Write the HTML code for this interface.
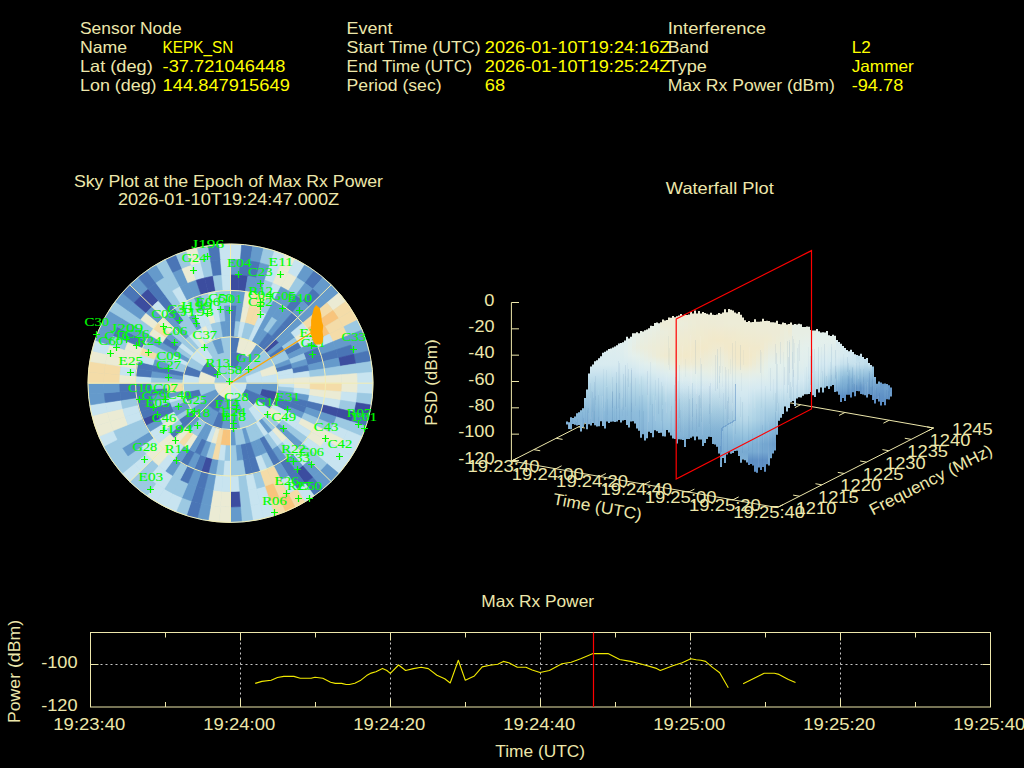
<!DOCTYPE html>
<html><head><meta charset="utf-8"><style>
html,body{margin:0;padding:0;background:#000;width:1024px;height:768px;overflow:hidden}
svg{display:block}
text{font-family:"Liberation Sans",sans-serif}
.m{font-family:"Liberation Mono",monospace}
.s{font-family:"Liberation Serif",serif}
</style></head><body>
<svg width="1024" height="768" viewBox="0 0 1024 768">
<rect width="1024" height="768" fill="#000"/>
<text x="80.00" y="34.00" fill="#ede7ab" font-size="16.5" textLength="101.69" lengthAdjust="spacingAndGlyphs">Sensor Node</text>
<text x="80.00" y="53.00" fill="#ede7ab" font-size="16.5" textLength="47.20" lengthAdjust="spacingAndGlyphs">Name</text>
<text x="80.00" y="72.00" fill="#ede7ab" font-size="16.5" textLength="72.72" lengthAdjust="spacingAndGlyphs">Lat (deg)</text>
<text x="80.00" y="91.00" fill="#ede7ab" font-size="16.5" textLength="76.57" lengthAdjust="spacingAndGlyphs">Lon (deg)</text>
<text x="162.60" y="53.00" fill="#ffff00" font-size="16.5" textLength="70.87" lengthAdjust="spacingAndGlyphs">KEPK_SN</text>
<text x="162.60" y="72.00" fill="#ffff00" font-size="16.5" textLength="122.84" lengthAdjust="spacingAndGlyphs">-37.721046448</text>
<text x="162.60" y="91.00" fill="#ffff00" font-size="16.5" textLength="127.24" lengthAdjust="spacingAndGlyphs">144.847915649</text>
<text x="346.60" y="34.00" fill="#ede7ab" font-size="16.5" textLength="45.84" lengthAdjust="spacingAndGlyphs">Event</text>
<text x="346.60" y="53.00" fill="#ede7ab" font-size="16.5" textLength="134.05" lengthAdjust="spacingAndGlyphs">Start Time (UTC)</text>
<text x="346.60" y="72.00" fill="#ede7ab" font-size="16.5" textLength="125.37" lengthAdjust="spacingAndGlyphs">End Time (UTC)</text>
<text x="346.60" y="91.00" fill="#ede7ab" font-size="16.5" textLength="95.01" lengthAdjust="spacingAndGlyphs">Period (sec)</text>
<text x="484.80" y="53.00" fill="#ffff00" font-size="16.5" textLength="185.58" lengthAdjust="spacingAndGlyphs">2026-01-10T19:24:16Z</text>
<text x="484.80" y="72.00" fill="#ffff00" font-size="16.5" textLength="185.58" lengthAdjust="spacingAndGlyphs">2026-01-10T19:25:24Z</text>
<text x="484.80" y="91.00" fill="#ffff00" font-size="16.5" textLength="20.36" lengthAdjust="spacingAndGlyphs">68</text>
<text x="667.70" y="34.00" fill="#ede7ab" font-size="16.5" textLength="98.23" lengthAdjust="spacingAndGlyphs">Interference</text>
<text x="667.70" y="53.00" fill="#ede7ab" font-size="16.5" textLength="41.08" lengthAdjust="spacingAndGlyphs">Band</text>
<text x="667.70" y="72.00" fill="#ede7ab" font-size="16.5" textLength="39.24" lengthAdjust="spacingAndGlyphs">Type</text>
<text x="667.70" y="91.00" fill="#ede7ab" font-size="16.5" textLength="167.07" lengthAdjust="spacingAndGlyphs">Max Rx Power (dBm)</text>
<text x="851.70" y="53.00" fill="#ffff00" font-size="16.5" textLength="19.09" lengthAdjust="spacingAndGlyphs">L2</text>
<text x="851.70" y="72.00" fill="#ffff00" font-size="16.5" textLength="62.12" lengthAdjust="spacingAndGlyphs">Jammer</text>
<text x="851.70" y="91.00" fill="#ffff00" font-size="16.5" textLength="51.58" lengthAdjust="spacingAndGlyphs">-94.78</text>
<text x="73.95" y="186.50" fill="#ede7ab" font-size="16.5" textLength="309.09" lengthAdjust="spacingAndGlyphs">Sky Plot at the Epoch of Max Rx Power</text>
<text x="117.90" y="205.00" fill="#ede7ab" font-size="16.5" textLength="221.20" lengthAdjust="spacingAndGlyphs">2026-01-10T19:24:47.000Z</text>
<ellipse cx="230.5" cy="383.2" rx="142.5" ry="139.2" fill="#9dcae3"/>
<path d="M230.50,244.00 A142.50,139.20 0 0 1 241.68,244.43 L240.44,259.85 A126.67,123.73 0 0 0 230.50,259.47 Z" fill="#c8e4f0" stroke="#c8e4f0" stroke-width="0.6"/>
<path d="M241.68,244.43 A142.50,139.20 0 0 1 252.79,245.71 L250.32,260.99 A126.67,123.73 0 0 0 240.44,259.85 Z" fill="#4a75b6" stroke="#4a75b6" stroke-width="0.6"/>
<path d="M252.79,245.71 A142.50,139.20 0 0 1 263.77,247.85 L260.07,262.89 A126.67,123.73 0 0 0 250.32,260.99 Z" fill="#659acb" stroke="#659acb" stroke-width="0.6"/>
<path d="M263.77,247.85 A142.50,139.20 0 0 1 274.53,250.81 L269.64,265.52 A126.67,123.73 0 0 0 260.07,262.89 Z" fill="#9cc9e2" stroke="#9cc9e2" stroke-width="0.6"/>
<path d="M274.53,250.81 A142.50,139.20 0 0 1 285.03,254.60 L278.97,268.89 A126.67,123.73 0 0 0 269.64,265.52 Z" fill="#c8e4f0" stroke="#c8e4f0" stroke-width="0.6"/>
<path d="M285.03,254.60 A142.50,139.20 0 0 1 295.19,259.17 L288.01,272.95 A126.67,123.73 0 0 0 278.97,268.89 Z" fill="#ebebd4" stroke="#ebebd4" stroke-width="0.6"/>
<path d="M295.19,259.17 A142.50,139.20 0 0 1 304.96,264.51 L296.68,277.70 A126.67,123.73 0 0 0 288.01,272.95 Z" fill="#c8e4f0" stroke="#c8e4f0" stroke-width="0.6"/>
<path d="M304.96,264.51 A142.50,139.20 0 0 1 314.26,270.58 L304.95,283.10 A126.67,123.73 0 0 0 296.68,277.70 Z" fill="#659acb" stroke="#659acb" stroke-width="0.6"/>
<path d="M314.26,270.58 A142.50,139.20 0 0 1 323.05,277.35 L312.76,289.11 A126.67,123.73 0 0 0 304.95,283.10 Z" fill="#4a75b6" stroke="#4a75b6" stroke-width="0.6"/>
<path d="M323.05,277.35 A142.50,139.20 0 0 1 331.26,284.77 L320.07,295.71 A126.67,123.73 0 0 0 312.76,289.11 Z" fill="#659acb" stroke="#659acb" stroke-width="0.6"/>
<path d="M230.50,259.47 A126.67,123.73 0 0 1 240.44,259.85 L239.20,275.27 A110.83,108.27 0 0 0 230.50,274.93 Z" fill="#659acb" stroke="#659acb" stroke-width="0.6"/>
<path d="M240.44,259.85 A126.67,123.73 0 0 1 250.32,260.99 L247.84,276.27 A110.83,108.27 0 0 0 239.20,275.27 Z" fill="#4a75b6" stroke="#4a75b6" stroke-width="0.6"/>
<path d="M250.32,260.99 A126.67,123.73 0 0 1 260.07,262.89 L256.37,277.92 A110.83,108.27 0 0 0 247.84,276.27 Z" fill="#4a75b6" stroke="#4a75b6" stroke-width="0.6"/>
<path d="M260.07,262.89 A126.67,123.73 0 0 1 269.64,265.52 L264.75,280.23 A110.83,108.27 0 0 0 256.37,277.92 Z" fill="#659acb" stroke="#659acb" stroke-width="0.6"/>
<path d="M269.64,265.52 A126.67,123.73 0 0 1 278.97,268.89 L272.91,283.17 A110.83,108.27 0 0 0 264.75,280.23 Z" fill="#c8e4f0" stroke="#c8e4f0" stroke-width="0.6"/>
<path d="M278.97,268.89 A126.67,123.73 0 0 1 288.01,272.95 L280.82,286.73 A110.83,108.27 0 0 0 272.91,283.17 Z" fill="#ebebd4" stroke="#ebebd4" stroke-width="0.6"/>
<path d="M288.01,272.95 A126.67,123.73 0 0 1 296.68,277.70 L288.41,290.89 A110.83,108.27 0 0 0 280.82,286.73 Z" fill="#ebebd4" stroke="#ebebd4" stroke-width="0.6"/>
<path d="M296.68,277.70 A126.67,123.73 0 0 1 304.95,283.10 L295.65,295.61 A110.83,108.27 0 0 0 288.41,290.89 Z" fill="#9cc9e2" stroke="#9cc9e2" stroke-width="0.6"/>
<path d="M304.95,283.10 A126.67,123.73 0 0 1 312.76,289.11 L302.48,300.87 A110.83,108.27 0 0 0 295.65,295.61 Z" fill="#659acb" stroke="#659acb" stroke-width="0.6"/>
<path d="M312.76,289.11 A126.67,123.73 0 0 1 320.07,295.71 L308.87,306.64 A110.83,108.27 0 0 0 302.48,300.87 Z" fill="#4a75b6" stroke="#4a75b6" stroke-width="0.6"/>
<path d="M230.50,274.93 A110.83,108.27 0 0 1 239.20,275.27 L237.95,290.69 A95.00,92.80 0 0 0 230.50,290.40 Z" fill="#3c4d9f" stroke="#3c4d9f" stroke-width="0.6"/>
<path d="M239.20,275.27 A110.83,108.27 0 0 1 247.84,276.27 L245.36,291.54 A95.00,92.80 0 0 0 237.95,290.69 Z" fill="#3c4d9f" stroke="#3c4d9f" stroke-width="0.6"/>
<path d="M247.84,276.27 A110.83,108.27 0 0 1 256.37,277.92 L252.68,292.96 A95.00,92.80 0 0 0 245.36,291.54 Z" fill="#659acb" stroke="#659acb" stroke-width="0.6"/>
<path d="M256.37,277.92 A110.83,108.27 0 0 1 264.75,280.23 L259.86,294.94 A95.00,92.80 0 0 0 252.68,292.96 Z" fill="#659acb" stroke="#659acb" stroke-width="0.6"/>
<path d="M264.75,280.23 A110.83,108.27 0 0 1 272.91,283.17 L266.85,297.46 A95.00,92.80 0 0 0 259.86,294.94 Z" fill="#9cc9e2" stroke="#9cc9e2" stroke-width="0.6"/>
<path d="M272.91,283.17 A110.83,108.27 0 0 1 280.82,286.73 L273.63,300.51 A95.00,92.80 0 0 0 266.85,297.46 Z" fill="#c8e4f0" stroke="#c8e4f0" stroke-width="0.6"/>
<path d="M280.82,286.73 A110.83,108.27 0 0 1 288.41,290.89 L280.14,304.07 A95.00,92.80 0 0 0 273.63,300.51 Z" fill="#659acb" stroke="#659acb" stroke-width="0.6"/>
<path d="M288.41,290.89 A110.83,108.27 0 0 1 295.65,295.61 L286.34,308.12 A95.00,92.80 0 0 0 280.14,304.07 Z" fill="#659acb" stroke="#659acb" stroke-width="0.6"/>
<path d="M295.65,295.61 A110.83,108.27 0 0 1 302.48,300.87 L292.20,312.63 A95.00,92.80 0 0 0 286.34,308.12 Z" fill="#4a75b6" stroke="#4a75b6" stroke-width="0.6"/>
<path d="M302.48,300.87 A110.83,108.27 0 0 1 308.87,306.64 L297.68,317.58 A95.00,92.80 0 0 0 292.20,312.63 Z" fill="#659acb" stroke="#659acb" stroke-width="0.6"/>
<path d="M230.50,290.40 A95.00,92.80 0 0 1 237.95,290.69 L236.71,306.11 A79.17,77.33 0 0 0 230.50,305.87 Z" fill="#659acb" stroke="#659acb" stroke-width="0.6"/>
<path d="M237.95,290.69 A95.00,92.80 0 0 1 245.36,291.54 L242.88,306.82 A79.17,77.33 0 0 0 236.71,306.11 Z" fill="#659acb" stroke="#659acb" stroke-width="0.6"/>
<path d="M245.36,291.54 A95.00,92.80 0 0 1 252.68,292.96 L248.98,308.00 A79.17,77.33 0 0 0 242.88,306.82 Z" fill="#ebebd4" stroke="#ebebd4" stroke-width="0.6"/>
<path d="M252.68,292.96 A95.00,92.80 0 0 1 259.86,294.94 L254.96,309.65 A79.17,77.33 0 0 0 248.98,308.00 Z" fill="#f4dca8" stroke="#f4dca8" stroke-width="0.6"/>
<path d="M259.86,294.94 A95.00,92.80 0 0 1 266.85,297.46 L260.80,311.75 A79.17,77.33 0 0 0 254.96,309.65 Z" fill="#f4dca8" stroke="#f4dca8" stroke-width="0.6"/>
<path d="M266.85,297.46 A95.00,92.80 0 0 1 273.63,300.51 L266.44,314.30 A79.17,77.33 0 0 0 260.80,311.75 Z" fill="#9cc9e2" stroke="#9cc9e2" stroke-width="0.6"/>
<path d="M273.63,300.51 A95.00,92.80 0 0 1 280.14,304.07 L271.86,317.26 A79.17,77.33 0 0 0 266.44,314.30 Z" fill="#659acb" stroke="#659acb" stroke-width="0.6"/>
<path d="M280.14,304.07 A95.00,92.80 0 0 1 286.34,308.12 L277.03,320.64 A79.17,77.33 0 0 0 271.86,317.26 Z" fill="#659acb" stroke="#659acb" stroke-width="0.6"/>
<path d="M286.34,308.12 A95.00,92.80 0 0 1 292.20,312.63 L281.91,324.40 A79.17,77.33 0 0 0 277.03,320.64 Z" fill="#659acb" stroke="#659acb" stroke-width="0.6"/>
<path d="M292.20,312.63 A95.00,92.80 0 0 1 297.68,317.58 L286.48,328.52 A79.17,77.33 0 0 0 281.91,324.40 Z" fill="#4a75b6" stroke="#4a75b6" stroke-width="0.6"/>
<path d="M230.50,305.87 A79.17,77.33 0 0 1 236.71,306.11 L235.47,321.52 A63.33,61.87 0 0 0 230.50,321.33 Z" fill="#4a75b6" stroke="#4a75b6" stroke-width="0.6"/>
<path d="M236.71,306.11 A79.17,77.33 0 0 1 242.88,306.82 L240.41,322.10 A63.33,61.87 0 0 0 235.47,321.52 Z" fill="#659acb" stroke="#659acb" stroke-width="0.6"/>
<path d="M242.88,306.82 A79.17,77.33 0 0 1 248.98,308.00 L245.28,323.04 A63.33,61.87 0 0 0 240.41,322.10 Z" fill="#ebebd4" stroke="#ebebd4" stroke-width="0.6"/>
<path d="M248.98,308.00 A79.17,77.33 0 0 1 254.96,309.65 L250.07,324.36 A63.33,61.87 0 0 0 245.28,323.04 Z" fill="#f4dca8" stroke="#f4dca8" stroke-width="0.6"/>
<path d="M254.96,309.65 A79.17,77.33 0 0 1 260.80,311.75 L254.74,326.04 A63.33,61.87 0 0 0 250.07,324.36 Z" fill="#f4dca8" stroke="#f4dca8" stroke-width="0.6"/>
<path d="M260.80,311.75 A79.17,77.33 0 0 1 266.44,314.30 L259.25,328.08 A63.33,61.87 0 0 0 254.74,326.04 Z" fill="#c8e4f0" stroke="#c8e4f0" stroke-width="0.6"/>
<path d="M266.44,314.30 A79.17,77.33 0 0 1 271.86,317.26 L263.59,330.45 A63.33,61.87 0 0 0 259.25,328.08 Z" fill="#659acb" stroke="#659acb" stroke-width="0.6"/>
<path d="M271.86,317.26 A79.17,77.33 0 0 1 277.03,320.64 L267.73,333.15 A63.33,61.87 0 0 0 263.59,330.45 Z" fill="#9cc9e2" stroke="#9cc9e2" stroke-width="0.6"/>
<path d="M277.03,320.64 A79.17,77.33 0 0 1 281.91,324.40 L271.63,336.16 A63.33,61.87 0 0 0 267.73,333.15 Z" fill="#659acb" stroke="#659acb" stroke-width="0.6"/>
<path d="M281.91,324.40 A79.17,77.33 0 0 1 286.48,328.52 L275.28,339.45 A63.33,61.87 0 0 0 271.63,336.16 Z" fill="#4a75b6" stroke="#4a75b6" stroke-width="0.6"/>
<path d="M230.50,321.33 A63.33,61.87 0 0 1 235.47,321.52 L234.23,336.94 A47.50,46.40 0 0 0 230.50,336.80 Z" fill="#4a75b6" stroke="#4a75b6" stroke-width="0.6"/>
<path d="M235.47,321.52 A63.33,61.87 0 0 1 240.41,322.10 L237.93,337.37 A47.50,46.40 0 0 0 234.23,336.94 Z" fill="#9cc9e2" stroke="#9cc9e2" stroke-width="0.6"/>
<path d="M240.41,322.10 A63.33,61.87 0 0 1 245.28,323.04 L241.59,338.08 A47.50,46.40 0 0 0 237.93,337.37 Z" fill="#c8e4f0" stroke="#c8e4f0" stroke-width="0.6"/>
<path d="M245.28,323.04 A63.33,61.87 0 0 1 250.07,324.36 L245.18,339.07 A47.50,46.40 0 0 0 241.59,338.08 Z" fill="#9cc9e2" stroke="#9cc9e2" stroke-width="0.6"/>
<path d="M250.07,324.36 A63.33,61.87 0 0 1 254.74,326.04 L248.68,340.33 A47.50,46.40 0 0 0 245.18,339.07 Z" fill="#9cc9e2" stroke="#9cc9e2" stroke-width="0.6"/>
<path d="M254.74,326.04 A63.33,61.87 0 0 1 259.25,328.08 L252.06,341.86 A47.50,46.40 0 0 0 248.68,340.33 Z" fill="#c8e4f0" stroke="#c8e4f0" stroke-width="0.6"/>
<path d="M259.25,328.08 A63.33,61.87 0 0 1 263.59,330.45 L255.32,343.64 A47.50,46.40 0 0 0 252.06,341.86 Z" fill="#659acb" stroke="#659acb" stroke-width="0.6"/>
<path d="M263.59,330.45 A63.33,61.87 0 0 1 267.73,333.15 L258.42,345.66 A47.50,46.40 0 0 0 255.32,343.64 Z" fill="#659acb" stroke="#659acb" stroke-width="0.6"/>
<path d="M267.73,333.15 A63.33,61.87 0 0 1 271.63,336.16 L261.35,347.92 A47.50,46.40 0 0 0 258.42,345.66 Z" fill="#4a75b6" stroke="#4a75b6" stroke-width="0.6"/>
<path d="M271.63,336.16 A63.33,61.87 0 0 1 275.28,339.45 L264.09,350.39 A47.50,46.40 0 0 0 261.35,347.92 Z" fill="#4a75b6" stroke="#4a75b6" stroke-width="0.6"/>
<path d="M331.26,284.77 A142.50,139.20 0 0 1 338.86,292.80 L326.82,302.84 A126.67,123.73 0 0 0 320.07,295.71 Z" fill="#659acb" stroke="#659acb" stroke-width="0.6"/>
<path d="M338.86,292.80 A142.50,139.20 0 0 1 345.78,301.38 L332.98,310.47 A126.67,123.73 0 0 0 326.82,302.84 Z" fill="#ebebd4" stroke="#ebebd4" stroke-width="0.6"/>
<path d="M345.78,301.38 A142.50,139.20 0 0 1 352.00,310.47 L338.50,318.55 A126.67,123.73 0 0 0 332.98,310.47 Z" fill="#f4dca8" stroke="#f4dca8" stroke-width="0.6"/>
<path d="M352.00,310.47 A142.50,139.20 0 0 1 357.47,320.00 L343.36,327.03 A126.67,123.73 0 0 0 338.50,318.55 Z" fill="#f4dca8" stroke="#f4dca8" stroke-width="0.6"/>
<path d="M357.47,320.00 A142.50,139.20 0 0 1 362.15,329.93 L347.52,335.85 A126.67,123.73 0 0 0 343.36,327.03 Z" fill="#9cc9e2" stroke="#9cc9e2" stroke-width="0.6"/>
<path d="M362.15,329.93 A142.50,139.20 0 0 1 366.03,340.18 L350.97,344.96 A126.67,123.73 0 0 0 347.52,335.85 Z" fill="#659acb" stroke="#659acb" stroke-width="0.6"/>
<path d="M366.03,340.18 A142.50,139.20 0 0 1 369.06,350.70 L353.67,354.32 A126.67,123.73 0 0 0 350.97,344.96 Z" fill="#659acb" stroke="#659acb" stroke-width="0.6"/>
<path d="M369.06,350.70 A142.50,139.20 0 0 1 371.25,361.42 L355.61,363.84 A126.67,123.73 0 0 0 353.67,354.32 Z" fill="#4a75b6" stroke="#4a75b6" stroke-width="0.6"/>
<path d="M371.25,361.42 A142.50,139.20 0 0 1 372.56,372.28 L356.78,373.49 A126.67,123.73 0 0 0 355.61,363.84 Z" fill="#9cc9e2" stroke="#9cc9e2" stroke-width="0.6"/>
<path d="M372.56,372.28 A142.50,139.20 0 0 1 373.00,383.20 L357.17,383.20 A126.67,123.73 0 0 0 356.78,373.49 Z" fill="#c8e4f0" stroke="#c8e4f0" stroke-width="0.6"/>
<path d="M320.07,295.71 A126.67,123.73 0 0 1 326.82,302.84 L314.78,312.89 A110.83,108.27 0 0 0 308.87,306.64 Z" fill="#659acb" stroke="#659acb" stroke-width="0.6"/>
<path d="M326.82,302.84 A126.67,123.73 0 0 1 332.98,310.47 L320.17,319.56 A110.83,108.27 0 0 0 314.78,312.89 Z" fill="#f4dca8" stroke="#f4dca8" stroke-width="0.6"/>
<path d="M332.98,310.47 A126.67,123.73 0 0 1 338.50,318.55 L325.00,326.63 A110.83,108.27 0 0 0 320.17,319.56 Z" fill="#f8c47c" stroke="#f8c47c" stroke-width="0.6"/>
<path d="M338.50,318.55 A126.67,123.73 0 0 1 343.36,327.03 L329.25,334.05 A110.83,108.27 0 0 0 325.00,326.63 Z" fill="#f4dca8" stroke="#f4dca8" stroke-width="0.6"/>
<path d="M343.36,327.03 A126.67,123.73 0 0 1 347.52,335.85 L332.90,341.77 A110.83,108.27 0 0 0 329.25,334.05 Z" fill="#f4dca8" stroke="#f4dca8" stroke-width="0.6"/>
<path d="M347.52,335.85 A126.67,123.73 0 0 1 350.97,344.96 L335.91,349.74 A110.83,108.27 0 0 0 332.90,341.77 Z" fill="#659acb" stroke="#659acb" stroke-width="0.6"/>
<path d="M350.97,344.96 A126.67,123.73 0 0 1 353.67,354.32 L338.27,357.93 A110.83,108.27 0 0 0 335.91,349.74 Z" fill="#4a75b6" stroke="#4a75b6" stroke-width="0.6"/>
<path d="M353.67,354.32 A126.67,123.73 0 0 1 355.61,363.84 L339.97,366.26 A110.83,108.27 0 0 0 338.27,357.93 Z" fill="#3c4d9f" stroke="#3c4d9f" stroke-width="0.6"/>
<path d="M355.61,363.84 A126.67,123.73 0 0 1 356.78,373.49 L340.99,374.71 A110.83,108.27 0 0 0 339.97,366.26 Z" fill="#9cc9e2" stroke="#9cc9e2" stroke-width="0.6"/>
<path d="M356.78,373.49 A126.67,123.73 0 0 1 357.17,383.20 L341.33,383.20 A110.83,108.27 0 0 0 340.99,374.71 Z" fill="#ebebd4" stroke="#ebebd4" stroke-width="0.6"/>
<path d="M308.87,306.64 A110.83,108.27 0 0 1 314.78,312.89 L302.74,322.93 A95.00,92.80 0 0 0 297.68,317.58 Z" fill="#659acb" stroke="#659acb" stroke-width="0.6"/>
<path d="M314.78,312.89 A110.83,108.27 0 0 1 320.17,319.56 L307.36,328.65 A95.00,92.80 0 0 0 302.74,322.93 Z" fill="#f4dca8" stroke="#f4dca8" stroke-width="0.6"/>
<path d="M320.17,319.56 A110.83,108.27 0 0 1 325.00,326.63 L311.50,334.71 A95.00,92.80 0 0 0 307.36,328.65 Z" fill="#f8c47c" stroke="#f8c47c" stroke-width="0.6"/>
<path d="M325.00,326.63 A110.83,108.27 0 0 1 329.25,334.05 L315.15,341.07 A95.00,92.80 0 0 0 311.50,334.71 Z" fill="#f8c47c" stroke="#f8c47c" stroke-width="0.6"/>
<path d="M329.25,334.05 A110.83,108.27 0 0 1 332.90,341.77 L318.27,347.69 A95.00,92.80 0 0 0 315.15,341.07 Z" fill="#c8e4f0" stroke="#c8e4f0" stroke-width="0.6"/>
<path d="M332.90,341.77 A110.83,108.27 0 0 1 335.91,349.74 L320.85,354.52 A95.00,92.80 0 0 0 318.27,347.69 Z" fill="#659acb" stroke="#659acb" stroke-width="0.6"/>
<path d="M335.91,349.74 A110.83,108.27 0 0 1 338.27,357.93 L322.88,361.54 A95.00,92.80 0 0 0 320.85,354.52 Z" fill="#4a75b6" stroke="#4a75b6" stroke-width="0.6"/>
<path d="M338.27,357.93 A110.83,108.27 0 0 1 339.97,366.26 L324.33,368.68 A95.00,92.80 0 0 0 322.88,361.54 Z" fill="#659acb" stroke="#659acb" stroke-width="0.6"/>
<path d="M339.97,366.26 A110.83,108.27 0 0 1 340.99,374.71 L325.21,375.92 A95.00,92.80 0 0 0 324.33,368.68 Z" fill="#9cc9e2" stroke="#9cc9e2" stroke-width="0.6"/>
<path d="M340.99,374.71 A110.83,108.27 0 0 1 341.33,383.20 L325.50,383.20 A95.00,92.80 0 0 0 325.21,375.92 Z" fill="#ebebd4" stroke="#ebebd4" stroke-width="0.6"/>
<path d="M297.68,317.58 A95.00,92.80 0 0 1 302.74,322.93 L290.70,332.98 A79.17,77.33 0 0 0 286.48,328.52 Z" fill="#659acb" stroke="#659acb" stroke-width="0.6"/>
<path d="M302.74,322.93 A95.00,92.80 0 0 1 307.36,328.65 L294.55,337.74 A79.17,77.33 0 0 0 290.70,332.98 Z" fill="#c8e4f0" stroke="#c8e4f0" stroke-width="0.6"/>
<path d="M307.36,328.65 A95.00,92.80 0 0 1 311.50,334.71 L298.00,342.79 A79.17,77.33 0 0 0 294.55,337.74 Z" fill="#ebebd4" stroke="#ebebd4" stroke-width="0.6"/>
<path d="M311.50,334.71 A95.00,92.80 0 0 1 315.15,341.07 L301.04,348.09 A79.17,77.33 0 0 0 298.00,342.79 Z" fill="#c8e4f0" stroke="#c8e4f0" stroke-width="0.6"/>
<path d="M315.15,341.07 A95.00,92.80 0 0 1 318.27,347.69 L303.64,353.61 A79.17,77.33 0 0 0 301.04,348.09 Z" fill="#659acb" stroke="#659acb" stroke-width="0.6"/>
<path d="M318.27,347.69 A95.00,92.80 0 0 1 320.85,354.52 L305.79,359.30 A79.17,77.33 0 0 0 303.64,353.61 Z" fill="#4a75b6" stroke="#4a75b6" stroke-width="0.6"/>
<path d="M320.85,354.52 A95.00,92.80 0 0 1 322.88,361.54 L307.48,365.15 A79.17,77.33 0 0 0 305.79,359.30 Z" fill="#4a75b6" stroke="#4a75b6" stroke-width="0.6"/>
<path d="M322.88,361.54 A95.00,92.80 0 0 1 324.33,368.68 L308.69,371.10 A79.17,77.33 0 0 0 307.48,365.15 Z" fill="#659acb" stroke="#659acb" stroke-width="0.6"/>
<path d="M324.33,368.68 A95.00,92.80 0 0 1 325.21,375.92 L309.42,377.13 A79.17,77.33 0 0 0 308.69,371.10 Z" fill="#9cc9e2" stroke="#9cc9e2" stroke-width="0.6"/>
<path d="M325.21,375.92 A95.00,92.80 0 0 1 325.50,383.20 L309.67,383.20 A79.17,77.33 0 0 0 309.42,377.13 Z" fill="#ebebd4" stroke="#ebebd4" stroke-width="0.6"/>
<path d="M286.48,328.52 A79.17,77.33 0 0 1 290.70,332.98 L278.66,343.02 A63.33,61.87 0 0 0 275.28,339.45 Z" fill="#659acb" stroke="#659acb" stroke-width="0.6"/>
<path d="M290.70,332.98 A79.17,77.33 0 0 1 294.55,337.74 L281.74,346.84 A63.33,61.87 0 0 0 278.66,343.02 Z" fill="#659acb" stroke="#659acb" stroke-width="0.6"/>
<path d="M294.55,337.74 A79.17,77.33 0 0 1 298.00,342.79 L284.50,350.87 A63.33,61.87 0 0 0 281.74,346.84 Z" fill="#9cc9e2" stroke="#9cc9e2" stroke-width="0.6"/>
<path d="M298.00,342.79 A79.17,77.33 0 0 1 301.04,348.09 L286.93,355.11 A63.33,61.87 0 0 0 284.50,350.87 Z" fill="#4a75b6" stroke="#4a75b6" stroke-width="0.6"/>
<path d="M301.04,348.09 A79.17,77.33 0 0 1 303.64,353.61 L289.01,359.52 A63.33,61.87 0 0 0 286.93,355.11 Z" fill="#659acb" stroke="#659acb" stroke-width="0.6"/>
<path d="M303.64,353.61 A79.17,77.33 0 0 1 305.79,359.30 L290.73,364.08 A63.33,61.87 0 0 0 289.01,359.52 Z" fill="#9cc9e2" stroke="#9cc9e2" stroke-width="0.6"/>
<path d="M305.79,359.30 A79.17,77.33 0 0 1 307.48,365.15 L292.08,368.76 A63.33,61.87 0 0 0 290.73,364.08 Z" fill="#659acb" stroke="#659acb" stroke-width="0.6"/>
<path d="M307.48,365.15 A79.17,77.33 0 0 1 308.69,371.10 L293.05,373.52 A63.33,61.87 0 0 0 292.08,368.76 Z" fill="#4a75b6" stroke="#4a75b6" stroke-width="0.6"/>
<path d="M308.69,371.10 A79.17,77.33 0 0 1 309.42,377.13 L293.64,378.35 A63.33,61.87 0 0 0 293.05,373.52 Z" fill="#c8e4f0" stroke="#c8e4f0" stroke-width="0.6"/>
<path d="M309.42,377.13 A79.17,77.33 0 0 1 309.67,383.20 L293.83,383.20 A63.33,61.87 0 0 0 293.64,378.35 Z" fill="#ebebd4" stroke="#ebebd4" stroke-width="0.6"/>
<path d="M275.28,339.45 A63.33,61.87 0 0 1 278.66,343.02 L266.62,353.07 A47.50,46.40 0 0 0 264.09,350.39 Z" fill="#3c4d9f" stroke="#3c4d9f" stroke-width="0.6"/>
<path d="M278.66,343.02 A63.33,61.87 0 0 1 281.74,346.84 L268.93,355.93 A47.50,46.40 0 0 0 266.62,353.07 Z" fill="#659acb" stroke="#659acb" stroke-width="0.6"/>
<path d="M281.74,346.84 A63.33,61.87 0 0 1 284.50,350.87 L271.00,358.96 A47.50,46.40 0 0 0 268.93,355.93 Z" fill="#4a75b6" stroke="#4a75b6" stroke-width="0.6"/>
<path d="M284.50,350.87 A63.33,61.87 0 0 1 286.93,355.11 L272.82,362.13 A47.50,46.40 0 0 0 271.00,358.96 Z" fill="#9cc9e2" stroke="#9cc9e2" stroke-width="0.6"/>
<path d="M286.93,355.11 A63.33,61.87 0 0 1 289.01,359.52 L274.38,365.44 A47.50,46.40 0 0 0 272.82,362.13 Z" fill="#9cc9e2" stroke="#9cc9e2" stroke-width="0.6"/>
<path d="M289.01,359.52 A63.33,61.87 0 0 1 290.73,364.08 L275.68,368.86 A47.50,46.40 0 0 0 274.38,365.44 Z" fill="#659acb" stroke="#659acb" stroke-width="0.6"/>
<path d="M290.73,364.08 A63.33,61.87 0 0 1 292.08,368.76 L276.69,372.37 A47.50,46.40 0 0 0 275.68,368.86 Z" fill="#4a75b6" stroke="#4a75b6" stroke-width="0.6"/>
<path d="M292.08,368.76 A63.33,61.87 0 0 1 293.05,373.52 L277.42,375.94 A47.50,46.40 0 0 0 276.69,372.37 Z" fill="#c8e4f0" stroke="#c8e4f0" stroke-width="0.6"/>
<path d="M293.05,373.52 A63.33,61.87 0 0 1 293.64,378.35 L277.85,379.56 A47.50,46.40 0 0 0 277.42,375.94 Z" fill="#c8e4f0" stroke="#c8e4f0" stroke-width="0.6"/>
<path d="M293.64,378.35 A63.33,61.87 0 0 1 293.83,383.20 L278.00,383.20 A47.50,46.40 0 0 0 277.85,379.56 Z" fill="#ebebd4" stroke="#ebebd4" stroke-width="0.6"/>
<path d="M373.00,383.20 A142.50,139.20 0 0 1 372.56,394.12 L356.78,392.91 A126.67,123.73 0 0 0 357.17,383.20 Z" fill="#c8e4f0" stroke="#c8e4f0" stroke-width="0.6"/>
<path d="M372.56,394.12 A142.50,139.20 0 0 1 371.25,404.98 L355.61,402.56 A126.67,123.73 0 0 0 356.78,392.91 Z" fill="#9cc9e2" stroke="#9cc9e2" stroke-width="0.6"/>
<path d="M371.25,404.98 A142.50,139.20 0 0 1 369.06,415.70 L353.67,412.08 A126.67,123.73 0 0 0 355.61,402.56 Z" fill="#3c4d9f" stroke="#3c4d9f" stroke-width="0.6"/>
<path d="M369.06,415.70 A142.50,139.20 0 0 1 366.03,426.22 L350.97,421.44 A126.67,123.73 0 0 0 353.67,412.08 Z" fill="#4a75b6" stroke="#4a75b6" stroke-width="0.6"/>
<path d="M366.03,426.22 A142.50,139.20 0 0 1 362.15,436.47 L347.52,430.55 A126.67,123.73 0 0 0 350.97,421.44 Z" fill="#9cc9e2" stroke="#9cc9e2" stroke-width="0.6"/>
<path d="M362.15,436.47 A142.50,139.20 0 0 1 357.47,446.40 L343.36,439.37 A126.67,123.73 0 0 0 347.52,430.55 Z" fill="#c8e4f0" stroke="#c8e4f0" stroke-width="0.6"/>
<path d="M357.47,446.40 A142.50,139.20 0 0 1 352.00,455.93 L338.50,447.85 A126.67,123.73 0 0 0 343.36,439.37 Z" fill="#c8e4f0" stroke="#c8e4f0" stroke-width="0.6"/>
<path d="M352.00,455.93 A142.50,139.20 0 0 1 345.78,465.02 L332.98,455.93 A126.67,123.73 0 0 0 338.50,447.85 Z" fill="#c8e4f0" stroke="#c8e4f0" stroke-width="0.6"/>
<path d="M345.78,465.02 A142.50,139.20 0 0 1 338.86,473.60 L326.82,463.56 A126.67,123.73 0 0 0 332.98,455.93 Z" fill="#c8e4f0" stroke="#c8e4f0" stroke-width="0.6"/>
<path d="M338.86,473.60 A142.50,139.20 0 0 1 331.26,481.63 L320.07,470.69 A126.67,123.73 0 0 0 326.82,463.56 Z" fill="#659acb" stroke="#659acb" stroke-width="0.6"/>
<path d="M357.17,383.20 A126.67,123.73 0 0 1 356.78,392.91 L340.99,391.69 A110.83,108.27 0 0 0 341.33,383.20 Z" fill="#ebebd4" stroke="#ebebd4" stroke-width="0.6"/>
<path d="M356.78,392.91 A126.67,123.73 0 0 1 355.61,402.56 L339.97,400.14 A110.83,108.27 0 0 0 340.99,391.69 Z" fill="#c8e4f0" stroke="#c8e4f0" stroke-width="0.6"/>
<path d="M355.61,402.56 A126.67,123.73 0 0 1 353.67,412.08 L338.27,408.47 A110.83,108.27 0 0 0 339.97,400.14 Z" fill="#9cc9e2" stroke="#9cc9e2" stroke-width="0.6"/>
<path d="M353.67,412.08 A126.67,123.73 0 0 1 350.97,421.44 L335.91,416.66 A110.83,108.27 0 0 0 338.27,408.47 Z" fill="#3c4d9f" stroke="#3c4d9f" stroke-width="0.6"/>
<path d="M350.97,421.44 A126.67,123.73 0 0 1 347.52,430.55 L332.90,424.63 A110.83,108.27 0 0 0 335.91,416.66 Z" fill="#9cc9e2" stroke="#9cc9e2" stroke-width="0.6"/>
<path d="M347.52,430.55 A126.67,123.73 0 0 1 343.36,439.37 L329.25,432.35 A110.83,108.27 0 0 0 332.90,424.63 Z" fill="#c8e4f0" stroke="#c8e4f0" stroke-width="0.6"/>
<path d="M343.36,439.37 A126.67,123.73 0 0 1 338.50,447.85 L325.00,439.77 A110.83,108.27 0 0 0 329.25,432.35 Z" fill="#ebebd4" stroke="#ebebd4" stroke-width="0.6"/>
<path d="M338.50,447.85 A126.67,123.73 0 0 1 332.98,455.93 L320.17,446.84 A110.83,108.27 0 0 0 325.00,439.77 Z" fill="#c8e4f0" stroke="#c8e4f0" stroke-width="0.6"/>
<path d="M332.98,455.93 A126.67,123.73 0 0 1 326.82,463.56 L314.78,453.51 A110.83,108.27 0 0 0 320.17,446.84 Z" fill="#c8e4f0" stroke="#c8e4f0" stroke-width="0.6"/>
<path d="M326.82,463.56 A126.67,123.73 0 0 1 320.07,470.69 L308.87,459.76 A110.83,108.27 0 0 0 314.78,453.51 Z" fill="#9cc9e2" stroke="#9cc9e2" stroke-width="0.6"/>
<path d="M341.33,383.20 A110.83,108.27 0 0 1 340.99,391.69 L325.21,390.48 A95.00,92.80 0 0 0 325.50,383.20 Z" fill="#f4dca8" stroke="#f4dca8" stroke-width="0.6"/>
<path d="M340.99,391.69 A110.83,108.27 0 0 1 339.97,400.14 L324.33,397.72 A95.00,92.80 0 0 0 325.21,390.48 Z" fill="#ebebd4" stroke="#ebebd4" stroke-width="0.6"/>
<path d="M339.97,400.14 A110.83,108.27 0 0 1 338.27,408.47 L322.88,404.86 A95.00,92.80 0 0 0 324.33,397.72 Z" fill="#c8e4f0" stroke="#c8e4f0" stroke-width="0.6"/>
<path d="M338.27,408.47 A110.83,108.27 0 0 1 335.91,416.66 L320.85,411.88 A95.00,92.80 0 0 0 322.88,404.86 Z" fill="#3c4d9f" stroke="#3c4d9f" stroke-width="0.6"/>
<path d="M335.91,416.66 A110.83,108.27 0 0 1 332.90,424.63 L318.27,418.71 A95.00,92.80 0 0 0 320.85,411.88 Z" fill="#659acb" stroke="#659acb" stroke-width="0.6"/>
<path d="M332.90,424.63 A110.83,108.27 0 0 1 329.25,432.35 L315.15,425.33 A95.00,92.80 0 0 0 318.27,418.71 Z" fill="#9cc9e2" stroke="#9cc9e2" stroke-width="0.6"/>
<path d="M329.25,432.35 A110.83,108.27 0 0 1 325.00,439.77 L311.50,431.69 A95.00,92.80 0 0 0 315.15,425.33 Z" fill="#ebebd4" stroke="#ebebd4" stroke-width="0.6"/>
<path d="M325.00,439.77 A110.83,108.27 0 0 1 320.17,446.84 L307.36,437.75 A95.00,92.80 0 0 0 311.50,431.69 Z" fill="#ebebd4" stroke="#ebebd4" stroke-width="0.6"/>
<path d="M320.17,446.84 A110.83,108.27 0 0 1 314.78,453.51 L302.74,443.47 A95.00,92.80 0 0 0 307.36,437.75 Z" fill="#c8e4f0" stroke="#c8e4f0" stroke-width="0.6"/>
<path d="M314.78,453.51 A110.83,108.27 0 0 1 308.87,459.76 L297.68,448.82 A95.00,92.80 0 0 0 302.74,443.47 Z" fill="#9cc9e2" stroke="#9cc9e2" stroke-width="0.6"/>
<path d="M325.50,383.20 A95.00,92.80 0 0 1 325.21,390.48 L309.42,389.27 A79.17,77.33 0 0 0 309.67,383.20 Z" fill="#f4dca8" stroke="#f4dca8" stroke-width="0.6"/>
<path d="M325.21,390.48 A95.00,92.80 0 0 1 324.33,397.72 L308.69,395.30 A79.17,77.33 0 0 0 309.42,389.27 Z" fill="#ebebd4" stroke="#ebebd4" stroke-width="0.6"/>
<path d="M324.33,397.72 A95.00,92.80 0 0 1 322.88,404.86 L307.48,401.25 A79.17,77.33 0 0 0 308.69,395.30 Z" fill="#c8e4f0" stroke="#c8e4f0" stroke-width="0.6"/>
<path d="M322.88,404.86 A95.00,92.80 0 0 1 320.85,411.88 L305.79,407.10 A79.17,77.33 0 0 0 307.48,401.25 Z" fill="#4a75b6" stroke="#4a75b6" stroke-width="0.6"/>
<path d="M320.85,411.88 A95.00,92.80 0 0 1 318.27,418.71 L303.64,412.79 A79.17,77.33 0 0 0 305.79,407.10 Z" fill="#659acb" stroke="#659acb" stroke-width="0.6"/>
<path d="M318.27,418.71 A95.00,92.80 0 0 1 315.15,425.33 L301.04,418.31 A79.17,77.33 0 0 0 303.64,412.79 Z" fill="#9cc9e2" stroke="#9cc9e2" stroke-width="0.6"/>
<path d="M315.15,425.33 A95.00,92.80 0 0 1 311.50,431.69 L298.00,423.61 A79.17,77.33 0 0 0 301.04,418.31 Z" fill="#ebebd4" stroke="#ebebd4" stroke-width="0.6"/>
<path d="M311.50,431.69 A95.00,92.80 0 0 1 307.36,437.75 L294.55,428.66 A79.17,77.33 0 0 0 298.00,423.61 Z" fill="#c8e4f0" stroke="#c8e4f0" stroke-width="0.6"/>
<path d="M307.36,437.75 A95.00,92.80 0 0 1 302.74,443.47 L290.70,433.42 A79.17,77.33 0 0 0 294.55,428.66 Z" fill="#9cc9e2" stroke="#9cc9e2" stroke-width="0.6"/>
<path d="M302.74,443.47 A95.00,92.80 0 0 1 297.68,448.82 L286.48,437.88 A79.17,77.33 0 0 0 290.70,433.42 Z" fill="#659acb" stroke="#659acb" stroke-width="0.6"/>
<path d="M309.67,383.20 A79.17,77.33 0 0 1 309.42,389.27 L293.64,388.05 A63.33,61.87 0 0 0 293.83,383.20 Z" fill="#ebebd4" stroke="#ebebd4" stroke-width="0.6"/>
<path d="M309.42,389.27 A79.17,77.33 0 0 1 308.69,395.30 L293.05,392.88 A63.33,61.87 0 0 0 293.64,388.05 Z" fill="#c8e4f0" stroke="#c8e4f0" stroke-width="0.6"/>
<path d="M308.69,395.30 A79.17,77.33 0 0 1 307.48,401.25 L292.08,397.64 A63.33,61.87 0 0 0 293.05,392.88 Z" fill="#659acb" stroke="#659acb" stroke-width="0.6"/>
<path d="M307.48,401.25 A79.17,77.33 0 0 1 305.79,407.10 L290.73,402.32 A63.33,61.87 0 0 0 292.08,397.64 Z" fill="#4a75b6" stroke="#4a75b6" stroke-width="0.6"/>
<path d="M305.79,407.10 A79.17,77.33 0 0 1 303.64,412.79 L289.01,406.88 A63.33,61.87 0 0 0 290.73,402.32 Z" fill="#4a75b6" stroke="#4a75b6" stroke-width="0.6"/>
<path d="M303.64,412.79 A79.17,77.33 0 0 1 301.04,418.31 L286.93,411.29 A63.33,61.87 0 0 0 289.01,406.88 Z" fill="#659acb" stroke="#659acb" stroke-width="0.6"/>
<path d="M301.04,418.31 A79.17,77.33 0 0 1 298.00,423.61 L284.50,415.53 A63.33,61.87 0 0 0 286.93,411.29 Z" fill="#c8e4f0" stroke="#c8e4f0" stroke-width="0.6"/>
<path d="M298.00,423.61 A79.17,77.33 0 0 1 294.55,428.66 L281.74,419.56 A63.33,61.87 0 0 0 284.50,415.53 Z" fill="#c8e4f0" stroke="#c8e4f0" stroke-width="0.6"/>
<path d="M294.55,428.66 A79.17,77.33 0 0 1 290.70,433.42 L278.66,423.38 A63.33,61.87 0 0 0 281.74,419.56 Z" fill="#9cc9e2" stroke="#9cc9e2" stroke-width="0.6"/>
<path d="M290.70,433.42 A79.17,77.33 0 0 1 286.48,437.88 L275.28,426.95 A63.33,61.87 0 0 0 278.66,423.38 Z" fill="#659acb" stroke="#659acb" stroke-width="0.6"/>
<path d="M293.83,383.20 A63.33,61.87 0 0 1 293.64,388.05 L277.85,386.84 A47.50,46.40 0 0 0 278.00,383.20 Z" fill="#c8e4f0" stroke="#c8e4f0" stroke-width="0.6"/>
<path d="M293.64,388.05 A63.33,61.87 0 0 1 293.05,392.88 L277.42,390.46 A47.50,46.40 0 0 0 277.85,386.84 Z" fill="#9cc9e2" stroke="#9cc9e2" stroke-width="0.6"/>
<path d="M293.05,392.88 A63.33,61.87 0 0 1 292.08,397.64 L276.69,394.03 A47.50,46.40 0 0 0 277.42,390.46 Z" fill="#659acb" stroke="#659acb" stroke-width="0.6"/>
<path d="M292.08,397.64 A63.33,61.87 0 0 1 290.73,402.32 L275.68,397.54 A47.50,46.40 0 0 0 276.69,394.03 Z" fill="#659acb" stroke="#659acb" stroke-width="0.6"/>
<path d="M290.73,402.32 A63.33,61.87 0 0 1 289.01,406.88 L274.38,400.96 A47.50,46.40 0 0 0 275.68,397.54 Z" fill="#4a75b6" stroke="#4a75b6" stroke-width="0.6"/>
<path d="M289.01,406.88 A63.33,61.87 0 0 1 286.93,411.29 L272.82,404.27 A47.50,46.40 0 0 0 274.38,400.96 Z" fill="#4a75b6" stroke="#4a75b6" stroke-width="0.6"/>
<path d="M286.93,411.29 A63.33,61.87 0 0 1 284.50,415.53 L271.00,407.44 A47.50,46.40 0 0 0 272.82,404.27 Z" fill="#c8e4f0" stroke="#c8e4f0" stroke-width="0.6"/>
<path d="M284.50,415.53 A63.33,61.87 0 0 1 281.74,419.56 L268.93,410.47 A47.50,46.40 0 0 0 271.00,407.44 Z" fill="#ebebd4" stroke="#ebebd4" stroke-width="0.6"/>
<path d="M281.74,419.56 A63.33,61.87 0 0 1 278.66,423.38 L266.62,413.33 A47.50,46.40 0 0 0 268.93,410.47 Z" fill="#ebebd4" stroke="#ebebd4" stroke-width="0.6"/>
<path d="M278.66,423.38 A63.33,61.87 0 0 1 275.28,426.95 L264.09,416.01 A47.50,46.40 0 0 0 266.62,413.33 Z" fill="#9cc9e2" stroke="#9cc9e2" stroke-width="0.6"/>
<path d="M331.26,481.63 A142.50,139.20 0 0 1 323.05,489.05 L312.76,477.29 A126.67,123.73 0 0 0 320.07,470.69 Z" fill="#659acb" stroke="#659acb" stroke-width="0.6"/>
<path d="M323.05,489.05 A142.50,139.20 0 0 1 314.26,495.82 L304.95,483.30 A126.67,123.73 0 0 0 312.76,477.29 Z" fill="#4a75b6" stroke="#4a75b6" stroke-width="0.6"/>
<path d="M314.26,495.82 A142.50,139.20 0 0 1 304.96,501.89 L296.68,488.70 A126.67,123.73 0 0 0 304.95,483.30 Z" fill="#c8e4f0" stroke="#c8e4f0" stroke-width="0.6"/>
<path d="M304.96,501.89 A142.50,139.20 0 0 1 295.19,507.23 L288.01,493.45 A126.67,123.73 0 0 0 296.68,488.70 Z" fill="#f4dca8" stroke="#f4dca8" stroke-width="0.6"/>
<path d="M295.19,507.23 A142.50,139.20 0 0 1 285.03,511.80 L278.97,497.51 A126.67,123.73 0 0 0 288.01,493.45 Z" fill="#f8c47c" stroke="#f8c47c" stroke-width="0.6"/>
<path d="M285.03,511.80 A142.50,139.20 0 0 1 274.53,515.59 L269.64,500.88 A126.67,123.73 0 0 0 278.97,497.51 Z" fill="#f4dca8" stroke="#f4dca8" stroke-width="0.6"/>
<path d="M274.53,515.59 A142.50,139.20 0 0 1 263.77,518.55 L260.07,503.51 A126.67,123.73 0 0 0 269.64,500.88 Z" fill="#c8e4f0" stroke="#c8e4f0" stroke-width="0.6"/>
<path d="M263.77,518.55 A142.50,139.20 0 0 1 252.79,520.69 L250.32,505.41 A126.67,123.73 0 0 0 260.07,503.51 Z" fill="#c8e4f0" stroke="#c8e4f0" stroke-width="0.6"/>
<path d="M252.79,520.69 A142.50,139.20 0 0 1 241.68,521.97 L240.44,506.55 A126.67,123.73 0 0 0 250.32,505.41 Z" fill="#9cc9e2" stroke="#9cc9e2" stroke-width="0.6"/>
<path d="M241.68,521.97 A142.50,139.20 0 0 1 230.50,522.40 L230.50,506.93 A126.67,123.73 0 0 0 240.44,506.55 Z" fill="#659acb" stroke="#659acb" stroke-width="0.6"/>
<path d="M320.07,470.69 A126.67,123.73 0 0 1 312.76,477.29 L302.48,465.53 A110.83,108.27 0 0 0 308.87,459.76 Z" fill="#659acb" stroke="#659acb" stroke-width="0.6"/>
<path d="M312.76,477.29 A126.67,123.73 0 0 1 304.95,483.30 L295.65,470.79 A110.83,108.27 0 0 0 302.48,465.53 Z" fill="#3c4d9f" stroke="#3c4d9f" stroke-width="0.6"/>
<path d="M304.95,483.30 A126.67,123.73 0 0 1 296.68,488.70 L288.41,475.51 A110.83,108.27 0 0 0 295.65,470.79 Z" fill="#4a75b6" stroke="#4a75b6" stroke-width="0.6"/>
<path d="M296.68,488.70 A126.67,123.73 0 0 1 288.01,493.45 L280.82,479.67 A110.83,108.27 0 0 0 288.41,475.51 Z" fill="#c8e4f0" stroke="#c8e4f0" stroke-width="0.6"/>
<path d="M288.01,493.45 A126.67,123.73 0 0 1 278.97,497.51 L272.91,483.23 A110.83,108.27 0 0 0 280.82,479.67 Z" fill="#f4dca8" stroke="#f4dca8" stroke-width="0.6"/>
<path d="M278.97,497.51 A126.67,123.73 0 0 1 269.64,500.88 L264.75,486.17 A110.83,108.27 0 0 0 272.91,483.23 Z" fill="#f8c47c" stroke="#f8c47c" stroke-width="0.6"/>
<path d="M269.64,500.88 A126.67,123.73 0 0 1 260.07,503.51 L256.37,488.48 A110.83,108.27 0 0 0 264.75,486.17 Z" fill="#c8e4f0" stroke="#c8e4f0" stroke-width="0.6"/>
<path d="M260.07,503.51 A126.67,123.73 0 0 1 250.32,505.41 L247.84,490.13 A110.83,108.27 0 0 0 256.37,488.48 Z" fill="#c8e4f0" stroke="#c8e4f0" stroke-width="0.6"/>
<path d="M250.32,505.41 A126.67,123.73 0 0 1 240.44,506.55 L239.20,491.13 A110.83,108.27 0 0 0 247.84,490.13 Z" fill="#9cc9e2" stroke="#9cc9e2" stroke-width="0.6"/>
<path d="M240.44,506.55 A126.67,123.73 0 0 1 230.50,506.93 L230.50,491.47 A110.83,108.27 0 0 0 239.20,491.13 Z" fill="#3c4d9f" stroke="#3c4d9f" stroke-width="0.6"/>
<path d="M308.87,459.76 A110.83,108.27 0 0 1 302.48,465.53 L292.20,453.77 A95.00,92.80 0 0 0 297.68,448.82 Z" fill="#c8e4f0" stroke="#c8e4f0" stroke-width="0.6"/>
<path d="M302.48,465.53 A110.83,108.27 0 0 1 295.65,470.79 L286.34,458.28 A95.00,92.80 0 0 0 292.20,453.77 Z" fill="#659acb" stroke="#659acb" stroke-width="0.6"/>
<path d="M295.65,470.79 A110.83,108.27 0 0 1 288.41,475.51 L280.14,462.33 A95.00,92.80 0 0 0 286.34,458.28 Z" fill="#4a75b6" stroke="#4a75b6" stroke-width="0.6"/>
<path d="M288.41,475.51 A110.83,108.27 0 0 1 280.82,479.67 L273.63,465.89 A95.00,92.80 0 0 0 280.14,462.33 Z" fill="#659acb" stroke="#659acb" stroke-width="0.6"/>
<path d="M280.82,479.67 A110.83,108.27 0 0 1 272.91,483.23 L266.85,468.94 A95.00,92.80 0 0 0 273.63,465.89 Z" fill="#f4dca8" stroke="#f4dca8" stroke-width="0.6"/>
<path d="M272.91,483.23 A110.83,108.27 0 0 1 264.75,486.17 L259.86,471.46 A95.00,92.80 0 0 0 266.85,468.94 Z" fill="#f4dca8" stroke="#f4dca8" stroke-width="0.6"/>
<path d="M264.75,486.17 A110.83,108.27 0 0 1 256.37,488.48 L252.68,473.44 A95.00,92.80 0 0 0 259.86,471.46 Z" fill="#9cc9e2" stroke="#9cc9e2" stroke-width="0.6"/>
<path d="M256.37,488.48 A110.83,108.27 0 0 1 247.84,490.13 L245.36,474.86 A95.00,92.80 0 0 0 252.68,473.44 Z" fill="#c8e4f0" stroke="#c8e4f0" stroke-width="0.6"/>
<path d="M247.84,490.13 A110.83,108.27 0 0 1 239.20,491.13 L237.95,475.71 A95.00,92.80 0 0 0 245.36,474.86 Z" fill="#9cc9e2" stroke="#9cc9e2" stroke-width="0.6"/>
<path d="M239.20,491.13 A110.83,108.27 0 0 1 230.50,491.47 L230.50,476.00 A95.00,92.80 0 0 0 237.95,475.71 Z" fill="#c8e4f0" stroke="#c8e4f0" stroke-width="0.6"/>
<path d="M297.68,448.82 A95.00,92.80 0 0 1 292.20,453.77 L281.91,442.00 A79.17,77.33 0 0 0 286.48,437.88 Z" fill="#c8e4f0" stroke="#c8e4f0" stroke-width="0.6"/>
<path d="M292.20,453.77 A95.00,92.80 0 0 1 286.34,458.28 L277.03,445.76 A79.17,77.33 0 0 0 281.91,442.00 Z" fill="#9cc9e2" stroke="#9cc9e2" stroke-width="0.6"/>
<path d="M286.34,458.28 A95.00,92.80 0 0 1 280.14,462.33 L271.86,449.14 A79.17,77.33 0 0 0 277.03,445.76 Z" fill="#659acb" stroke="#659acb" stroke-width="0.6"/>
<path d="M280.14,462.33 A95.00,92.80 0 0 1 273.63,465.89 L266.44,452.10 A79.17,77.33 0 0 0 271.86,449.14 Z" fill="#4a75b6" stroke="#4a75b6" stroke-width="0.6"/>
<path d="M273.63,465.89 A95.00,92.80 0 0 1 266.85,468.94 L260.80,454.65 A79.17,77.33 0 0 0 266.44,452.10 Z" fill="#9cc9e2" stroke="#9cc9e2" stroke-width="0.6"/>
<path d="M266.85,468.94 A95.00,92.80 0 0 1 259.86,471.46 L254.96,456.75 A79.17,77.33 0 0 0 260.80,454.65 Z" fill="#c8e4f0" stroke="#c8e4f0" stroke-width="0.6"/>
<path d="M259.86,471.46 A95.00,92.80 0 0 1 252.68,473.44 L248.98,458.40 A79.17,77.33 0 0 0 254.96,456.75 Z" fill="#4a75b6" stroke="#4a75b6" stroke-width="0.6"/>
<path d="M252.68,473.44 A95.00,92.80 0 0 1 245.36,474.86 L242.88,459.58 A79.17,77.33 0 0 0 248.98,458.40 Z" fill="#4a75b6" stroke="#4a75b6" stroke-width="0.6"/>
<path d="M245.36,474.86 A95.00,92.80 0 0 1 237.95,475.71 L236.71,460.29 A79.17,77.33 0 0 0 242.88,459.58 Z" fill="#9cc9e2" stroke="#9cc9e2" stroke-width="0.6"/>
<path d="M237.95,475.71 A95.00,92.80 0 0 1 230.50,476.00 L230.50,460.53 A79.17,77.33 0 0 0 236.71,460.29 Z" fill="#9cc9e2" stroke="#9cc9e2" stroke-width="0.6"/>
<path d="M286.48,437.88 A79.17,77.33 0 0 1 281.91,442.00 L271.63,430.24 A63.33,61.87 0 0 0 275.28,426.95 Z" fill="#ebebd4" stroke="#ebebd4" stroke-width="0.6"/>
<path d="M281.91,442.00 A79.17,77.33 0 0 1 277.03,445.76 L267.73,433.25 A63.33,61.87 0 0 0 271.63,430.24 Z" fill="#c8e4f0" stroke="#c8e4f0" stroke-width="0.6"/>
<path d="M277.03,445.76 A79.17,77.33 0 0 1 271.86,449.14 L263.59,435.95 A63.33,61.87 0 0 0 267.73,433.25 Z" fill="#9cc9e2" stroke="#9cc9e2" stroke-width="0.6"/>
<path d="M271.86,449.14 A79.17,77.33 0 0 1 266.44,452.10 L259.25,438.32 A63.33,61.87 0 0 0 263.59,435.95 Z" fill="#4a75b6" stroke="#4a75b6" stroke-width="0.6"/>
<path d="M266.44,452.10 A79.17,77.33 0 0 1 260.80,454.65 L254.74,440.36 A63.33,61.87 0 0 0 259.25,438.32 Z" fill="#659acb" stroke="#659acb" stroke-width="0.6"/>
<path d="M260.80,454.65 A79.17,77.33 0 0 1 254.96,456.75 L250.07,442.04 A63.33,61.87 0 0 0 254.74,440.36 Z" fill="#659acb" stroke="#659acb" stroke-width="0.6"/>
<path d="M254.96,456.75 A79.17,77.33 0 0 1 248.98,458.40 L245.28,443.36 A63.33,61.87 0 0 0 250.07,442.04 Z" fill="#4a75b6" stroke="#4a75b6" stroke-width="0.6"/>
<path d="M248.98,458.40 A79.17,77.33 0 0 1 242.88,459.58 L240.41,444.30 A63.33,61.87 0 0 0 245.28,443.36 Z" fill="#4a75b6" stroke="#4a75b6" stroke-width="0.6"/>
<path d="M242.88,459.58 A79.17,77.33 0 0 1 236.71,460.29 L235.47,444.88 A63.33,61.87 0 0 0 240.41,444.30 Z" fill="#659acb" stroke="#659acb" stroke-width="0.6"/>
<path d="M236.71,460.29 A79.17,77.33 0 0 1 230.50,460.53 L230.50,445.07 A63.33,61.87 0 0 0 235.47,444.88 Z" fill="#9cc9e2" stroke="#9cc9e2" stroke-width="0.6"/>
<path d="M275.28,426.95 A63.33,61.87 0 0 1 271.63,430.24 L261.35,418.48 A47.50,46.40 0 0 0 264.09,416.01 Z" fill="#9cc9e2" stroke="#9cc9e2" stroke-width="0.6"/>
<path d="M271.63,430.24 A63.33,61.87 0 0 1 267.73,433.25 L258.42,420.74 A47.50,46.40 0 0 0 261.35,418.48 Z" fill="#659acb" stroke="#659acb" stroke-width="0.6"/>
<path d="M267.73,433.25 A63.33,61.87 0 0 1 263.59,435.95 L255.32,422.76 A47.50,46.40 0 0 0 258.42,420.74 Z" fill="#c8e4f0" stroke="#c8e4f0" stroke-width="0.6"/>
<path d="M263.59,435.95 A63.33,61.87 0 0 1 259.25,438.32 L252.06,424.54 A47.50,46.40 0 0 0 255.32,422.76 Z" fill="#9cc9e2" stroke="#9cc9e2" stroke-width="0.6"/>
<path d="M259.25,438.32 A63.33,61.87 0 0 1 254.74,440.36 L248.68,426.07 A47.50,46.40 0 0 0 252.06,424.54 Z" fill="#9cc9e2" stroke="#9cc9e2" stroke-width="0.6"/>
<path d="M254.74,440.36 A63.33,61.87 0 0 1 250.07,442.04 L245.18,427.33 A47.50,46.40 0 0 0 248.68,426.07 Z" fill="#9cc9e2" stroke="#9cc9e2" stroke-width="0.6"/>
<path d="M250.07,442.04 A63.33,61.87 0 0 1 245.28,443.36 L241.59,428.32 A47.50,46.40 0 0 0 245.18,427.33 Z" fill="#659acb" stroke="#659acb" stroke-width="0.6"/>
<path d="M245.28,443.36 A63.33,61.87 0 0 1 240.41,444.30 L237.93,429.03 A47.50,46.40 0 0 0 241.59,428.32 Z" fill="#9cc9e2" stroke="#9cc9e2" stroke-width="0.6"/>
<path d="M240.41,444.30 A63.33,61.87 0 0 1 235.47,444.88 L234.23,429.46 A47.50,46.40 0 0 0 237.93,429.03 Z" fill="#9cc9e2" stroke="#9cc9e2" stroke-width="0.6"/>
<path d="M235.47,444.88 A63.33,61.87 0 0 1 230.50,445.07 L230.50,429.60 A47.50,46.40 0 0 0 234.23,429.46 Z" fill="#659acb" stroke="#659acb" stroke-width="0.6"/>
<path d="M230.50,522.40 A142.50,139.20 0 0 1 219.32,521.97 L220.56,506.55 A126.67,123.73 0 0 0 230.50,506.93 Z" fill="#ebebd4" stroke="#ebebd4" stroke-width="0.6"/>
<path d="M219.32,521.97 A142.50,139.20 0 0 1 208.21,520.69 L210.68,505.41 A126.67,123.73 0 0 0 220.56,506.55 Z" fill="#ebebd4" stroke="#ebebd4" stroke-width="0.6"/>
<path d="M208.21,520.69 A142.50,139.20 0 0 1 197.23,518.55 L200.93,503.51 A126.67,123.73 0 0 0 210.68,505.41 Z" fill="#659acb" stroke="#659acb" stroke-width="0.6"/>
<path d="M197.23,518.55 A142.50,139.20 0 0 1 186.47,515.59 L191.36,500.88 A126.67,123.73 0 0 0 200.93,503.51 Z" fill="#4a75b6" stroke="#4a75b6" stroke-width="0.6"/>
<path d="M186.47,515.59 A142.50,139.20 0 0 1 175.97,511.80 L182.03,497.51 A126.67,123.73 0 0 0 191.36,500.88 Z" fill="#9cc9e2" stroke="#9cc9e2" stroke-width="0.6"/>
<path d="M175.97,511.80 A142.50,139.20 0 0 1 165.81,507.23 L172.99,493.45 A126.67,123.73 0 0 0 182.03,497.51 Z" fill="#c8e4f0" stroke="#c8e4f0" stroke-width="0.6"/>
<path d="M165.81,507.23 A142.50,139.20 0 0 1 156.04,501.89 L164.32,488.70 A126.67,123.73 0 0 0 172.99,493.45 Z" fill="#c8e4f0" stroke="#c8e4f0" stroke-width="0.6"/>
<path d="M156.04,501.89 A142.50,139.20 0 0 1 146.74,495.82 L156.05,483.30 A126.67,123.73 0 0 0 164.32,488.70 Z" fill="#c8e4f0" stroke="#c8e4f0" stroke-width="0.6"/>
<path d="M146.74,495.82 A142.50,139.20 0 0 1 137.95,489.05 L148.24,477.29 A126.67,123.73 0 0 0 156.05,483.30 Z" fill="#9cc9e2" stroke="#9cc9e2" stroke-width="0.6"/>
<path d="M137.95,489.05 A142.50,139.20 0 0 1 129.74,481.63 L140.93,470.69 A126.67,123.73 0 0 0 148.24,477.29 Z" fill="#9cc9e2" stroke="#9cc9e2" stroke-width="0.6"/>
<path d="M230.50,506.93 A126.67,123.73 0 0 1 220.56,506.55 L221.80,491.13 A110.83,108.27 0 0 0 230.50,491.47 Z" fill="#ebebd4" stroke="#ebebd4" stroke-width="0.6"/>
<path d="M220.56,506.55 A126.67,123.73 0 0 1 210.68,505.41 L213.16,490.13 A110.83,108.27 0 0 0 221.80,491.13 Z" fill="#ebebd4" stroke="#ebebd4" stroke-width="0.6"/>
<path d="M210.68,505.41 A126.67,123.73 0 0 1 200.93,503.51 L204.63,488.48 A110.83,108.27 0 0 0 213.16,490.13 Z" fill="#659acb" stroke="#659acb" stroke-width="0.6"/>
<path d="M200.93,503.51 A126.67,123.73 0 0 1 191.36,500.88 L196.25,486.17 A110.83,108.27 0 0 0 204.63,488.48 Z" fill="#4a75b6" stroke="#4a75b6" stroke-width="0.6"/>
<path d="M191.36,500.88 A126.67,123.73 0 0 1 182.03,497.51 L188.09,483.23 A110.83,108.27 0 0 0 196.25,486.17 Z" fill="#659acb" stroke="#659acb" stroke-width="0.6"/>
<path d="M182.03,497.51 A126.67,123.73 0 0 1 172.99,493.45 L180.18,479.67 A110.83,108.27 0 0 0 188.09,483.23 Z" fill="#9cc9e2" stroke="#9cc9e2" stroke-width="0.6"/>
<path d="M172.99,493.45 A126.67,123.73 0 0 1 164.32,488.70 L172.59,475.51 A110.83,108.27 0 0 0 180.18,479.67 Z" fill="#9cc9e2" stroke="#9cc9e2" stroke-width="0.6"/>
<path d="M164.32,488.70 A126.67,123.73 0 0 1 156.05,483.30 L165.35,470.79 A110.83,108.27 0 0 0 172.59,475.51 Z" fill="#c8e4f0" stroke="#c8e4f0" stroke-width="0.6"/>
<path d="M156.05,483.30 A126.67,123.73 0 0 1 148.24,477.29 L158.52,465.53 A110.83,108.27 0 0 0 165.35,470.79 Z" fill="#c8e4f0" stroke="#c8e4f0" stroke-width="0.6"/>
<path d="M148.24,477.29 A126.67,123.73 0 0 1 140.93,470.69 L152.13,459.76 A110.83,108.27 0 0 0 158.52,465.53 Z" fill="#9cc9e2" stroke="#9cc9e2" stroke-width="0.6"/>
<path d="M230.50,491.47 A110.83,108.27 0 0 1 221.80,491.13 L223.05,475.71 A95.00,92.80 0 0 0 230.50,476.00 Z" fill="#c8e4f0" stroke="#c8e4f0" stroke-width="0.6"/>
<path d="M221.80,491.13 A110.83,108.27 0 0 1 213.16,490.13 L215.64,474.86 A95.00,92.80 0 0 0 223.05,475.71 Z" fill="#c8e4f0" stroke="#c8e4f0" stroke-width="0.6"/>
<path d="M213.16,490.13 A110.83,108.27 0 0 1 204.63,488.48 L208.32,473.44 A95.00,92.80 0 0 0 215.64,474.86 Z" fill="#659acb" stroke="#659acb" stroke-width="0.6"/>
<path d="M204.63,488.48 A110.83,108.27 0 0 1 196.25,486.17 L201.14,471.46 A95.00,92.80 0 0 0 208.32,473.44 Z" fill="#4a75b6" stroke="#4a75b6" stroke-width="0.6"/>
<path d="M196.25,486.17 A110.83,108.27 0 0 1 188.09,483.23 L194.15,468.94 A95.00,92.80 0 0 0 201.14,471.46 Z" fill="#659acb" stroke="#659acb" stroke-width="0.6"/>
<path d="M188.09,483.23 A110.83,108.27 0 0 1 180.18,479.67 L187.37,465.89 A95.00,92.80 0 0 0 194.15,468.94 Z" fill="#4a75b6" stroke="#4a75b6" stroke-width="0.6"/>
<path d="M180.18,479.67 A110.83,108.27 0 0 1 172.59,475.51 L180.86,462.33 A95.00,92.80 0 0 0 187.37,465.89 Z" fill="#9cc9e2" stroke="#9cc9e2" stroke-width="0.6"/>
<path d="M172.59,475.51 A110.83,108.27 0 0 1 165.35,470.79 L174.66,458.28 A95.00,92.80 0 0 0 180.86,462.33 Z" fill="#659acb" stroke="#659acb" stroke-width="0.6"/>
<path d="M165.35,470.79 A110.83,108.27 0 0 1 158.52,465.53 L168.80,453.77 A95.00,92.80 0 0 0 174.66,458.28 Z" fill="#c8e4f0" stroke="#c8e4f0" stroke-width="0.6"/>
<path d="M158.52,465.53 A110.83,108.27 0 0 1 152.13,459.76 L163.32,448.82 A95.00,92.80 0 0 0 168.80,453.77 Z" fill="#ebebd4" stroke="#ebebd4" stroke-width="0.6"/>
<path d="M230.50,476.00 A95.00,92.80 0 0 1 223.05,475.71 L224.29,460.29 A79.17,77.33 0 0 0 230.50,460.53 Z" fill="#c8e4f0" stroke="#c8e4f0" stroke-width="0.6"/>
<path d="M223.05,475.71 A95.00,92.80 0 0 1 215.64,474.86 L218.12,459.58 A79.17,77.33 0 0 0 224.29,460.29 Z" fill="#9cc9e2" stroke="#9cc9e2" stroke-width="0.6"/>
<path d="M215.64,474.86 A95.00,92.80 0 0 1 208.32,473.44 L212.02,458.40 A79.17,77.33 0 0 0 218.12,459.58 Z" fill="#659acb" stroke="#659acb" stroke-width="0.6"/>
<path d="M208.32,473.44 A95.00,92.80 0 0 1 201.14,471.46 L206.04,456.75 A79.17,77.33 0 0 0 212.02,458.40 Z" fill="#3c4d9f" stroke="#3c4d9f" stroke-width="0.6"/>
<path d="M201.14,471.46 A95.00,92.80 0 0 1 194.15,468.94 L200.20,454.65 A79.17,77.33 0 0 0 206.04,456.75 Z" fill="#4a75b6" stroke="#4a75b6" stroke-width="0.6"/>
<path d="M194.15,468.94 A95.00,92.80 0 0 1 187.37,465.89 L194.56,452.10 A79.17,77.33 0 0 0 200.20,454.65 Z" fill="#659acb" stroke="#659acb" stroke-width="0.6"/>
<path d="M187.37,465.89 A95.00,92.80 0 0 1 180.86,462.33 L189.14,449.14 A79.17,77.33 0 0 0 194.56,452.10 Z" fill="#4a75b6" stroke="#4a75b6" stroke-width="0.6"/>
<path d="M180.86,462.33 A95.00,92.80 0 0 1 174.66,458.28 L183.97,445.76 A79.17,77.33 0 0 0 189.14,449.14 Z" fill="#659acb" stroke="#659acb" stroke-width="0.6"/>
<path d="M174.66,458.28 A95.00,92.80 0 0 1 168.80,453.77 L179.09,442.00 A79.17,77.33 0 0 0 183.97,445.76 Z" fill="#c8e4f0" stroke="#c8e4f0" stroke-width="0.6"/>
<path d="M168.80,453.77 A95.00,92.80 0 0 1 163.32,448.82 L174.52,437.88 A79.17,77.33 0 0 0 179.09,442.00 Z" fill="#ebebd4" stroke="#ebebd4" stroke-width="0.6"/>
<path d="M230.50,460.53 A79.17,77.33 0 0 1 224.29,460.29 L225.53,444.88 A63.33,61.87 0 0 0 230.50,445.07 Z" fill="#9cc9e2" stroke="#9cc9e2" stroke-width="0.6"/>
<path d="M224.29,460.29 A79.17,77.33 0 0 1 218.12,459.58 L220.59,444.30 A63.33,61.87 0 0 0 225.53,444.88 Z" fill="#c8e4f0" stroke="#c8e4f0" stroke-width="0.6"/>
<path d="M218.12,459.58 A79.17,77.33 0 0 1 212.02,458.40 L215.72,443.36 A63.33,61.87 0 0 0 220.59,444.30 Z" fill="#f4dca8" stroke="#f4dca8" stroke-width="0.6"/>
<path d="M212.02,458.40 A79.17,77.33 0 0 1 206.04,456.75 L210.93,442.04 A63.33,61.87 0 0 0 215.72,443.36 Z" fill="#9cc9e2" stroke="#9cc9e2" stroke-width="0.6"/>
<path d="M206.04,456.75 A79.17,77.33 0 0 1 200.20,454.65 L206.26,440.36 A63.33,61.87 0 0 0 210.93,442.04 Z" fill="#659acb" stroke="#659acb" stroke-width="0.6"/>
<path d="M200.20,454.65 A79.17,77.33 0 0 1 194.56,452.10 L201.75,438.32 A63.33,61.87 0 0 0 206.26,440.36 Z" fill="#4a75b6" stroke="#4a75b6" stroke-width="0.6"/>
<path d="M194.56,452.10 A79.17,77.33 0 0 1 189.14,449.14 L197.41,435.95 A63.33,61.87 0 0 0 201.75,438.32 Z" fill="#659acb" stroke="#659acb" stroke-width="0.6"/>
<path d="M189.14,449.14 A79.17,77.33 0 0 1 183.97,445.76 L193.27,433.25 A63.33,61.87 0 0 0 197.41,435.95 Z" fill="#ebebd4" stroke="#ebebd4" stroke-width="0.6"/>
<path d="M183.97,445.76 A79.17,77.33 0 0 1 179.09,442.00 L189.37,430.24 A63.33,61.87 0 0 0 193.27,433.25 Z" fill="#f4dca8" stroke="#f4dca8" stroke-width="0.6"/>
<path d="M179.09,442.00 A79.17,77.33 0 0 1 174.52,437.88 L185.72,426.95 A63.33,61.87 0 0 0 189.37,430.24 Z" fill="#ebebd4" stroke="#ebebd4" stroke-width="0.6"/>
<path d="M230.50,445.07 A63.33,61.87 0 0 1 225.53,444.88 L226.77,429.46 A47.50,46.40 0 0 0 230.50,429.60 Z" fill="#f8c47c" stroke="#f8c47c" stroke-width="0.6"/>
<path d="M225.53,444.88 A63.33,61.87 0 0 1 220.59,444.30 L223.07,429.03 A47.50,46.40 0 0 0 226.77,429.46 Z" fill="#f8c47c" stroke="#f8c47c" stroke-width="0.6"/>
<path d="M220.59,444.30 A63.33,61.87 0 0 1 215.72,443.36 L219.41,428.32 A47.50,46.40 0 0 0 223.07,429.03 Z" fill="#f4dca8" stroke="#f4dca8" stroke-width="0.6"/>
<path d="M215.72,443.36 A63.33,61.87 0 0 1 210.93,442.04 L215.82,427.33 A47.50,46.40 0 0 0 219.41,428.32 Z" fill="#ebebd4" stroke="#ebebd4" stroke-width="0.6"/>
<path d="M210.93,442.04 A63.33,61.87 0 0 1 206.26,440.36 L212.32,426.07 A47.50,46.40 0 0 0 215.82,427.33 Z" fill="#c8e4f0" stroke="#c8e4f0" stroke-width="0.6"/>
<path d="M206.26,440.36 A63.33,61.87 0 0 1 201.75,438.32 L208.94,424.54 A47.50,46.40 0 0 0 212.32,426.07 Z" fill="#659acb" stroke="#659acb" stroke-width="0.6"/>
<path d="M201.75,438.32 A63.33,61.87 0 0 1 197.41,435.95 L205.68,422.76 A47.50,46.40 0 0 0 208.94,424.54 Z" fill="#659acb" stroke="#659acb" stroke-width="0.6"/>
<path d="M197.41,435.95 A63.33,61.87 0 0 1 193.27,433.25 L202.58,420.74 A47.50,46.40 0 0 0 205.68,422.76 Z" fill="#9cc9e2" stroke="#9cc9e2" stroke-width="0.6"/>
<path d="M193.27,433.25 A63.33,61.87 0 0 1 189.37,430.24 L199.65,418.48 A47.50,46.40 0 0 0 202.58,420.74 Z" fill="#9cc9e2" stroke="#9cc9e2" stroke-width="0.6"/>
<path d="M189.37,430.24 A63.33,61.87 0 0 1 185.72,426.95 L196.91,416.01 A47.50,46.40 0 0 0 199.65,418.48 Z" fill="#659acb" stroke="#659acb" stroke-width="0.6"/>
<path d="M129.74,481.63 A142.50,139.20 0 0 1 122.14,473.60 L134.18,463.56 A126.67,123.73 0 0 0 140.93,470.69 Z" fill="#c8e4f0" stroke="#c8e4f0" stroke-width="0.6"/>
<path d="M122.14,473.60 A142.50,139.20 0 0 1 115.22,465.02 L128.02,455.93 A126.67,123.73 0 0 0 134.18,463.56 Z" fill="#9cc9e2" stroke="#9cc9e2" stroke-width="0.6"/>
<path d="M115.22,465.02 A142.50,139.20 0 0 1 109.00,455.93 L122.50,447.85 A126.67,123.73 0 0 0 128.02,455.93 Z" fill="#9cc9e2" stroke="#9cc9e2" stroke-width="0.6"/>
<path d="M109.00,455.93 A142.50,139.20 0 0 1 103.53,446.40 L117.64,439.37 A126.67,123.73 0 0 0 122.50,447.85 Z" fill="#9cc9e2" stroke="#9cc9e2" stroke-width="0.6"/>
<path d="M103.53,446.40 A142.50,139.20 0 0 1 98.85,436.47 L113.48,430.55 A126.67,123.73 0 0 0 117.64,439.37 Z" fill="#c8e4f0" stroke="#c8e4f0" stroke-width="0.6"/>
<path d="M98.85,436.47 A142.50,139.20 0 0 1 94.97,426.22 L110.03,421.44 A126.67,123.73 0 0 0 113.48,430.55 Z" fill="#ebebd4" stroke="#ebebd4" stroke-width="0.6"/>
<path d="M94.97,426.22 A142.50,139.20 0 0 1 91.94,415.70 L107.33,412.08 A126.67,123.73 0 0 0 110.03,421.44 Z" fill="#ebebd4" stroke="#ebebd4" stroke-width="0.6"/>
<path d="M91.94,415.70 A142.50,139.20 0 0 1 89.75,404.98 L105.39,402.56 A126.67,123.73 0 0 0 107.33,412.08 Z" fill="#c8e4f0" stroke="#c8e4f0" stroke-width="0.6"/>
<path d="M89.75,404.98 A142.50,139.20 0 0 1 88.44,394.12 L104.22,392.91 A126.67,123.73 0 0 0 105.39,402.56 Z" fill="#659acb" stroke="#659acb" stroke-width="0.6"/>
<path d="M88.44,394.12 A142.50,139.20 0 0 1 88.00,383.20 L103.83,383.20 A126.67,123.73 0 0 0 104.22,392.91 Z" fill="#659acb" stroke="#659acb" stroke-width="0.6"/>
<path d="M140.93,470.69 A126.67,123.73 0 0 1 134.18,463.56 L146.22,453.51 A110.83,108.27 0 0 0 152.13,459.76 Z" fill="#c8e4f0" stroke="#c8e4f0" stroke-width="0.6"/>
<path d="M134.18,463.56 A126.67,123.73 0 0 1 128.02,455.93 L140.83,446.84 A110.83,108.27 0 0 0 146.22,453.51 Z" fill="#9cc9e2" stroke="#9cc9e2" stroke-width="0.6"/>
<path d="M128.02,455.93 A126.67,123.73 0 0 1 122.50,447.85 L136.00,439.77 A110.83,108.27 0 0 0 140.83,446.84 Z" fill="#659acb" stroke="#659acb" stroke-width="0.6"/>
<path d="M122.50,447.85 A126.67,123.73 0 0 1 117.64,439.37 L131.75,432.35 A110.83,108.27 0 0 0 136.00,439.77 Z" fill="#9cc9e2" stroke="#9cc9e2" stroke-width="0.6"/>
<path d="M117.64,439.37 A126.67,123.73 0 0 1 113.48,430.55 L128.10,424.63 A110.83,108.27 0 0 0 131.75,432.35 Z" fill="#9cc9e2" stroke="#9cc9e2" stroke-width="0.6"/>
<path d="M113.48,430.55 A126.67,123.73 0 0 1 110.03,421.44 L125.09,416.66 A110.83,108.27 0 0 0 128.10,424.63 Z" fill="#ebebd4" stroke="#ebebd4" stroke-width="0.6"/>
<path d="M110.03,421.44 A126.67,123.73 0 0 1 107.33,412.08 L122.73,408.47 A110.83,108.27 0 0 0 125.09,416.66 Z" fill="#ebebd4" stroke="#ebebd4" stroke-width="0.6"/>
<path d="M107.33,412.08 A126.67,123.73 0 0 1 105.39,402.56 L121.03,400.14 A110.83,108.27 0 0 0 122.73,408.47 Z" fill="#c8e4f0" stroke="#c8e4f0" stroke-width="0.6"/>
<path d="M105.39,402.56 A126.67,123.73 0 0 1 104.22,392.91 L120.01,391.69 A110.83,108.27 0 0 0 121.03,400.14 Z" fill="#4a75b6" stroke="#4a75b6" stroke-width="0.6"/>
<path d="M104.22,392.91 A126.67,123.73 0 0 1 103.83,383.20 L119.67,383.20 A110.83,108.27 0 0 0 120.01,391.69 Z" fill="#659acb" stroke="#659acb" stroke-width="0.6"/>
<path d="M152.13,459.76 A110.83,108.27 0 0 1 146.22,453.51 L158.26,443.47 A95.00,92.80 0 0 0 163.32,448.82 Z" fill="#ebebd4" stroke="#ebebd4" stroke-width="0.6"/>
<path d="M146.22,453.51 A110.83,108.27 0 0 1 140.83,446.84 L153.64,437.75 A95.00,92.80 0 0 0 158.26,443.47 Z" fill="#c8e4f0" stroke="#c8e4f0" stroke-width="0.6"/>
<path d="M140.83,446.84 A110.83,108.27 0 0 1 136.00,439.77 L149.50,431.69 A95.00,92.80 0 0 0 153.64,437.75 Z" fill="#659acb" stroke="#659acb" stroke-width="0.6"/>
<path d="M136.00,439.77 A110.83,108.27 0 0 1 131.75,432.35 L145.85,425.33 A95.00,92.80 0 0 0 149.50,431.69 Z" fill="#9cc9e2" stroke="#9cc9e2" stroke-width="0.6"/>
<path d="M131.75,432.35 A110.83,108.27 0 0 1 128.10,424.63 L142.73,418.71 A95.00,92.80 0 0 0 145.85,425.33 Z" fill="#9cc9e2" stroke="#9cc9e2" stroke-width="0.6"/>
<path d="M128.10,424.63 A110.83,108.27 0 0 1 125.09,416.66 L140.15,411.88 A95.00,92.80 0 0 0 142.73,418.71 Z" fill="#c8e4f0" stroke="#c8e4f0" stroke-width="0.6"/>
<path d="M125.09,416.66 A110.83,108.27 0 0 1 122.73,408.47 L138.12,404.86 A95.00,92.80 0 0 0 140.15,411.88 Z" fill="#c8e4f0" stroke="#c8e4f0" stroke-width="0.6"/>
<path d="M122.73,408.47 A110.83,108.27 0 0 1 121.03,400.14 L136.67,397.72 A95.00,92.80 0 0 0 138.12,404.86 Z" fill="#9cc9e2" stroke="#9cc9e2" stroke-width="0.6"/>
<path d="M121.03,400.14 A110.83,108.27 0 0 1 120.01,391.69 L135.79,390.48 A95.00,92.80 0 0 0 136.67,397.72 Z" fill="#4a75b6" stroke="#4a75b6" stroke-width="0.6"/>
<path d="M120.01,391.69 A110.83,108.27 0 0 1 119.67,383.20 L135.50,383.20 A95.00,92.80 0 0 0 135.79,390.48 Z" fill="#4a75b6" stroke="#4a75b6" stroke-width="0.6"/>
<path d="M163.32,448.82 A95.00,92.80 0 0 1 158.26,443.47 L170.30,433.42 A79.17,77.33 0 0 0 174.52,437.88 Z" fill="#ebebd4" stroke="#ebebd4" stroke-width="0.6"/>
<path d="M158.26,443.47 A95.00,92.80 0 0 1 153.64,437.75 L166.45,428.66 A79.17,77.33 0 0 0 170.30,433.42 Z" fill="#c8e4f0" stroke="#c8e4f0" stroke-width="0.6"/>
<path d="M153.64,437.75 A95.00,92.80 0 0 1 149.50,431.69 L163.00,423.61 A79.17,77.33 0 0 0 166.45,428.66 Z" fill="#c8e4f0" stroke="#c8e4f0" stroke-width="0.6"/>
<path d="M149.50,431.69 A95.00,92.80 0 0 1 145.85,425.33 L159.96,418.31 A79.17,77.33 0 0 0 163.00,423.61 Z" fill="#659acb" stroke="#659acb" stroke-width="0.6"/>
<path d="M145.85,425.33 A95.00,92.80 0 0 1 142.73,418.71 L157.36,412.79 A79.17,77.33 0 0 0 159.96,418.31 Z" fill="#3c4d9f" stroke="#3c4d9f" stroke-width="0.6"/>
<path d="M142.73,418.71 A95.00,92.80 0 0 1 140.15,411.88 L155.21,407.10 A79.17,77.33 0 0 0 157.36,412.79 Z" fill="#4a75b6" stroke="#4a75b6" stroke-width="0.6"/>
<path d="M140.15,411.88 A95.00,92.80 0 0 1 138.12,404.86 L153.52,401.25 A79.17,77.33 0 0 0 155.21,407.10 Z" fill="#4a75b6" stroke="#4a75b6" stroke-width="0.6"/>
<path d="M138.12,404.86 A95.00,92.80 0 0 1 136.67,397.72 L152.31,395.30 A79.17,77.33 0 0 0 153.52,401.25 Z" fill="#4a75b6" stroke="#4a75b6" stroke-width="0.6"/>
<path d="M136.67,397.72 A95.00,92.80 0 0 1 135.79,390.48 L151.58,389.27 A79.17,77.33 0 0 0 152.31,395.30 Z" fill="#4a75b6" stroke="#4a75b6" stroke-width="0.6"/>
<path d="M135.79,390.48 A95.00,92.80 0 0 1 135.50,383.20 L151.33,383.20 A79.17,77.33 0 0 0 151.58,389.27 Z" fill="#4a75b6" stroke="#4a75b6" stroke-width="0.6"/>
<path d="M174.52,437.88 A79.17,77.33 0 0 1 170.30,433.42 L182.34,423.38 A63.33,61.87 0 0 0 185.72,426.95 Z" fill="#4a75b6" stroke="#4a75b6" stroke-width="0.6"/>
<path d="M170.30,433.42 A79.17,77.33 0 0 1 166.45,428.66 L179.26,419.56 A63.33,61.87 0 0 0 182.34,423.38 Z" fill="#9cc9e2" stroke="#9cc9e2" stroke-width="0.6"/>
<path d="M166.45,428.66 A79.17,77.33 0 0 1 163.00,423.61 L176.50,415.53 A63.33,61.87 0 0 0 179.26,419.56 Z" fill="#ebebd4" stroke="#ebebd4" stroke-width="0.6"/>
<path d="M163.00,423.61 A79.17,77.33 0 0 1 159.96,418.31 L174.07,411.29 A63.33,61.87 0 0 0 176.50,415.53 Z" fill="#c8e4f0" stroke="#c8e4f0" stroke-width="0.6"/>
<path d="M159.96,418.31 A79.17,77.33 0 0 1 157.36,412.79 L171.99,406.88 A63.33,61.87 0 0 0 174.07,411.29 Z" fill="#4a75b6" stroke="#4a75b6" stroke-width="0.6"/>
<path d="M157.36,412.79 A79.17,77.33 0 0 1 155.21,407.10 L170.27,402.32 A63.33,61.87 0 0 0 171.99,406.88 Z" fill="#4a75b6" stroke="#4a75b6" stroke-width="0.6"/>
<path d="M155.21,407.10 A79.17,77.33 0 0 1 153.52,401.25 L168.92,397.64 A63.33,61.87 0 0 0 170.27,402.32 Z" fill="#9cc9e2" stroke="#9cc9e2" stroke-width="0.6"/>
<path d="M153.52,401.25 A79.17,77.33 0 0 1 152.31,395.30 L167.95,392.88 A63.33,61.87 0 0 0 168.92,397.64 Z" fill="#659acb" stroke="#659acb" stroke-width="0.6"/>
<path d="M152.31,395.30 A79.17,77.33 0 0 1 151.58,389.27 L167.36,388.05 A63.33,61.87 0 0 0 167.95,392.88 Z" fill="#4a75b6" stroke="#4a75b6" stroke-width="0.6"/>
<path d="M151.58,389.27 A79.17,77.33 0 0 1 151.33,383.20 L167.17,383.20 A63.33,61.87 0 0 0 167.36,388.05 Z" fill="#9cc9e2" stroke="#9cc9e2" stroke-width="0.6"/>
<path d="M185.72,426.95 A63.33,61.87 0 0 1 182.34,423.38 L194.38,413.33 A47.50,46.40 0 0 0 196.91,416.01 Z" fill="#4a75b6" stroke="#4a75b6" stroke-width="0.6"/>
<path d="M182.34,423.38 A63.33,61.87 0 0 1 179.26,419.56 L192.07,410.47 A47.50,46.40 0 0 0 194.38,413.33 Z" fill="#4a75b6" stroke="#4a75b6" stroke-width="0.6"/>
<path d="M179.26,419.56 A63.33,61.87 0 0 1 176.50,415.53 L190.00,407.44 A47.50,46.40 0 0 0 192.07,410.47 Z" fill="#9cc9e2" stroke="#9cc9e2" stroke-width="0.6"/>
<path d="M176.50,415.53 A63.33,61.87 0 0 1 174.07,411.29 L188.18,404.27 A47.50,46.40 0 0 0 190.00,407.44 Z" fill="#659acb" stroke="#659acb" stroke-width="0.6"/>
<path d="M174.07,411.29 A63.33,61.87 0 0 1 171.99,406.88 L186.62,400.96 A47.50,46.40 0 0 0 188.18,404.27 Z" fill="#659acb" stroke="#659acb" stroke-width="0.6"/>
<path d="M171.99,406.88 A63.33,61.87 0 0 1 170.27,402.32 L185.32,397.54 A47.50,46.40 0 0 0 186.62,400.96 Z" fill="#9cc9e2" stroke="#9cc9e2" stroke-width="0.6"/>
<path d="M170.27,402.32 A63.33,61.87 0 0 1 168.92,397.64 L184.31,394.03 A47.50,46.40 0 0 0 185.32,397.54 Z" fill="#c8e4f0" stroke="#c8e4f0" stroke-width="0.6"/>
<path d="M168.92,397.64 A63.33,61.87 0 0 1 167.95,392.88 L183.58,390.46 A47.50,46.40 0 0 0 184.31,394.03 Z" fill="#659acb" stroke="#659acb" stroke-width="0.6"/>
<path d="M167.95,392.88 A63.33,61.87 0 0 1 167.36,388.05 L183.15,386.84 A47.50,46.40 0 0 0 183.58,390.46 Z" fill="#f4dca8" stroke="#f4dca8" stroke-width="0.6"/>
<path d="M167.36,388.05 A63.33,61.87 0 0 1 167.17,383.20 L183.00,383.20 A47.50,46.40 0 0 0 183.15,386.84 Z" fill="#f4dca8" stroke="#f4dca8" stroke-width="0.6"/>
<path d="M88.00,383.20 A142.50,139.20 0 0 1 88.44,372.28 L104.22,373.49 A126.67,123.73 0 0 0 103.83,383.20 Z" fill="#f4dca8" stroke="#f4dca8" stroke-width="0.6"/>
<path d="M88.44,372.28 A142.50,139.20 0 0 1 89.75,361.42 L105.39,363.84 A126.67,123.73 0 0 0 104.22,373.49 Z" fill="#f4dca8" stroke="#f4dca8" stroke-width="0.6"/>
<path d="M89.75,361.42 A142.50,139.20 0 0 1 91.94,350.70 L107.33,354.32 A126.67,123.73 0 0 0 105.39,363.84 Z" fill="#ebebd4" stroke="#ebebd4" stroke-width="0.6"/>
<path d="M91.94,350.70 A142.50,139.20 0 0 1 94.97,340.18 L110.03,344.96 A126.67,123.73 0 0 0 107.33,354.32 Z" fill="#c8e4f0" stroke="#c8e4f0" stroke-width="0.6"/>
<path d="M94.97,340.18 A142.50,139.20 0 0 1 98.85,329.93 L113.48,335.85 A126.67,123.73 0 0 0 110.03,344.96 Z" fill="#659acb" stroke="#659acb" stroke-width="0.6"/>
<path d="M98.85,329.93 A142.50,139.20 0 0 1 103.53,320.00 L117.64,327.03 A126.67,123.73 0 0 0 113.48,335.85 Z" fill="#659acb" stroke="#659acb" stroke-width="0.6"/>
<path d="M103.53,320.00 A142.50,139.20 0 0 1 109.00,310.47 L122.50,318.55 A126.67,123.73 0 0 0 117.64,327.03 Z" fill="#659acb" stroke="#659acb" stroke-width="0.6"/>
<path d="M109.00,310.47 A142.50,139.20 0 0 1 115.22,301.38 L128.02,310.47 A126.67,123.73 0 0 0 122.50,318.55 Z" fill="#9cc9e2" stroke="#9cc9e2" stroke-width="0.6"/>
<path d="M115.22,301.38 A142.50,139.20 0 0 1 122.14,292.80 L134.18,302.84 A126.67,123.73 0 0 0 128.02,310.47 Z" fill="#659acb" stroke="#659acb" stroke-width="0.6"/>
<path d="M122.14,292.80 A142.50,139.20 0 0 1 129.74,284.77 L140.93,295.71 A126.67,123.73 0 0 0 134.18,302.84 Z" fill="#4a75b6" stroke="#4a75b6" stroke-width="0.6"/>
<path d="M103.83,383.20 A126.67,123.73 0 0 1 104.22,373.49 L120.01,374.71 A110.83,108.27 0 0 0 119.67,383.20 Z" fill="#f4dca8" stroke="#f4dca8" stroke-width="0.6"/>
<path d="M104.22,373.49 A126.67,123.73 0 0 1 105.39,363.84 L121.03,366.26 A110.83,108.27 0 0 0 120.01,374.71 Z" fill="#f4dca8" stroke="#f4dca8" stroke-width="0.6"/>
<path d="M105.39,363.84 A126.67,123.73 0 0 1 107.33,354.32 L122.73,357.93 A110.83,108.27 0 0 0 121.03,366.26 Z" fill="#ebebd4" stroke="#ebebd4" stroke-width="0.6"/>
<path d="M107.33,354.32 A126.67,123.73 0 0 1 110.03,344.96 L125.09,349.74 A110.83,108.27 0 0 0 122.73,357.93 Z" fill="#ebebd4" stroke="#ebebd4" stroke-width="0.6"/>
<path d="M110.03,344.96 A126.67,123.73 0 0 1 113.48,335.85 L128.10,341.77 A110.83,108.27 0 0 0 125.09,349.74 Z" fill="#9cc9e2" stroke="#9cc9e2" stroke-width="0.6"/>
<path d="M113.48,335.85 A126.67,123.73 0 0 1 117.64,327.03 L131.75,334.05 A110.83,108.27 0 0 0 128.10,341.77 Z" fill="#4a75b6" stroke="#4a75b6" stroke-width="0.6"/>
<path d="M117.64,327.03 A126.67,123.73 0 0 1 122.50,318.55 L136.00,326.63 A110.83,108.27 0 0 0 131.75,334.05 Z" fill="#659acb" stroke="#659acb" stroke-width="0.6"/>
<path d="M122.50,318.55 A126.67,123.73 0 0 1 128.02,310.47 L140.83,319.56 A110.83,108.27 0 0 0 136.00,326.63 Z" fill="#9cc9e2" stroke="#9cc9e2" stroke-width="0.6"/>
<path d="M128.02,310.47 A126.67,123.73 0 0 1 134.18,302.84 L146.22,312.89 A110.83,108.27 0 0 0 140.83,319.56 Z" fill="#659acb" stroke="#659acb" stroke-width="0.6"/>
<path d="M134.18,302.84 A126.67,123.73 0 0 1 140.93,295.71 L152.13,306.64 A110.83,108.27 0 0 0 146.22,312.89 Z" fill="#3c4d9f" stroke="#3c4d9f" stroke-width="0.6"/>
<path d="M119.67,383.20 A110.83,108.27 0 0 1 120.01,374.71 L135.79,375.92 A95.00,92.80 0 0 0 135.50,383.20 Z" fill="#ebebd4" stroke="#ebebd4" stroke-width="0.6"/>
<path d="M120.01,374.71 A110.83,108.27 0 0 1 121.03,366.26 L136.67,368.68 A95.00,92.80 0 0 0 135.79,375.92 Z" fill="#c8e4f0" stroke="#c8e4f0" stroke-width="0.6"/>
<path d="M121.03,366.26 A110.83,108.27 0 0 1 122.73,357.93 L138.12,361.54 A95.00,92.80 0 0 0 136.67,368.68 Z" fill="#ebebd4" stroke="#ebebd4" stroke-width="0.6"/>
<path d="M122.73,357.93 A110.83,108.27 0 0 1 125.09,349.74 L140.15,354.52 A95.00,92.80 0 0 0 138.12,361.54 Z" fill="#ebebd4" stroke="#ebebd4" stroke-width="0.6"/>
<path d="M125.09,349.74 A110.83,108.27 0 0 1 128.10,341.77 L142.73,347.69 A95.00,92.80 0 0 0 140.15,354.52 Z" fill="#ebebd4" stroke="#ebebd4" stroke-width="0.6"/>
<path d="M128.10,341.77 A110.83,108.27 0 0 1 131.75,334.05 L145.85,341.07 A95.00,92.80 0 0 0 142.73,347.69 Z" fill="#4a75b6" stroke="#4a75b6" stroke-width="0.6"/>
<path d="M131.75,334.05 A110.83,108.27 0 0 1 136.00,326.63 L149.50,334.71 A95.00,92.80 0 0 0 145.85,341.07 Z" fill="#659acb" stroke="#659acb" stroke-width="0.6"/>
<path d="M136.00,326.63 A110.83,108.27 0 0 1 140.83,319.56 L153.64,328.65 A95.00,92.80 0 0 0 149.50,334.71 Z" fill="#9cc9e2" stroke="#9cc9e2" stroke-width="0.6"/>
<path d="M140.83,319.56 A110.83,108.27 0 0 1 146.22,312.89 L158.26,322.93 A95.00,92.80 0 0 0 153.64,328.65 Z" fill="#ebebd4" stroke="#ebebd4" stroke-width="0.6"/>
<path d="M146.22,312.89 A110.83,108.27 0 0 1 152.13,306.64 L163.32,317.58 A95.00,92.80 0 0 0 158.26,322.93 Z" fill="#659acb" stroke="#659acb" stroke-width="0.6"/>
<path d="M135.50,383.20 A95.00,92.80 0 0 1 135.79,375.92 L151.58,377.13 A79.17,77.33 0 0 0 151.33,383.20 Z" fill="#c8e4f0" stroke="#c8e4f0" stroke-width="0.6"/>
<path d="M135.79,375.92 A95.00,92.80 0 0 1 136.67,368.68 L152.31,371.10 A79.17,77.33 0 0 0 151.58,377.13 Z" fill="#4a75b6" stroke="#4a75b6" stroke-width="0.6"/>
<path d="M136.67,368.68 A95.00,92.80 0 0 1 138.12,361.54 L153.52,365.15 A79.17,77.33 0 0 0 152.31,371.10 Z" fill="#4a75b6" stroke="#4a75b6" stroke-width="0.6"/>
<path d="M138.12,361.54 A95.00,92.80 0 0 1 140.15,354.52 L155.21,359.30 A79.17,77.33 0 0 0 153.52,365.15 Z" fill="#c8e4f0" stroke="#c8e4f0" stroke-width="0.6"/>
<path d="M140.15,354.52 A95.00,92.80 0 0 1 142.73,347.69 L157.36,353.61 A79.17,77.33 0 0 0 155.21,359.30 Z" fill="#f4dca8" stroke="#f4dca8" stroke-width="0.6"/>
<path d="M142.73,347.69 A95.00,92.80 0 0 1 145.85,341.07 L159.96,348.09 A79.17,77.33 0 0 0 157.36,353.61 Z" fill="#9cc9e2" stroke="#9cc9e2" stroke-width="0.6"/>
<path d="M145.85,341.07 A95.00,92.80 0 0 1 149.50,334.71 L163.00,342.79 A79.17,77.33 0 0 0 159.96,348.09 Z" fill="#659acb" stroke="#659acb" stroke-width="0.6"/>
<path d="M149.50,334.71 A95.00,92.80 0 0 1 153.64,328.65 L166.45,337.74 A79.17,77.33 0 0 0 163.00,342.79 Z" fill="#ebebd4" stroke="#ebebd4" stroke-width="0.6"/>
<path d="M153.64,328.65 A95.00,92.80 0 0 1 158.26,322.93 L170.30,332.98 A79.17,77.33 0 0 0 166.45,337.74 Z" fill="#f4dca8" stroke="#f4dca8" stroke-width="0.6"/>
<path d="M158.26,322.93 A95.00,92.80 0 0 1 163.32,317.58 L174.52,328.52 A79.17,77.33 0 0 0 170.30,332.98 Z" fill="#ebebd4" stroke="#ebebd4" stroke-width="0.6"/>
<path d="M151.33,383.20 A79.17,77.33 0 0 1 151.58,377.13 L167.36,378.35 A63.33,61.87 0 0 0 167.17,383.20 Z" fill="#9cc9e2" stroke="#9cc9e2" stroke-width="0.6"/>
<path d="M151.58,377.13 A79.17,77.33 0 0 1 152.31,371.10 L167.95,373.52 A63.33,61.87 0 0 0 167.36,378.35 Z" fill="#659acb" stroke="#659acb" stroke-width="0.6"/>
<path d="M152.31,371.10 A79.17,77.33 0 0 1 153.52,365.15 L168.92,368.76 A63.33,61.87 0 0 0 167.95,373.52 Z" fill="#4a75b6" stroke="#4a75b6" stroke-width="0.6"/>
<path d="M153.52,365.15 A79.17,77.33 0 0 1 155.21,359.30 L170.27,364.08 A63.33,61.87 0 0 0 168.92,368.76 Z" fill="#659acb" stroke="#659acb" stroke-width="0.6"/>
<path d="M155.21,359.30 A79.17,77.33 0 0 1 157.36,353.61 L171.99,359.52 A63.33,61.87 0 0 0 170.27,364.08 Z" fill="#9cc9e2" stroke="#9cc9e2" stroke-width="0.6"/>
<path d="M157.36,353.61 A79.17,77.33 0 0 1 159.96,348.09 L174.07,355.11 A63.33,61.87 0 0 0 171.99,359.52 Z" fill="#9cc9e2" stroke="#9cc9e2" stroke-width="0.6"/>
<path d="M159.96,348.09 A79.17,77.33 0 0 1 163.00,342.79 L176.50,350.87 A63.33,61.87 0 0 0 174.07,355.11 Z" fill="#659acb" stroke="#659acb" stroke-width="0.6"/>
<path d="M163.00,342.79 A79.17,77.33 0 0 1 166.45,337.74 L179.26,346.84 A63.33,61.87 0 0 0 176.50,350.87 Z" fill="#4a75b6" stroke="#4a75b6" stroke-width="0.6"/>
<path d="M166.45,337.74 A79.17,77.33 0 0 1 170.30,332.98 L182.34,343.02 A63.33,61.87 0 0 0 179.26,346.84 Z" fill="#659acb" stroke="#659acb" stroke-width="0.6"/>
<path d="M170.30,332.98 A79.17,77.33 0 0 1 174.52,328.52 L185.72,339.45 A63.33,61.87 0 0 0 182.34,343.02 Z" fill="#9cc9e2" stroke="#9cc9e2" stroke-width="0.6"/>
<path d="M167.17,383.20 A63.33,61.87 0 0 1 167.36,378.35 L183.15,379.56 A47.50,46.40 0 0 0 183.00,383.20 Z" fill="#9cc9e2" stroke="#9cc9e2" stroke-width="0.6"/>
<path d="M167.36,378.35 A63.33,61.87 0 0 1 167.95,373.52 L183.58,375.94 A47.50,46.40 0 0 0 183.15,379.56 Z" fill="#659acb" stroke="#659acb" stroke-width="0.6"/>
<path d="M167.95,373.52 A63.33,61.87 0 0 1 168.92,368.76 L184.31,372.37 A47.50,46.40 0 0 0 183.58,375.94 Z" fill="#4a75b6" stroke="#4a75b6" stroke-width="0.6"/>
<path d="M168.92,368.76 A63.33,61.87 0 0 1 170.27,364.08 L185.32,368.86 A47.50,46.40 0 0 0 184.31,372.37 Z" fill="#9cc9e2" stroke="#9cc9e2" stroke-width="0.6"/>
<path d="M170.27,364.08 A63.33,61.87 0 0 1 171.99,359.52 L186.62,365.44 A47.50,46.40 0 0 0 185.32,368.86 Z" fill="#9cc9e2" stroke="#9cc9e2" stroke-width="0.6"/>
<path d="M171.99,359.52 A63.33,61.87 0 0 1 174.07,355.11 L188.18,362.13 A47.50,46.40 0 0 0 186.62,365.44 Z" fill="#c8e4f0" stroke="#c8e4f0" stroke-width="0.6"/>
<path d="M174.07,355.11 A63.33,61.87 0 0 1 176.50,350.87 L190.00,358.96 A47.50,46.40 0 0 0 188.18,362.13 Z" fill="#659acb" stroke="#659acb" stroke-width="0.6"/>
<path d="M176.50,350.87 A63.33,61.87 0 0 1 179.26,346.84 L192.07,355.93 A47.50,46.40 0 0 0 190.00,358.96 Z" fill="#9cc9e2" stroke="#9cc9e2" stroke-width="0.6"/>
<path d="M179.26,346.84 A63.33,61.87 0 0 1 182.34,343.02 L194.38,353.07 A47.50,46.40 0 0 0 192.07,355.93 Z" fill="#c8e4f0" stroke="#c8e4f0" stroke-width="0.6"/>
<path d="M182.34,343.02 A63.33,61.87 0 0 1 185.72,339.45 L196.91,350.39 A47.50,46.40 0 0 0 194.38,353.07 Z" fill="#9cc9e2" stroke="#9cc9e2" stroke-width="0.6"/>
<path d="M129.74,284.77 A142.50,139.20 0 0 1 137.95,277.35 L148.24,289.11 A126.67,123.73 0 0 0 140.93,295.71 Z" fill="#659acb" stroke="#659acb" stroke-width="0.6"/>
<path d="M137.95,277.35 A142.50,139.20 0 0 1 146.74,270.58 L156.05,283.10 A126.67,123.73 0 0 0 148.24,289.11 Z" fill="#4a75b6" stroke="#4a75b6" stroke-width="0.6"/>
<path d="M146.74,270.58 A142.50,139.20 0 0 1 156.04,264.51 L164.32,277.70 A126.67,123.73 0 0 0 156.05,283.10 Z" fill="#659acb" stroke="#659acb" stroke-width="0.6"/>
<path d="M156.04,264.51 A142.50,139.20 0 0 1 165.81,259.17 L172.99,272.95 A126.67,123.73 0 0 0 164.32,277.70 Z" fill="#9cc9e2" stroke="#9cc9e2" stroke-width="0.6"/>
<path d="M165.81,259.17 A142.50,139.20 0 0 1 175.97,254.60 L182.03,268.89 A126.67,123.73 0 0 0 172.99,272.95 Z" fill="#4a75b6" stroke="#4a75b6" stroke-width="0.6"/>
<path d="M175.97,254.60 A142.50,139.20 0 0 1 186.47,250.81 L191.36,265.52 A126.67,123.73 0 0 0 182.03,268.89 Z" fill="#9cc9e2" stroke="#9cc9e2" stroke-width="0.6"/>
<path d="M186.47,250.81 A142.50,139.20 0 0 1 197.23,247.85 L200.93,262.89 A126.67,123.73 0 0 0 191.36,265.52 Z" fill="#ebebd4" stroke="#ebebd4" stroke-width="0.6"/>
<path d="M197.23,247.85 A142.50,139.20 0 0 1 208.21,245.71 L210.68,260.99 A126.67,123.73 0 0 0 200.93,262.89 Z" fill="#9cc9e2" stroke="#9cc9e2" stroke-width="0.6"/>
<path d="M208.21,245.71 A142.50,139.20 0 0 1 219.32,244.43 L220.56,259.85 A126.67,123.73 0 0 0 210.68,260.99 Z" fill="#4a75b6" stroke="#4a75b6" stroke-width="0.6"/>
<path d="M219.32,244.43 A142.50,139.20 0 0 1 230.50,244.00 L230.50,259.47 A126.67,123.73 0 0 0 220.56,259.85 Z" fill="#c8e4f0" stroke="#c8e4f0" stroke-width="0.6"/>
<path d="M140.93,295.71 A126.67,123.73 0 0 1 148.24,289.11 L158.52,300.87 A110.83,108.27 0 0 0 152.13,306.64 Z" fill="#3c4d9f" stroke="#3c4d9f" stroke-width="0.6"/>
<path d="M148.24,289.11 A126.67,123.73 0 0 1 156.05,283.10 L165.35,295.61 A110.83,108.27 0 0 0 158.52,300.87 Z" fill="#4a75b6" stroke="#4a75b6" stroke-width="0.6"/>
<path d="M156.05,283.10 A126.67,123.73 0 0 1 164.32,277.70 L172.59,290.89 A110.83,108.27 0 0 0 165.35,295.61 Z" fill="#9cc9e2" stroke="#9cc9e2" stroke-width="0.6"/>
<path d="M164.32,277.70 A126.67,123.73 0 0 1 172.99,272.95 L180.18,286.73 A110.83,108.27 0 0 0 172.59,290.89 Z" fill="#9cc9e2" stroke="#9cc9e2" stroke-width="0.6"/>
<path d="M172.99,272.95 A126.67,123.73 0 0 1 182.03,268.89 L188.09,283.17 A110.83,108.27 0 0 0 180.18,286.73 Z" fill="#659acb" stroke="#659acb" stroke-width="0.6"/>
<path d="M182.03,268.89 A126.67,123.73 0 0 1 191.36,265.52 L196.25,280.23 A110.83,108.27 0 0 0 188.09,283.17 Z" fill="#ebebd4" stroke="#ebebd4" stroke-width="0.6"/>
<path d="M191.36,265.52 A126.67,123.73 0 0 1 200.93,262.89 L204.63,277.92 A110.83,108.27 0 0 0 196.25,280.23 Z" fill="#c8e4f0" stroke="#c8e4f0" stroke-width="0.6"/>
<path d="M200.93,262.89 A126.67,123.73 0 0 1 210.68,260.99 L213.16,276.27 A110.83,108.27 0 0 0 204.63,277.92 Z" fill="#9cc9e2" stroke="#9cc9e2" stroke-width="0.6"/>
<path d="M210.68,260.99 A126.67,123.73 0 0 1 220.56,259.85 L221.80,275.27 A110.83,108.27 0 0 0 213.16,276.27 Z" fill="#4a75b6" stroke="#4a75b6" stroke-width="0.6"/>
<path d="M220.56,259.85 A126.67,123.73 0 0 1 230.50,259.47 L230.50,274.93 A110.83,108.27 0 0 0 221.80,275.27 Z" fill="#c8e4f0" stroke="#c8e4f0" stroke-width="0.6"/>
<path d="M152.13,306.64 A110.83,108.27 0 0 1 158.52,300.87 L168.80,312.63 A95.00,92.80 0 0 0 163.32,317.58 Z" fill="#c8e4f0" stroke="#c8e4f0" stroke-width="0.6"/>
<path d="M158.52,300.87 A110.83,108.27 0 0 1 165.35,295.61 L174.66,308.12 A95.00,92.80 0 0 0 168.80,312.63 Z" fill="#4a75b6" stroke="#4a75b6" stroke-width="0.6"/>
<path d="M165.35,295.61 A110.83,108.27 0 0 1 172.59,290.89 L180.86,304.07 A95.00,92.80 0 0 0 174.66,308.12 Z" fill="#9cc9e2" stroke="#9cc9e2" stroke-width="0.6"/>
<path d="M172.59,290.89 A110.83,108.27 0 0 1 180.18,286.73 L187.37,300.51 A95.00,92.80 0 0 0 180.86,304.07 Z" fill="#c8e4f0" stroke="#c8e4f0" stroke-width="0.6"/>
<path d="M180.18,286.73 A110.83,108.27 0 0 1 188.09,283.17 L194.15,297.46 A95.00,92.80 0 0 0 187.37,300.51 Z" fill="#659acb" stroke="#659acb" stroke-width="0.6"/>
<path d="M188.09,283.17 A110.83,108.27 0 0 1 196.25,280.23 L201.14,294.94 A95.00,92.80 0 0 0 194.15,297.46 Z" fill="#659acb" stroke="#659acb" stroke-width="0.6"/>
<path d="M196.25,280.23 A110.83,108.27 0 0 1 204.63,277.92 L208.32,292.96 A95.00,92.80 0 0 0 201.14,294.94 Z" fill="#3c4d9f" stroke="#3c4d9f" stroke-width="0.6"/>
<path d="M204.63,277.92 A110.83,108.27 0 0 1 213.16,276.27 L215.64,291.54 A95.00,92.80 0 0 0 208.32,292.96 Z" fill="#3c4d9f" stroke="#3c4d9f" stroke-width="0.6"/>
<path d="M213.16,276.27 A110.83,108.27 0 0 1 221.80,275.27 L223.05,290.69 A95.00,92.80 0 0 0 215.64,291.54 Z" fill="#9cc9e2" stroke="#9cc9e2" stroke-width="0.6"/>
<path d="M221.80,275.27 A110.83,108.27 0 0 1 230.50,274.93 L230.50,290.40 A95.00,92.80 0 0 0 223.05,290.69 Z" fill="#c8e4f0" stroke="#c8e4f0" stroke-width="0.6"/>
<path d="M163.32,317.58 A95.00,92.80 0 0 1 168.80,312.63 L179.09,324.40 A79.17,77.33 0 0 0 174.52,328.52 Z" fill="#659acb" stroke="#659acb" stroke-width="0.6"/>
<path d="M168.80,312.63 A95.00,92.80 0 0 1 174.66,308.12 L183.97,320.64 A79.17,77.33 0 0 0 179.09,324.40 Z" fill="#4a75b6" stroke="#4a75b6" stroke-width="0.6"/>
<path d="M174.66,308.12 A95.00,92.80 0 0 1 180.86,304.07 L189.14,317.26 A79.17,77.33 0 0 0 183.97,320.64 Z" fill="#9cc9e2" stroke="#9cc9e2" stroke-width="0.6"/>
<path d="M180.86,304.07 A95.00,92.80 0 0 1 187.37,300.51 L194.56,314.30 A79.17,77.33 0 0 0 189.14,317.26 Z" fill="#c8e4f0" stroke="#c8e4f0" stroke-width="0.6"/>
<path d="M187.37,300.51 A95.00,92.80 0 0 1 194.15,297.46 L200.20,311.75 A79.17,77.33 0 0 0 194.56,314.30 Z" fill="#9cc9e2" stroke="#9cc9e2" stroke-width="0.6"/>
<path d="M194.15,297.46 A95.00,92.80 0 0 1 201.14,294.94 L206.04,309.65 A79.17,77.33 0 0 0 200.20,311.75 Z" fill="#659acb" stroke="#659acb" stroke-width="0.6"/>
<path d="M201.14,294.94 A95.00,92.80 0 0 1 208.32,292.96 L212.02,308.00 A79.17,77.33 0 0 0 206.04,309.65 Z" fill="#9cc9e2" stroke="#9cc9e2" stroke-width="0.6"/>
<path d="M208.32,292.96 A95.00,92.80 0 0 1 215.64,291.54 L218.12,306.82 A79.17,77.33 0 0 0 212.02,308.00 Z" fill="#c8e4f0" stroke="#c8e4f0" stroke-width="0.6"/>
<path d="M215.64,291.54 A95.00,92.80 0 0 1 223.05,290.69 L224.29,306.11 A79.17,77.33 0 0 0 218.12,306.82 Z" fill="#9cc9e2" stroke="#9cc9e2" stroke-width="0.6"/>
<path d="M223.05,290.69 A95.00,92.80 0 0 1 230.50,290.40 L230.50,305.87 A79.17,77.33 0 0 0 224.29,306.11 Z" fill="#9cc9e2" stroke="#9cc9e2" stroke-width="0.6"/>
<path d="M174.52,328.52 A79.17,77.33 0 0 1 179.09,324.40 L189.37,336.16 A63.33,61.87 0 0 0 185.72,339.45 Z" fill="#659acb" stroke="#659acb" stroke-width="0.6"/>
<path d="M179.09,324.40 A79.17,77.33 0 0 1 183.97,320.64 L193.27,333.15 A63.33,61.87 0 0 0 189.37,336.16 Z" fill="#9cc9e2" stroke="#9cc9e2" stroke-width="0.6"/>
<path d="M183.97,320.64 A79.17,77.33 0 0 1 189.14,317.26 L197.41,330.45 A63.33,61.87 0 0 0 193.27,333.15 Z" fill="#9cc9e2" stroke="#9cc9e2" stroke-width="0.6"/>
<path d="M189.14,317.26 A79.17,77.33 0 0 1 194.56,314.30 L201.75,328.08 A63.33,61.87 0 0 0 197.41,330.45 Z" fill="#659acb" stroke="#659acb" stroke-width="0.6"/>
<path d="M194.56,314.30 A79.17,77.33 0 0 1 200.20,311.75 L206.26,326.04 A63.33,61.87 0 0 0 201.75,328.08 Z" fill="#c8e4f0" stroke="#c8e4f0" stroke-width="0.6"/>
<path d="M200.20,311.75 A79.17,77.33 0 0 1 206.04,309.65 L210.93,324.36 A63.33,61.87 0 0 0 206.26,326.04 Z" fill="#c8e4f0" stroke="#c8e4f0" stroke-width="0.6"/>
<path d="M206.04,309.65 A79.17,77.33 0 0 1 212.02,308.00 L215.72,323.04 A63.33,61.87 0 0 0 210.93,324.36 Z" fill="#ebebd4" stroke="#ebebd4" stroke-width="0.6"/>
<path d="M212.02,308.00 A79.17,77.33 0 0 1 218.12,306.82 L220.59,322.10 A63.33,61.87 0 0 0 215.72,323.04 Z" fill="#c8e4f0" stroke="#c8e4f0" stroke-width="0.6"/>
<path d="M218.12,306.82 A79.17,77.33 0 0 1 224.29,306.11 L225.53,321.52 A63.33,61.87 0 0 0 220.59,322.10 Z" fill="#9cc9e2" stroke="#9cc9e2" stroke-width="0.6"/>
<path d="M224.29,306.11 A79.17,77.33 0 0 1 230.50,305.87 L230.50,321.33 A63.33,61.87 0 0 0 225.53,321.52 Z" fill="#659acb" stroke="#659acb" stroke-width="0.6"/>
<path d="M185.72,339.45 A63.33,61.87 0 0 1 189.37,336.16 L199.65,347.92 A47.50,46.40 0 0 0 196.91,350.39 Z" fill="#9cc9e2" stroke="#9cc9e2" stroke-width="0.6"/>
<path d="M189.37,336.16 A63.33,61.87 0 0 1 193.27,333.15 L202.58,345.66 A47.50,46.40 0 0 0 199.65,347.92 Z" fill="#c8e4f0" stroke="#c8e4f0" stroke-width="0.6"/>
<path d="M193.27,333.15 A63.33,61.87 0 0 1 197.41,330.45 L205.68,343.64 A47.50,46.40 0 0 0 202.58,345.66 Z" fill="#ebebd4" stroke="#ebebd4" stroke-width="0.6"/>
<path d="M197.41,330.45 A63.33,61.87 0 0 1 201.75,328.08 L208.94,341.86 A47.50,46.40 0 0 0 205.68,343.64 Z" fill="#c8e4f0" stroke="#c8e4f0" stroke-width="0.6"/>
<path d="M201.75,328.08 A63.33,61.87 0 0 1 206.26,326.04 L212.32,340.33 A47.50,46.40 0 0 0 208.94,341.86 Z" fill="#ebebd4" stroke="#ebebd4" stroke-width="0.6"/>
<path d="M206.26,326.04 A63.33,61.87 0 0 1 210.93,324.36 L215.82,339.07 A47.50,46.40 0 0 0 212.32,340.33 Z" fill="#c8e4f0" stroke="#c8e4f0" stroke-width="0.6"/>
<path d="M210.93,324.36 A63.33,61.87 0 0 1 215.72,323.04 L219.41,338.08 A47.50,46.40 0 0 0 215.82,339.07 Z" fill="#9cc9e2" stroke="#9cc9e2" stroke-width="0.6"/>
<path d="M215.72,323.04 A63.33,61.87 0 0 1 220.59,322.10 L223.07,337.37 A47.50,46.40 0 0 0 219.41,338.08 Z" fill="#9cc9e2" stroke="#9cc9e2" stroke-width="0.6"/>
<path d="M220.59,322.10 A63.33,61.87 0 0 1 225.53,321.52 L226.77,336.94 A47.50,46.40 0 0 0 223.07,337.37 Z" fill="#659acb" stroke="#659acb" stroke-width="0.6"/>
<path d="M225.53,321.52 A63.33,61.87 0 0 1 230.50,321.33 L230.50,336.80 A47.50,46.40 0 0 0 226.77,336.94 Z" fill="#659acb" stroke="#659acb" stroke-width="0.6"/>
<path d="M230.50,336.80 A47.50,46.40 0 0 1 239.77,337.69 L236.68,352.86 A31.67,30.93 0 0 0 230.50,352.27 Z" fill="#4a75b6" stroke="#4a75b6" stroke-width="0.6"/>
<path d="M239.77,337.69 A47.50,46.40 0 0 1 248.68,340.33 L242.62,354.62 A31.67,30.93 0 0 0 236.68,352.86 Z" fill="#ebebd4" stroke="#ebebd4" stroke-width="0.6"/>
<path d="M248.68,340.33 A47.50,46.40 0 0 1 256.89,344.62 L248.09,357.48 A31.67,30.93 0 0 0 242.62,354.62 Z" fill="#ebebd4" stroke="#ebebd4" stroke-width="0.6"/>
<path d="M256.89,344.62 A47.50,46.40 0 0 1 264.09,350.39 L252.89,361.33 A31.67,30.93 0 0 0 248.09,357.48 Z" fill="#659acb" stroke="#659acb" stroke-width="0.6"/>
<path d="M264.09,350.39 A47.50,46.40 0 0 1 269.99,357.42 L256.83,366.01 A31.67,30.93 0 0 0 252.89,361.33 Z" fill="#9cc9e2" stroke="#9cc9e2" stroke-width="0.6"/>
<path d="M269.99,357.42 A47.50,46.40 0 0 1 274.38,365.44 L259.76,371.36 A31.67,30.93 0 0 0 256.83,366.01 Z" fill="#9cc9e2" stroke="#9cc9e2" stroke-width="0.6"/>
<path d="M274.38,365.44 A47.50,46.40 0 0 1 277.09,374.15 L261.56,377.17 A31.67,30.93 0 0 0 259.76,371.36 Z" fill="#ebebd4" stroke="#ebebd4" stroke-width="0.6"/>
<path d="M277.09,374.15 A47.50,46.40 0 0 1 278.00,383.20 L262.17,383.20 A31.67,30.93 0 0 0 261.56,377.17 Z" fill="#c8e4f0" stroke="#c8e4f0" stroke-width="0.6"/>
<path d="M278.00,383.20 A47.50,46.40 0 0 1 277.09,392.25 L261.56,389.23 A31.67,30.93 0 0 0 262.17,383.20 Z" fill="#659acb" stroke="#659acb" stroke-width="0.6"/>
<path d="M277.09,392.25 A47.50,46.40 0 0 1 274.38,400.96 L259.76,395.04 A31.67,30.93 0 0 0 261.56,389.23 Z" fill="#3c4d9f" stroke="#3c4d9f" stroke-width="0.6"/>
<path d="M274.38,400.96 A47.50,46.40 0 0 1 269.99,408.98 L256.83,400.39 A31.67,30.93 0 0 0 259.76,395.04 Z" fill="#4a75b6" stroke="#4a75b6" stroke-width="0.6"/>
<path d="M269.99,408.98 A47.50,46.40 0 0 1 264.09,416.01 L252.89,405.07 A31.67,30.93 0 0 0 256.83,400.39 Z" fill="#c8e4f0" stroke="#c8e4f0" stroke-width="0.6"/>
<path d="M264.09,416.01 A47.50,46.40 0 0 1 256.89,421.78 L248.09,408.92 A31.67,30.93 0 0 0 252.89,405.07 Z" fill="#c8e4f0" stroke="#c8e4f0" stroke-width="0.6"/>
<path d="M256.89,421.78 A47.50,46.40 0 0 1 248.68,426.07 L242.62,411.78 A31.67,30.93 0 0 0 248.09,408.92 Z" fill="#9cc9e2" stroke="#9cc9e2" stroke-width="0.6"/>
<path d="M248.68,426.07 A47.50,46.40 0 0 1 239.77,428.71 L236.68,413.54 A31.67,30.93 0 0 0 242.62,411.78 Z" fill="#9cc9e2" stroke="#9cc9e2" stroke-width="0.6"/>
<path d="M239.77,428.71 A47.50,46.40 0 0 1 230.50,429.60 L230.50,414.13 A31.67,30.93 0 0 0 236.68,413.54 Z" fill="#659acb" stroke="#659acb" stroke-width="0.6"/>
<path d="M230.50,429.60 A47.50,46.40 0 0 1 221.23,428.71 L224.32,413.54 A31.67,30.93 0 0 0 230.50,414.13 Z" fill="#659acb" stroke="#659acb" stroke-width="0.6"/>
<path d="M221.23,428.71 A47.50,46.40 0 0 1 212.32,426.07 L218.38,411.78 A31.67,30.93 0 0 0 224.32,413.54 Z" fill="#4a75b6" stroke="#4a75b6" stroke-width="0.6"/>
<path d="M212.32,426.07 A47.50,46.40 0 0 1 204.11,421.78 L212.91,408.92 A31.67,30.93 0 0 0 218.38,411.78 Z" fill="#659acb" stroke="#659acb" stroke-width="0.6"/>
<path d="M204.11,421.78 A47.50,46.40 0 0 1 196.91,416.01 L208.11,405.07 A31.67,30.93 0 0 0 212.91,408.92 Z" fill="#659acb" stroke="#659acb" stroke-width="0.6"/>
<path d="M196.91,416.01 A47.50,46.40 0 0 1 191.01,408.98 L204.17,400.39 A31.67,30.93 0 0 0 208.11,405.07 Z" fill="#659acb" stroke="#659acb" stroke-width="0.6"/>
<path d="M191.01,408.98 A47.50,46.40 0 0 1 186.62,400.96 L201.24,395.04 A31.67,30.93 0 0 0 204.17,400.39 Z" fill="#9cc9e2" stroke="#9cc9e2" stroke-width="0.6"/>
<path d="M186.62,400.96 A47.50,46.40 0 0 1 183.91,392.25 L199.44,389.23 A31.67,30.93 0 0 0 201.24,395.04 Z" fill="#4a75b6" stroke="#4a75b6" stroke-width="0.6"/>
<path d="M183.91,392.25 A47.50,46.40 0 0 1 183.00,383.20 L198.83,383.20 A31.67,30.93 0 0 0 199.44,389.23 Z" fill="#9cc9e2" stroke="#9cc9e2" stroke-width="0.6"/>
<path d="M183.00,383.20 A47.50,46.40 0 0 1 183.91,374.15 L199.44,377.17 A31.67,30.93 0 0 0 198.83,383.20 Z" fill="#c8e4f0" stroke="#c8e4f0" stroke-width="0.6"/>
<path d="M183.91,374.15 A47.50,46.40 0 0 1 186.62,365.44 L201.24,371.36 A31.67,30.93 0 0 0 199.44,377.17 Z" fill="#4a75b6" stroke="#4a75b6" stroke-width="0.6"/>
<path d="M186.62,365.44 A47.50,46.40 0 0 1 191.01,357.42 L204.17,366.01 A31.67,30.93 0 0 0 201.24,371.36 Z" fill="#9cc9e2" stroke="#9cc9e2" stroke-width="0.6"/>
<path d="M191.01,357.42 A47.50,46.40 0 0 1 196.91,350.39 L208.11,361.33 A31.67,30.93 0 0 0 204.17,366.01 Z" fill="#c8e4f0" stroke="#c8e4f0" stroke-width="0.6"/>
<path d="M196.91,350.39 A47.50,46.40 0 0 1 204.11,344.62 L212.91,357.48 A31.67,30.93 0 0 0 208.11,361.33 Z" fill="#c8e4f0" stroke="#c8e4f0" stroke-width="0.6"/>
<path d="M204.11,344.62 A47.50,46.40 0 0 1 212.32,340.33 L218.38,354.62 A31.67,30.93 0 0 0 212.91,357.48 Z" fill="#9cc9e2" stroke="#9cc9e2" stroke-width="0.6"/>
<path d="M212.32,340.33 A47.50,46.40 0 0 1 221.23,337.69 L224.32,352.86 A31.67,30.93 0 0 0 218.38,354.62 Z" fill="#659acb" stroke="#659acb" stroke-width="0.6"/>
<path d="M221.23,337.69 A47.50,46.40 0 0 1 230.50,336.80 L230.50,352.27 A31.67,30.93 0 0 0 224.32,352.86 Z" fill="#9cc9e2" stroke="#9cc9e2" stroke-width="0.6"/>
<path d="M230.50,352.27 A31.67,30.93 0 0 1 242.62,354.62 L236.56,368.91 A15.83,15.47 0 0 0 230.50,367.73 Z" fill="#4a75b6" stroke="#4a75b6" stroke-width="0.6"/>
<path d="M242.62,354.62 A31.67,30.93 0 0 1 252.89,361.33 L241.70,372.26 A15.83,15.47 0 0 0 236.56,368.91 Z" fill="#659acb" stroke="#659acb" stroke-width="0.6"/>
<path d="M252.89,361.33 A31.67,30.93 0 0 1 259.76,371.36 L245.13,377.28 A15.83,15.47 0 0 0 241.70,372.26 Z" fill="#9cc9e2" stroke="#9cc9e2" stroke-width="0.6"/>
<path d="M259.76,371.36 A31.67,30.93 0 0 1 262.17,383.20 L246.33,383.20 A15.83,15.47 0 0 0 245.13,377.28 Z" fill="#c8e4f0" stroke="#c8e4f0" stroke-width="0.6"/>
<path d="M262.17,383.20 A31.67,30.93 0 0 1 259.76,395.04 L245.13,389.12 A15.83,15.47 0 0 0 246.33,383.20 Z" fill="#659acb" stroke="#659acb" stroke-width="0.6"/>
<path d="M259.76,395.04 A31.67,30.93 0 0 1 252.89,405.07 L241.70,394.14 A15.83,15.47 0 0 0 245.13,389.12 Z" fill="#4a75b6" stroke="#4a75b6" stroke-width="0.6"/>
<path d="M252.89,405.07 A31.67,30.93 0 0 1 242.62,411.78 L236.56,397.49 A15.83,15.47 0 0 0 241.70,394.14 Z" fill="#9cc9e2" stroke="#9cc9e2" stroke-width="0.6"/>
<path d="M242.62,411.78 A31.67,30.93 0 0 1 230.50,414.13 L230.50,398.67 A15.83,15.47 0 0 0 236.56,397.49 Z" fill="#659acb" stroke="#659acb" stroke-width="0.6"/>
<path d="M230.50,414.13 A31.67,30.93 0 0 1 218.38,411.78 L224.44,397.49 A15.83,15.47 0 0 0 230.50,398.67 Z" fill="#659acb" stroke="#659acb" stroke-width="0.6"/>
<path d="M218.38,411.78 A31.67,30.93 0 0 1 208.11,405.07 L219.30,394.14 A15.83,15.47 0 0 0 224.44,397.49 Z" fill="#4a75b6" stroke="#4a75b6" stroke-width="0.6"/>
<path d="M208.11,405.07 A31.67,30.93 0 0 1 201.24,395.04 L215.87,389.12 A15.83,15.47 0 0 0 219.30,394.14 Z" fill="#659acb" stroke="#659acb" stroke-width="0.6"/>
<path d="M201.24,395.04 A31.67,30.93 0 0 1 198.83,383.20 L214.67,383.20 A15.83,15.47 0 0 0 215.87,389.12 Z" fill="#9cc9e2" stroke="#9cc9e2" stroke-width="0.6"/>
<path d="M198.83,383.20 A31.67,30.93 0 0 1 201.24,371.36 L215.87,377.28 A15.83,15.47 0 0 0 214.67,383.20 Z" fill="#ebebd4" stroke="#ebebd4" stroke-width="0.6"/>
<path d="M201.24,371.36 A31.67,30.93 0 0 1 208.11,361.33 L219.30,372.26 A15.83,15.47 0 0 0 215.87,377.28 Z" fill="#4a75b6" stroke="#4a75b6" stroke-width="0.6"/>
<path d="M208.11,361.33 A31.67,30.93 0 0 1 218.38,354.62 L224.44,368.91 A15.83,15.47 0 0 0 219.30,372.26 Z" fill="#9cc9e2" stroke="#9cc9e2" stroke-width="0.6"/>
<path d="M218.38,354.62 A31.67,30.93 0 0 1 230.50,352.27 L230.50,367.73 A15.83,15.47 0 0 0 224.44,368.91 Z" fill="#9cc9e2" stroke="#9cc9e2" stroke-width="0.6"/>
<path d="M230.50,383.20 L230.50,367.73 A15.83,15.47 0 0 1 246.33,383.20 Z" fill="#9cc9e2" stroke="#9cc9e2" stroke-width="0.6"/>
<path d="M230.50,383.20 L246.33,383.20 A15.83,15.47 0 0 1 230.50,398.67 Z" fill="#c8e4f0" stroke="#c8e4f0" stroke-width="0.6"/>
<path d="M230.50,383.20 L230.50,398.67 A15.83,15.47 0 0 1 214.67,383.20 Z" fill="#ebebd4" stroke="#ebebd4" stroke-width="0.6"/>
<path d="M230.50,383.20 L214.67,383.20 A15.83,15.47 0 0 1 230.50,367.73 Z" fill="#9cc9e2" stroke="#9cc9e2" stroke-width="0.6"/>
<ellipse cx="230.5" cy="383.2" rx="142.50" ry="139.20" fill="none" stroke="#f4eeb4" stroke-width="1"/>
<ellipse cx="230.5" cy="383.2" rx="95.00" ry="92.80" fill="none" stroke="#f4eeb4" stroke-width="1"/>
<ellipse cx="230.5" cy="383.2" rx="47.50" ry="46.40" fill="none" stroke="#f4eeb4" stroke-width="1"/>
<line x1="230.5" y1="383.2" x2="230.50" y2="244.00" stroke="#f4eeb4" stroke-width="1"/>
<line x1="230.5" y1="383.2" x2="331.26" y2="284.77" stroke="#f4eeb4" stroke-width="1"/>
<line x1="230.5" y1="383.2" x2="373.00" y2="383.20" stroke="#f4eeb4" stroke-width="1"/>
<line x1="230.5" y1="383.2" x2="331.26" y2="481.63" stroke="#f4eeb4" stroke-width="1"/>
<line x1="230.5" y1="383.2" x2="230.50" y2="522.40" stroke="#f4eeb4" stroke-width="1"/>
<line x1="230.5" y1="383.2" x2="129.74" y2="481.63" stroke="#f4eeb4" stroke-width="1"/>
<line x1="230.5" y1="383.2" x2="88.00" y2="383.20" stroke="#f4eeb4" stroke-width="1"/>
<line x1="230.5" y1="383.2" x2="129.74" y2="284.77" stroke="#f4eeb4" stroke-width="1"/>
<line x1="230.5" y1="383.2" x2="314" y2="331" stroke="#ffa500" stroke-width="1.1"/>
<path d="M204.0,256.5h7M207.5,253.0v7" stroke="#00ff00" stroke-width="1.2"/>
<path d="M190.0,270.5h7M193.5,267.0v7" stroke="#00ff00" stroke-width="1.2"/>
<path d="M235.0,274.5h7M238.5,271.0v7" stroke="#00ff00" stroke-width="1.2"/>
<path d="M277.0,274.5h7M280.5,271.0v7" stroke="#00ff00" stroke-width="1.2"/>
<path d="M257.0,283.5h7M260.5,280.0v7" stroke="#00ff00" stroke-width="1.2"/>
<path d="M257.0,302.5h7M260.5,299.0v7" stroke="#00ff00" stroke-width="1.2"/>
<path d="M257.0,306.5h7M260.5,303.0v7" stroke="#00ff00" stroke-width="1.2"/>
<path d="M257.0,314.5h7M260.5,311.0v7" stroke="#00ff00" stroke-width="1.2"/>
<path d="M279.0,308.5h7M282.5,305.0v7" stroke="#00ff00" stroke-width="1.2"/>
<path d="M296.0,310.5h7M299.5,307.0v7" stroke="#00ff00" stroke-width="1.2"/>
<path d="M217.0,309.5h7M220.5,306.0v7" stroke="#00ff00" stroke-width="1.2"/>
<path d="M226.0,310.5h7M229.5,307.0v7" stroke="#00ff00" stroke-width="1.2"/>
<path d="M204.0,313.5h7M207.5,310.0v7" stroke="#00ff00" stroke-width="1.2"/>
<path d="M192.0,318.5h7M195.5,315.0v7" stroke="#00ff00" stroke-width="1.2"/>
<path d="M193.0,323.5h7M196.5,320.0v7" stroke="#00ff00" stroke-width="1.2"/>
<path d="M176.0,320.5h7M179.5,317.0v7" stroke="#00ff00" stroke-width="1.2"/>
<path d="M160.0,326.5h7M163.5,323.0v7" stroke="#00ff00" stroke-width="1.2"/>
<path d="M171.0,342.5h7M174.5,339.0v7" stroke="#00ff00" stroke-width="1.2"/>
<path d="M201.0,347.5h7M204.5,344.0v7" stroke="#00ff00" stroke-width="1.2"/>
<path d="M93.0,334.5h7M96.5,331.0v7" stroke="#00ff00" stroke-width="1.2"/>
<path d="M123.0,339.5h7M126.5,336.0v7" stroke="#00ff00" stroke-width="1.2"/>
<path d="M133.0,345.5h7M136.5,342.0v7" stroke="#00ff00" stroke-width="1.2"/>
<path d="M107.0,353.5h7M110.5,350.0v7" stroke="#00ff00" stroke-width="1.2"/>
<path d="M113.0,347.5h7M116.5,344.0v7" stroke="#00ff00" stroke-width="1.2"/>
<path d="M145.0,352.5h7M148.5,349.0v7" stroke="#00ff00" stroke-width="1.2"/>
<path d="M127.0,372.5h7M130.5,369.0v7" stroke="#00ff00" stroke-width="1.2"/>
<path d="M165.0,368.5h7M168.5,365.0v7" stroke="#00ff00" stroke-width="1.2"/>
<path d="M165.0,377.5h7M168.5,374.0v7" stroke="#00ff00" stroke-width="1.2"/>
<path d="M214.0,374.5h7M217.5,371.0v7" stroke="#00ff00" stroke-width="1.2"/>
<path d="M226.0,381.5h7M229.5,378.0v7" stroke="#00ff00" stroke-width="1.2"/>
<path d="M245.0,369.5h7M248.5,366.0v7" stroke="#00ff00" stroke-width="1.2"/>
<path d="M308.0,345.5h7M311.5,342.0v7" stroke="#00ff00" stroke-width="1.2"/>
<path d="M309.0,354.5h7M312.5,351.0v7" stroke="#00ff00" stroke-width="1.2"/>
<path d="M350.0,349.5h7M353.5,346.0v7" stroke="#00ff00" stroke-width="1.2"/>
<path d="M136.0,399.5h7M139.5,396.0v7" stroke="#00ff00" stroke-width="1.2"/>
<path d="M162.0,399.5h7M165.5,396.0v7" stroke="#00ff00" stroke-width="1.2"/>
<path d="M150.0,407.5h7M153.5,404.0v7" stroke="#00ff00" stroke-width="1.2"/>
<path d="M154.0,414.5h7M157.5,411.0v7" stroke="#00ff00" stroke-width="1.2"/>
<path d="M175.0,406.5h7M178.5,403.0v7" stroke="#00ff00" stroke-width="1.2"/>
<path d="M191.0,411.5h7M194.5,408.0v7" stroke="#00ff00" stroke-width="1.2"/>
<path d="M194.0,425.5h7M197.5,422.0v7" stroke="#00ff00" stroke-width="1.2"/>
<path d="M160.0,430.5h7M163.5,427.0v7" stroke="#00ff00" stroke-width="1.2"/>
<path d="M172.0,440.5h7M175.5,437.0v7" stroke="#00ff00" stroke-width="1.2"/>
<path d="M141.0,459.5h7M144.5,456.0v7" stroke="#00ff00" stroke-width="1.2"/>
<path d="M173.0,460.5h7M176.5,457.0v7" stroke="#00ff00" stroke-width="1.2"/>
<path d="M147.0,489.5h7M150.5,486.0v7" stroke="#00ff00" stroke-width="1.2"/>
<path d="M233.0,409.5h7M236.5,406.0v7" stroke="#00ff00" stroke-width="1.2"/>
<path d="M223.0,416.5h7M226.5,413.0v7" stroke="#00ff00" stroke-width="1.2"/>
<path d="M230.0,423.5h7M233.5,420.0v7" stroke="#00ff00" stroke-width="1.2"/>
<path d="M230.0,428.5h7M233.5,425.0v7" stroke="#00ff00" stroke-width="1.2"/>
<path d="M264.0,414.5h7M267.5,411.0v7" stroke="#00ff00" stroke-width="1.2"/>
<path d="M284.0,409.5h7M287.5,406.0v7" stroke="#00ff00" stroke-width="1.2"/>
<path d="M280.0,428.5h7M283.5,425.0v7" stroke="#00ff00" stroke-width="1.2"/>
<path d="M355.0,424.5h7M358.5,421.0v7" stroke="#00ff00" stroke-width="1.2"/>
<path d="M361.0,428.5h7M364.5,425.0v7" stroke="#00ff00" stroke-width="1.2"/>
<path d="M322.0,438.5h7M325.5,435.0v7" stroke="#00ff00" stroke-width="1.2"/>
<path d="M336.0,456.5h7M339.5,453.0v7" stroke="#00ff00" stroke-width="1.2"/>
<path d="M290.0,461.5h7M293.5,458.0v7" stroke="#00ff00" stroke-width="1.2"/>
<path d="M308.0,464.5h7M311.5,461.0v7" stroke="#00ff00" stroke-width="1.2"/>
<path d="M294.0,469.5h7M297.5,466.0v7" stroke="#00ff00" stroke-width="1.2"/>
<path d="M283.0,493.5h7M286.5,490.0v7" stroke="#00ff00" stroke-width="1.2"/>
<path d="M295.0,498.5h7M298.5,495.0v7" stroke="#00ff00" stroke-width="1.2"/>
<path d="M306.0,498.5h7M309.5,495.0v7" stroke="#00ff00" stroke-width="1.2"/>
<path d="M271.0,512.5h7M274.5,509.0v7" stroke="#00ff00" stroke-width="1.2"/>
<text class="s" x="191.4" y="248.1" fill="#00ff00" stroke="#00ff00" stroke-width="0.12" font-size="12.8" textLength="32.8" lengthAdjust="spacingAndGlyphs">J196</text>
<text class="s" x="181.7" y="262.1" fill="#00ff00" stroke="#00ff00" stroke-width="0.12" font-size="12.8" textLength="24.6" lengthAdjust="spacingAndGlyphs">G24</text>
<text class="s" x="227.0" y="266.6" fill="#00ff00" stroke="#00ff00" stroke-width="0.12" font-size="12.8" textLength="24.6" lengthAdjust="spacingAndGlyphs">E04</text>
<text class="s" x="268.6" y="266.1" fill="#00ff00" stroke="#00ff00" stroke-width="0.12" font-size="12.8" textLength="24.6" lengthAdjust="spacingAndGlyphs">E11</text>
<text class="s" x="248.0" y="275.6" fill="#00ff00" stroke="#00ff00" stroke-width="0.12" font-size="12.8" textLength="24.6" lengthAdjust="spacingAndGlyphs">C23</text>
<text class="s" x="248.4" y="295.1" fill="#00ff00" stroke="#00ff00" stroke-width="0.12" font-size="12.8" textLength="24.6" lengthAdjust="spacingAndGlyphs">R12</text>
<text class="s" x="248.0" y="298.6" fill="#00ff00" stroke="#00ff00" stroke-width="0.12" font-size="12.8" textLength="24.6" lengthAdjust="spacingAndGlyphs">C04</text>
<text class="s" x="248.0" y="306.1" fill="#00ff00" stroke="#00ff00" stroke-width="0.12" font-size="12.8" textLength="24.6" lengthAdjust="spacingAndGlyphs">C32</text>
<text class="s" x="271.0" y="300.1" fill="#00ff00" stroke="#00ff00" stroke-width="0.12" font-size="12.8" textLength="24.6" lengthAdjust="spacingAndGlyphs">G05</text>
<text class="s" x="287.5" y="302.1" fill="#00ff00" stroke="#00ff00" stroke-width="0.12" font-size="12.8" textLength="24.6" lengthAdjust="spacingAndGlyphs">E10</text>
<text class="s" x="208.3" y="301.9" fill="#00ff00" stroke="#00ff00" stroke-width="0.12" font-size="12.8" textLength="24.6" lengthAdjust="spacingAndGlyphs">C50</text>
<text class="s" x="217.7" y="302.5" fill="#00ff00" stroke="#00ff00" stroke-width="0.12" font-size="12.8" textLength="24.6" lengthAdjust="spacingAndGlyphs">G01</text>
<text class="s" x="195.8" y="305.6" fill="#00ff00" stroke="#00ff00" stroke-width="0.12" font-size="12.8" textLength="24.6" lengthAdjust="spacingAndGlyphs">E06</text>
<text class="s" x="179.4" y="310.4" fill="#00ff00" stroke="#00ff00" stroke-width="0.12" font-size="12.8" textLength="32.8" lengthAdjust="spacingAndGlyphs">J199</text>
<text class="s" x="180.8" y="316.0" fill="#00ff00" stroke="#00ff00" stroke-width="0.12" font-size="12.8" textLength="32.8" lengthAdjust="spacingAndGlyphs">J193</text>
<text class="s" x="167.3" y="313.1" fill="#00ff00" stroke="#00ff00" stroke-width="0.12" font-size="12.8" textLength="24.6" lengthAdjust="spacingAndGlyphs">C35</text>
<text class="s" x="151.4" y="318.1" fill="#00ff00" stroke="#00ff00" stroke-width="0.12" font-size="12.8" textLength="24.6" lengthAdjust="spacingAndGlyphs">C03</text>
<text class="s" x="162.8" y="334.6" fill="#00ff00" stroke="#00ff00" stroke-width="0.12" font-size="12.8" textLength="24.6" lengthAdjust="spacingAndGlyphs">C06</text>
<text class="s" x="192.6" y="339.4" fill="#00ff00" stroke="#00ff00" stroke-width="0.12" font-size="12.8" textLength="24.6" lengthAdjust="spacingAndGlyphs">C37</text>
<text class="s" x="84.6" y="326.3" fill="#00ff00" stroke="#00ff00" stroke-width="0.12" font-size="12.8" textLength="24.6" lengthAdjust="spacingAndGlyphs">C30</text>
<text class="s" x="110.5" y="331.5" fill="#00ff00" stroke="#00ff00" stroke-width="0.12" font-size="12.8" textLength="32.8" lengthAdjust="spacingAndGlyphs">J209</text>
<text class="s" x="124.8" y="337.8" fill="#00ff00" stroke="#00ff00" stroke-width="0.12" font-size="12.8" textLength="24.6" lengthAdjust="spacingAndGlyphs">C26</text>
<text class="s" x="98.6" y="345.4" fill="#00ff00" stroke="#00ff00" stroke-width="0.12" font-size="12.8" textLength="24.6" lengthAdjust="spacingAndGlyphs">C60</text>
<text class="s" x="104.6" y="339.8" fill="#00ff00" stroke="#00ff00" stroke-width="0.12" font-size="12.8" textLength="24.6" lengthAdjust="spacingAndGlyphs">C16</text>
<text class="s" x="137.0" y="344.5" fill="#00ff00" stroke="#00ff00" stroke-width="0.12" font-size="12.8" textLength="24.6" lengthAdjust="spacingAndGlyphs">R24</text>
<text class="s" x="118.6" y="364.9" fill="#00ff00" stroke="#00ff00" stroke-width="0.12" font-size="12.8" textLength="24.6" lengthAdjust="spacingAndGlyphs">E25</text>
<text class="s" x="156.5" y="360.3" fill="#00ff00" stroke="#00ff00" stroke-width="0.12" font-size="12.8" textLength="24.6" lengthAdjust="spacingAndGlyphs">C09</text>
<text class="s" x="156.5" y="369.3" fill="#00ff00" stroke="#00ff00" stroke-width="0.12" font-size="12.8" textLength="24.6" lengthAdjust="spacingAndGlyphs">C27</text>
<text class="s" x="205.6" y="366.5" fill="#00ff00" stroke="#00ff00" stroke-width="0.12" font-size="12.8" textLength="24.6" lengthAdjust="spacingAndGlyphs">R13</text>
<text class="s" x="217.6" y="373.5" fill="#00ff00" stroke="#00ff00" stroke-width="0.12" font-size="12.8" textLength="24.6" lengthAdjust="spacingAndGlyphs">C58</text>
<text class="s" x="236.2" y="361.5" fill="#00ff00" stroke="#00ff00" stroke-width="0.12" font-size="12.8" textLength="24.6" lengthAdjust="spacingAndGlyphs">G12</text>
<text class="s" x="299.5" y="337.4" fill="#00ff00" stroke="#00ff00" stroke-width="0.12" font-size="12.8" textLength="24.6" lengthAdjust="spacingAndGlyphs">E21</text>
<text class="s" x="300.8" y="347.1" fill="#00ff00" stroke="#00ff00" stroke-width="0.12" font-size="12.8" textLength="24.6" lengthAdjust="spacingAndGlyphs">G21</text>
<text class="s" x="341.4" y="341.2" fill="#00ff00" stroke="#00ff00" stroke-width="0.12" font-size="12.8" textLength="24.6" lengthAdjust="spacingAndGlyphs">C33</text>
<text class="s" x="127.9" y="392.0" fill="#00ff00" stroke="#00ff00" stroke-width="0.12" font-size="12.8" textLength="24.6" lengthAdjust="spacingAndGlyphs">C10</text>
<text class="s" x="153.2" y="392.0" fill="#00ff00" stroke="#00ff00" stroke-width="0.12" font-size="12.8" textLength="24.6" lengthAdjust="spacingAndGlyphs">C07</text>
<text class="s" x="141.8" y="399.6" fill="#00ff00" stroke="#00ff00" stroke-width="0.12" font-size="12.8" textLength="24.6" lengthAdjust="spacingAndGlyphs">G79</text>
<text class="s" x="145.2" y="407.1" fill="#00ff00" stroke="#00ff00" stroke-width="0.12" font-size="12.8" textLength="24.6" lengthAdjust="spacingAndGlyphs">E05</text>
<text class="s" x="166.8" y="399.0" fill="#00ff00" stroke="#00ff00" stroke-width="0.12" font-size="12.8" textLength="24.6" lengthAdjust="spacingAndGlyphs">C40</text>
<text class="s" x="182.5" y="403.9" fill="#00ff00" stroke="#00ff00" stroke-width="0.12" font-size="12.8" textLength="24.6" lengthAdjust="spacingAndGlyphs">G25</text>
<text class="s" x="185.6" y="417.3" fill="#00ff00" stroke="#00ff00" stroke-width="0.12" font-size="12.8" textLength="24.6" lengthAdjust="spacingAndGlyphs">B18</text>
<text class="s" x="151.8" y="422.4" fill="#00ff00" stroke="#00ff00" stroke-width="0.12" font-size="12.8" textLength="24.6" lengthAdjust="spacingAndGlyphs">C46</text>
<text class="s" x="159.8" y="432.7" fill="#00ff00" stroke="#00ff00" stroke-width="0.12" font-size="12.8" textLength="32.8" lengthAdjust="spacingAndGlyphs">J194</text>
<text class="s" x="132.6" y="451.3" fill="#00ff00" stroke="#00ff00" stroke-width="0.12" font-size="12.8" textLength="24.6" lengthAdjust="spacingAndGlyphs">G28</text>
<text class="s" x="164.8" y="452.9" fill="#00ff00" stroke="#00ff00" stroke-width="0.12" font-size="12.8" textLength="24.6" lengthAdjust="spacingAndGlyphs">R14</text>
<text class="s" x="138.6" y="481.3" fill="#00ff00" stroke="#00ff00" stroke-width="0.12" font-size="12.8" textLength="24.6" lengthAdjust="spacingAndGlyphs">E03</text>
<text class="s" x="224.2" y="401.4" fill="#00ff00" stroke="#00ff00" stroke-width="0.12" font-size="12.8" textLength="24.6" lengthAdjust="spacingAndGlyphs">C28</text>
<text class="s" x="214.8" y="408.1" fill="#00ff00" stroke="#00ff00" stroke-width="0.12" font-size="12.8" textLength="24.6" lengthAdjust="spacingAndGlyphs">E14</text>
<text class="s" x="221.2" y="415.8" fill="#00ff00" stroke="#00ff00" stroke-width="0.12" font-size="12.8" textLength="24.6" lengthAdjust="spacingAndGlyphs">E24</text>
<text class="s" x="221.2" y="420.9" fill="#00ff00" stroke="#00ff00" stroke-width="0.12" font-size="12.8" textLength="24.6" lengthAdjust="spacingAndGlyphs">E18</text>
<text class="s" x="255.4" y="406.3" fill="#00ff00" stroke="#00ff00" stroke-width="0.12" font-size="12.8" textLength="24.6" lengthAdjust="spacingAndGlyphs">G11</text>
<text class="s" x="275.6" y="401.4" fill="#00ff00" stroke="#00ff00" stroke-width="0.12" font-size="12.8" textLength="24.6" lengthAdjust="spacingAndGlyphs">E31</text>
<text class="s" x="271.5" y="420.8" fill="#00ff00" stroke="#00ff00" stroke-width="0.12" font-size="12.8" textLength="24.6" lengthAdjust="spacingAndGlyphs">C49</text>
<text class="s" x="346.7" y="416.9" fill="#00ff00" stroke="#00ff00" stroke-width="0.12" font-size="12.8" textLength="24.6" lengthAdjust="spacingAndGlyphs">R07</text>
<text class="s" x="352.6" y="420.8" fill="#00ff00" stroke="#00ff00" stroke-width="0.12" font-size="12.8" textLength="24.6" lengthAdjust="spacingAndGlyphs">E01</text>
<text class="s" x="313.8" y="430.7" fill="#00ff00" stroke="#00ff00" stroke-width="0.12" font-size="12.8" textLength="24.6" lengthAdjust="spacingAndGlyphs">C43</text>
<text class="s" x="327.7" y="448.3" fill="#00ff00" stroke="#00ff00" stroke-width="0.12" font-size="12.8" textLength="24.6" lengthAdjust="spacingAndGlyphs">C42</text>
<text class="s" x="281.3" y="453.2" fill="#00ff00" stroke="#00ff00" stroke-width="0.12" font-size="12.8" textLength="24.6" lengthAdjust="spacingAndGlyphs">R22</text>
<text class="s" x="299.4" y="456.1" fill="#00ff00" stroke="#00ff00" stroke-width="0.12" font-size="12.8" textLength="24.6" lengthAdjust="spacingAndGlyphs">G06</text>
<text class="s" x="285.6" y="461.8" fill="#00ff00" stroke="#00ff00" stroke-width="0.12" font-size="12.8" textLength="24.6" lengthAdjust="spacingAndGlyphs">E33</text>
<text class="s" x="274.4" y="485.4" fill="#00ff00" stroke="#00ff00" stroke-width="0.12" font-size="12.8" textLength="24.6" lengthAdjust="spacingAndGlyphs">E26</text>
<text class="s" x="287.0" y="490.2" fill="#00ff00" stroke="#00ff00" stroke-width="0.12" font-size="12.8" textLength="24.6" lengthAdjust="spacingAndGlyphs">R27</text>
<text class="s" x="297.6" y="490.2" fill="#00ff00" stroke="#00ff00" stroke-width="0.12" font-size="12.8" textLength="24.6" lengthAdjust="spacingAndGlyphs">E50</text>
<text class="s" x="262.2" y="504.7" fill="#00ff00" stroke="#00ff00" stroke-width="0.12" font-size="12.8" textLength="24.6" lengthAdjust="spacingAndGlyphs">R06</text>
<polygon points="316.1,305.1 319.7,307.9 321.2,314.4 321.9,321.5 323.3,325.8 322.6,331.6 323.3,337.3 322.6,343 319.7,344.5 315.4,344.5 313.3,341.6 311.8,337.3 310.4,331.6 311.1,325.8 311.1,320.1 312.6,313 314,307.9" fill="#ffa500"/>
<text x="665.85" y="194.20" fill="#ede7ab" font-size="16.5" textLength="107.89" lengthAdjust="spacingAndGlyphs">Waterfall Plot</text>
<line x1="511.50" y1="461.00" x2="777.20" y2="507.60" stroke="#ede7ab" stroke-width="1"/>
<line x1="777.20" y1="507.60" x2="933.50" y2="428.00" stroke="#ede7ab" stroke-width="1"/>
<line x1="933.50" y1="428.00" x2="667.80" y2="381.40" stroke="#ede7ab" stroke-width="1"/>
<line x1="667.80" y1="381.40" x2="511.50" y2="461.00" stroke="#ede7ab" stroke-width="1"/>
<line x1="511.50" y1="461.00" x2="517.29" y2="458.05" stroke="#ede7ab" stroke-width="1"/>
<line x1="667.80" y1="381.40" x2="662.01" y2="384.35" stroke="#ede7ab" stroke-width="1"/>
<line x1="555.78" y1="468.77" x2="561.58" y2="465.82" stroke="#ede7ab" stroke-width="1"/>
<line x1="712.08" y1="389.17" x2="706.29" y2="392.12" stroke="#ede7ab" stroke-width="1"/>
<line x1="600.07" y1="476.53" x2="605.86" y2="473.58" stroke="#ede7ab" stroke-width="1"/>
<line x1="756.37" y1="396.93" x2="750.57" y2="399.88" stroke="#ede7ab" stroke-width="1"/>
<line x1="644.35" y1="484.30" x2="650.14" y2="481.35" stroke="#ede7ab" stroke-width="1"/>
<line x1="800.65" y1="404.70" x2="794.86" y2="407.65" stroke="#ede7ab" stroke-width="1"/>
<line x1="688.63" y1="492.07" x2="694.43" y2="489.12" stroke="#ede7ab" stroke-width="1"/>
<line x1="844.93" y1="412.47" x2="839.14" y2="415.42" stroke="#ede7ab" stroke-width="1"/>
<line x1="732.92" y1="499.83" x2="738.71" y2="496.88" stroke="#ede7ab" stroke-width="1"/>
<line x1="889.22" y1="420.23" x2="883.42" y2="423.18" stroke="#ede7ab" stroke-width="1"/>
<line x1="777.20" y1="507.60" x2="782.99" y2="504.65" stroke="#ede7ab" stroke-width="1"/>
<line x1="933.50" y1="428.00" x2="927.71" y2="430.95" stroke="#ede7ab" stroke-width="1"/>
<line x1="777.20" y1="507.60" x2="770.80" y2="506.48" stroke="#ede7ab" stroke-width="1"/>
<line x1="511.50" y1="461.00" x2="517.90" y2="462.12" stroke="#ede7ab" stroke-width="1"/>
<line x1="799.53" y1="496.23" x2="793.13" y2="495.11" stroke="#ede7ab" stroke-width="1"/>
<line x1="533.83" y1="449.63" x2="540.23" y2="450.75" stroke="#ede7ab" stroke-width="1"/>
<line x1="821.86" y1="484.86" x2="815.45" y2="483.73" stroke="#ede7ab" stroke-width="1"/>
<line x1="556.16" y1="438.26" x2="562.56" y2="439.38" stroke="#ede7ab" stroke-width="1"/>
<line x1="844.19" y1="473.49" x2="837.78" y2="472.36" stroke="#ede7ab" stroke-width="1"/>
<line x1="578.49" y1="426.89" x2="584.89" y2="428.01" stroke="#ede7ab" stroke-width="1"/>
<line x1="866.51" y1="462.11" x2="860.11" y2="460.99" stroke="#ede7ab" stroke-width="1"/>
<line x1="600.81" y1="415.51" x2="607.22" y2="416.64" stroke="#ede7ab" stroke-width="1"/>
<line x1="888.84" y1="450.74" x2="882.44" y2="449.62" stroke="#ede7ab" stroke-width="1"/>
<line x1="623.14" y1="404.14" x2="629.55" y2="405.27" stroke="#ede7ab" stroke-width="1"/>
<line x1="911.17" y1="439.37" x2="904.77" y2="438.25" stroke="#ede7ab" stroke-width="1"/>
<line x1="645.47" y1="392.77" x2="651.87" y2="393.89" stroke="#ede7ab" stroke-width="1"/>
<line x1="933.50" y1="428.00" x2="927.10" y2="426.88" stroke="#ede7ab" stroke-width="1"/>
<line x1="667.80" y1="381.40" x2="674.20" y2="382.52" stroke="#ede7ab" stroke-width="1"/>
<defs><clipPath id="surfclip"><polygon points="566,424.5 568,424.5 568,421.8 568,421.8 568,422.2 570,422.2 570,420.2 570,420.2 570,417.2 572,417.2 572,419.0 572,419.0 572,418.1 574,418.1 574,417.5 574,417.5 574,416.4 576,416.4 576,415.0 576,415.0 576,413.3 578,413.3 578,411.6 578,411.6 578,412.2 580,412.2 580,411.3 580,411.3 580,410.2 582,410.2 582,406.6 582,406.6 582,408.2 584,408.2 584,404.2 584,404.2 584,398.1 586,398.1 586,397.3 586,397.3 586,389.5 588,389.5 588,376.7 588,376.7 588,373.4 590,373.4 590,370.8 590,370.8 590,366.6 592,366.6 592,367.2 592,367.2 592,364.6 594,364.6 594,361.8 594,361.8 594,361.2 596,361.2 596,360.9 596,360.9 596,360.3 598,360.3 598,358.9 598,358.9 598,358.2 600,358.2 600,357.0 600,357.0 600,356.2 602,356.2 602,353.4 602,353.4 602,352.8 604,352.8 604,353.4 604,353.4 604,351.8 606,351.8 606,351.4 606,351.4 606,350.6 608,350.6 608,350.3 608,350.3 608,348.9 610,348.9 610,349.2 610,349.2 610,348.5 612,348.5 612,347.0 612,347.0 612,347.5 614,347.5 614,344.6 614,344.6 614,346.6 616,346.6 616,344.7 616,344.7 616,345.3 618,345.3 618,344.8 618,344.8 618,343.6 620,343.6 620,343.4 620,343.4 620,343.1 622,343.1 622,342.7 622,342.7 622,342.2 624,342.2 624,340.3 624,340.3 624,340.5 626,340.5 626,339.2 626,339.2 626,336.8 628,336.8 628,338.1 628,338.1 628,338.6 630,338.6 630,338.0 630,338.0 630,336.7 632,336.7 632,336.8 632,336.8 632,333.2 634,333.2 634,332.9 634,332.9 634,333.2 636,333.2 636,334.5 636,334.5 636,332.3 638,332.3 638,333.9 638,333.9 638,333.3 640,333.3 640,332.5 640,332.5 640,331.0 642,331.0 642,331.5 642,331.5 642,331.4 644,331.4 644,330.8 644,330.8 644,330.3 646,330.3 646,329.9 646,329.9 646,329.5 648,329.5 648,328.8 648,328.8 648,328.2 650,328.2 650,326.3 650,326.3 650,325.7 652,325.7 652,326.4 652,326.4 652,326.1 654,326.1 654,324.2 654,324.2 654,322.9 656,322.9 656,323.8 656,323.8 656,322.5 658,322.5 658,320.9 658,320.9 658,323.3 660,323.3 660,320.4 660,320.4 660,322.2 662,322.2 662,321.4 662,321.4 662,319.6 664,319.6 664,319.7 664,319.7 664,320.6 666,320.6 666,319.3 666,319.3 666,319.9 668,319.9 668,319.4 668,319.4 668,317.4 670,317.4 670,318.6 670,318.6 670,317.8 672,317.8 672,316.9 672,316.9 672,315.9 674,315.9 674,316.0 674,316.0 674,317.2 676,317.2 676,316.6 676,316.6 676,316.2 678,316.2 678,316.3 678,316.3 678,315.6 680,315.6 680,315.2 680,315.2 680,313.9 682,313.9 682,312.8 682,312.8 682,315.5 684,315.5 684,315.4 684,315.4 684,314.2 686,314.2 686,315.1 686,315.1 686,314.9 688,314.9 688,314.1 688,314.1 688,314.6 690,314.6 690,312.8 690,312.8 690,312.1 692,312.1 692,314.1 692,314.1 692,313.4 694,313.4 694,312.0 694,312.0 694,310.4 696,310.4 696,313.4 696,313.4 696,313.6 698,313.6 698,311.3 698,311.3 698,311.1 700,311.1 700,313.8 700,313.8 700,313.6 702,313.6 702,312.6 702,312.6 702,311.9 704,311.9 704,314.1 704,314.1 704,313.1 706,313.1 706,312.4 706,312.4 706,313.7 708,313.7 708,314.3 708,314.3 708,314.4 710,314.4 710,314.4 710,314.4 710,312.7 712,312.7 712,314.6 712,314.6 712,314.7 714,314.7 714,314.6 714,314.6 714,314.9 716,314.9 716,314.8 716,314.8 716,314.6 718,314.6 718,313.8 718,313.8 718,312.9 720,312.9 720,313.6 720,313.6 720,313.7 722,313.7 722,313.3 722,313.3 722,312.5 724,312.5 724,310.1 724,310.1 724,309.3 726,309.3 726,312.5 726,312.5 726,312.3 728,312.3 728,310.0 728,310.0 728,309.0 730,309.0 730,311.3 730,311.3 730,309.8 732,309.8 732,308.9 732,308.9 732,310.4 734,310.4 734,309.5 734,309.5 734,312.4 736,312.4 736,312.9 736,312.9 736,313.4 738,313.4 738,314.1 738,314.1 738,312.0 740,312.0 740,315.2 740,315.2 740,314.7 742,314.7 742,316.6 742,316.6 742,317.6 744,317.6 744,318.7 744,318.7 744,320.2 746,320.2 746,320.9 746,320.9 746,322.0 748,322.0 748,322.3 748,322.3 748,321.0 750,321.0 750,322.3 750,322.3 750,322.2 752,322.2 752,322.0 752,322.0 752,321.9 754,321.9 754,322.0 754,322.0 754,319.3 756,319.3 756,319.9 756,319.9 756,321.8 758,321.8 758,321.6 758,321.6 758,321.7 760,321.7 760,321.3 760,321.3 760,321.5 762,321.5 762,321.1 762,321.1 762,318.8 764,318.8 764,321.6 764,321.6 764,321.0 766,321.0 766,321.3 766,321.3 766,320.8 768,320.8 768,322.4 768,322.4 768,321.1 770,321.1 770,319.8 770,319.8 770,322.2 772,322.2 772,323.0 772,323.0 772,322.2 774,322.2 774,322.2 774,322.2 774,322.6 776,322.6 776,323.8 776,323.8 776,320.7 778,320.7 778,321.0 778,321.0 778,323.9 780,323.9 780,323.5 780,323.5 780,324.3 782,324.3 782,321.0 782,321.0 782,322.5 784,322.5 784,323.6 784,323.6 784,323.0 786,323.0 786,324.6 786,324.6 786,324.6 788,324.6 788,324.7 788,324.7 788,324.0 790,324.0 790,324.8 790,324.8 790,322.4 792,322.4 792,324.6 792,324.6 792,324.7 794,324.7 794,325.1 794,325.1 794,324.0 796,324.0 796,323.3 796,323.3 796,324.4 798,324.4 798,325.3 798,325.3 798,323.7 800,323.7 800,325.8 800,325.8 800,324.2 802,324.2 802,325.9 802,325.9 802,326.9 804,326.9 804,326.9 804,326.9 804,326.9 806,326.9 806,328.1 806,328.1 806,326.4 808,326.4 808,328.7 808,328.7 808,326.8 810,326.8 810,327.7 810,327.7 810,330.1 812,330.1 812,329.6 812,329.6 812,330.6 814,330.6 814,329.4 814,329.4 814,330.6 816,330.6 816,331.0 816,331.0 816,329.0 818,329.0 818,331.7 818,331.7 818,331.3 820,331.3 820,332.0 820,332.0 820,332.4 822,332.4 822,331.1 822,331.1 822,332.2 824,332.2 824,330.5 824,330.5 824,332.5 826,332.5 826,333.6 826,333.6 826,330.9 828,330.9 828,334.7 828,334.7 828,335.2 830,335.2 830,334.3 830,334.3 830,336.0 832,336.0 832,336.5 832,336.5 832,334.8 834,334.8 834,337.6 834,337.6 834,335.7 836,335.7 836,338.1 836,338.1 836,339.9 838,339.9 838,341.0 838,341.0 838,342.0 840,342.0 840,339.9 840,339.9 840,343.8 842,343.8 842,345.0 842,345.0 842,346.0 844,346.0 844,344.5 844,344.5 844,348.1 846,348.1 846,347.4 846,347.4 846,350.1 848,350.1 848,348.0 848,348.0 848,351.2 850,351.2 850,352.2 850,352.2 850,349.7 852,349.7 852,352.8 852,352.8 852,352.0 854,352.0 854,353.3 854,353.3 854,354.2 856,354.2 856,354.6 856,354.6 856,355.0 858,355.0 858,355.4 858,355.4 858,355.8 860,355.8 860,356.3 860,356.3 860,353.7 862,353.7 862,357.1 862,357.1 862,357.0 864,357.0 864,357.9 864,357.9 864,358.9 866,358.9 866,358.4 866,358.4 866,358.0 868,358.0 868,361.6 868,361.6 868,363.0 870,363.0 870,360.5 870,360.5 870,365.0 872,365.0 872,365.8 872,365.8 872,366.5 874,366.5 874,370.6 874,370.6 874,377.1 876,377.1 876,383.1 876,383.1 876,383.7 878,383.7 878,381.9 878,381.9 878,381.6 880,381.6 880,381.6 880,381.6 880,382.6 882,382.6 882,383.9 882,383.9 882,383.8 884,383.8 884,383.5 884,383.5 884,383.4 886,383.4 886,381.9 886,381.9 886,383.9 888,383.9 888,383.4 888,383.4 888,385.2 890,385.2 890,384.8 890,384.8 890,387.4 892,387.4 892,388.1 892,388.1 892,399.8 892,399.8 892,396.4 890,396.4 890,396.3 890,396.3 890,399.5 888,399.5 888,402.9 888,402.9 888,399.2 886,399.2 886,399.8 886,399.8 886,405.2 884,405.2 884,408.0 884,408.0 884,402.0 882,402.0 882,402.4 882,402.4 882,405.5 880,405.5 880,401.1 880,401.1 880,401.4 878,401.4 878,400.1 878,400.1 878,399.1 876,399.1 876,399.5 876,399.5 876,403.6 874,403.6 874,401.0 874,401.0 874,399.9 872,399.9 872,398.7 872,398.7 872,395.1 870,395.1 870,397.6 870,397.6 870,394.2 868,394.2 868,392.9 868,392.9 868,397.5 866,397.5 866,392.3 866,392.3 866,395.2 864,395.2 864,391.8 864,391.8 864,394.6 862,394.6 862,398.7 862,398.7 862,394.0 860,394.0 860,394.8 860,394.8 860,391.3 858,391.3 858,396.2 858,396.2 858,391.1 856,391.1 856,397.5 856,397.5 856,396.3 854,396.3 854,394.0 854,394.0 854,392.3 852,392.3 852,396.1 852,396.1 852,397.6 850,397.6 850,394.0 850,394.0 850,394.7 848,394.7 848,396.1 848,396.1 848,394.7 846,394.7 846,395.3 846,395.3 846,401.0 844,401.0 844,397.8 844,397.8 844,398.0 842,398.0 842,397.1 842,397.1 842,402.0 840,402.0 840,397.7 840,397.7 840,394.8 838,394.8 838,393.1 838,393.1 838,391.5 836,391.5 836,397.0 836,397.0 836,392.1 834,392.1 834,387.0 834,387.0 834,385.0 832,385.0 832,386.5 832,386.5 832,386.2 830,386.2 830,390.8 830,390.8 830,389.0 828,389.0 828,391.5 828,391.5 828,386.2 826,386.2 826,388.9 826,388.9 826,387.8 824,387.8 824,387.2 824,387.2 824,392.6 822,392.6 822,391.9 822,391.9 822,387.6 820,387.6 820,394.0 820,394.0 820,392.4 818,392.4 818,392.4 818,392.4 818,389.2 816,389.2 816,390.6 816,390.6 816,397.1 814,397.1 814,390.7 814,390.7 814,395.3 812,395.3 812,391.1 812,391.1 812,391.9 810,391.9 810,392.0 810,392.0 810,393.9 808,393.9 808,392.9 808,392.9 808,394.2 806,394.2 806,396.9 806,396.9 806,394.3 804,394.3 804,395.7 804,395.7 804,395.7 802,395.7 802,397.6 802,397.6 802,397.6 800,397.6 800,396.8 800,396.8 800,397.3 798,397.3 798,398.3 798,398.3 798,398.4 796,398.4 796,400.1 796,400.1 796,405.9 794,405.9 794,400.9 794,400.9 794,401.1 792,401.1 792,401.3 792,401.3 792,402.1 790,402.1 790,402.7 790,402.7 790,408.0 788,408.0 788,404.2 788,404.2 788,411.4 786,411.4 786,412.1 786,412.1 786,406.5 784,406.5 784,407.1 784,407.1 784,414.0 782,414.0 782,414.1 782,414.1 782,417.7 780,417.7 780,422.9 780,422.9 780,420.8 778,420.8 778,427.6 778,427.6 778,434.7 776,434.7 776,444.3 776,444.3 776,450.5 774,450.5 774,453.5 774,453.5 774,453.4 772,453.4 772,454.7 772,454.7 772,458.2 770,458.2 770,458.7 770,458.7 770,465.4 768,465.4 768,463.3 768,463.3 768,464.2 766,464.2 766,464.8 766,464.8 766,471.7 764,471.7 764,473.3 764,473.3 764,467.0 762,467.0 762,468.2 762,468.2 762,469.9 760,469.9 760,466.9 760,466.9 760,467.5 758,467.5 758,472.0 758,472.0 758,472.7 756,472.7 756,468.0 756,468.0 756,471.8 754,471.8 754,472.1 754,472.1 754,465.4 752,465.4 752,464.8 752,464.8 752,463.9 750,463.9 750,465.1 750,465.1 750,464.9 748,464.9 748,463.8 748,463.8 748,462.6 746,462.6 746,467.3 746,467.3 746,460.2 744,460.2 744,465.4 744,465.4 744,459.4 742,459.4 742,458.3 742,458.3 742,462.8 740,462.8 740,455.0 740,455.0 740,455.9 738,455.9 738,453.5 738,453.5 738,450.7 736,450.7 736,457.2 736,457.2 736,450.9 734,450.9 734,447.1 734,447.1 734,453.0 732,453.0 732,450.6 732,450.6 732,453.7 730,453.7 730,453.2 730,453.2 730,452.2 728,452.2 728,454.3 728,454.3 728,454.6 726,454.6 726,457.1 726,457.1 726,463.1 724,463.1 724,457.1 724,457.1 724,458.0 722,458.0 722,465.0 722,465.0 722,467.0 720,467.0 720,457.1 720,457.1 720,453.6 718,453.6 718,450.0 718,450.0 718,446.7 716,446.7 716,443.0 716,443.0 716,444.6 714,444.6 714,443.5 714,443.5 714,443.9 712,443.9 712,438.3 712,438.3 712,437.0 710,437.0 710,437.5 710,437.5 710,436.8 708,436.8 708,437.9 708,437.9 708,439.0 706,439.0 706,437.6 706,437.6 706,443.0 704,443.0 704,442.7 704,442.7 704,446.0 702,446.0 702,440.2 702,440.2 702,439.6 700,439.6 700,440.9 700,440.9 700,439.6 698,439.6 698,440.2 698,440.2 698,436.4 696,436.4 696,437.6 696,437.6 696,440.3 694,440.3 694,435.3 694,435.3 694,436.4 692,436.4 692,436.6 692,436.6 692,437.7 690,437.7 690,440.3 690,440.3 690,439.0 688,439.0 688,438.6 688,438.6 688,439.0 686,439.0 686,445.0 686,445.0 686,446.9 684,446.9 684,442.2 684,442.2 684,439.9 682,439.9 682,441.7 682,441.7 682,439.5 680,439.5 680,439.9 680,439.9 680,439.2 678,439.2 678,438.7 678,438.7 678,443.6 676,443.6 676,444.6 676,444.6 676,438.9 674,438.9 674,437.8 674,437.8 674,438.6 672,438.6 672,442.2 672,442.2 672,435.4 670,435.4 670,433.7 670,433.7 670,432.5 668,432.5 668,437.6 668,437.6 668,430.0 666,430.0 666,437.0 666,437.0 666,436.4 664,436.4 664,436.7 664,436.7 664,436.3 662,436.3 662,436.4 662,436.4 662,432.8 660,432.8 660,429.8 660,429.8 660,432.9 658,432.9 658,431.9 658,431.9 658,431.3 656,431.3 656,429.9 656,429.9 656,430.2 654,430.2 654,437.6 654,437.6 654,437.2 652,437.2 652,435.3 652,435.3 652,433.0 650,433.0 650,431.8 650,431.8 650,431.7 648,431.7 648,437.4 648,437.4 648,438.2 646,438.2 646,432.4 646,432.4 646,440.4 644,440.4 644,434.0 644,434.0 644,434.2 642,434.2 642,435.3 642,435.3 642,437.7 640,437.7 640,437.4 640,437.4 640,430.8 638,430.8 638,428.3 638,428.3 638,428.4 636,428.4 636,431.5 636,431.5 636,423.6 634,423.6 634,425.4 634,425.4 634,421.2 632,421.2 632,423.7 632,423.7 632,421.5 630,421.5 630,422.6 630,422.6 630,427.4 628,427.4 628,420.3 628,420.3 628,424.9 626,424.9 626,423.1 626,423.1 626,420.0 624,420.0 624,426.6 624,426.6 624,420.5 622,420.5 622,419.7 622,419.7 622,422.4 620,422.4 620,422.5 620,422.5 620,419.9 618,419.9 618,426.8 618,426.8 618,421.5 616,421.5 616,420.8 616,420.8 616,422.1 614,422.1 614,420.7 614,420.7 614,421.4 612,421.4 612,422.5 612,422.5 612,421.8 610,421.8 610,422.1 610,422.1 610,423.1 608,423.1 608,421.2 608,421.2 608,421.4 606,421.4 606,421.5 606,421.5 606,428.5 604,428.5 604,424.8 604,424.8 604,426.1 602,426.1 602,425.2 602,425.2 602,421.3 600,421.3 600,422.9 600,422.9 600,426.2 598,426.2 598,421.5 598,421.5 598,426.6 596,426.6 596,421.3 596,421.3 596,425.3 594,425.3 594,426.1 594,426.1 594,423.1 592,423.1 592,421.3 592,421.3 592,425.6 590,425.6 590,422.3 590,422.3 590,424.2 588,424.2 588,422.5 588,422.5 588,429.2 586,429.2 586,428.4 586,428.4 586,423.3 584,423.3 584,427.6 584,427.6 584,427.0 582,427.0 582,425.7 582,425.7 582,431.5 580,431.5 580,425.4 580,425.4 580,425.1 578,425.1 578,428.6 578,428.6 578,425.5 576,425.5 576,430.4 576,430.4 576,424.7 574,424.7 574,429.1 574,429.1 574,423.9 572,423.9 572,425.4 572,425.4 572,429.3 570,429.3 570,423.3 570,423.3 570,429.1 568,429.1 568,422.1 568,422.1 568,421.5 566,421.5"/></clipPath><linearGradient id="g0" x1="0" y1="300" x2="0" y2="480" gradientUnits="userSpaceOnUse"><stop offset="0.000" stop-color="#d9ebef"/><stop offset="0.044" stop-color="#d9ebef"/><stop offset="0.089" stop-color="#d9ebef"/><stop offset="0.133" stop-color="#d9ebef"/><stop offset="0.178" stop-color="#d9ebef"/><stop offset="0.222" stop-color="#d7eaf0"/><stop offset="0.267" stop-color="#d7eaf0"/><stop offset="0.311" stop-color="#d7eaf0"/><stop offset="0.356" stop-color="#d7eaf0"/><stop offset="0.400" stop-color="#d7eaf0"/><stop offset="0.444" stop-color="#b0d4e6"/><stop offset="0.489" stop-color="#b0d4e6"/><stop offset="0.533" stop-color="#81b1d6"/><stop offset="0.578" stop-color="#81b1d6"/><stop offset="0.622" stop-color="#81b1d6"/><stop offset="0.667" stop-color="#81b1d6"/><stop offset="0.711" stop-color="#81b1d6"/><stop offset="0.756" stop-color="#81b1d6"/><stop offset="0.800" stop-color="#81b1d6"/><stop offset="0.844" stop-color="#81b1d6"/><stop offset="0.889" stop-color="#81b1d6"/><stop offset="0.933" stop-color="#81b1d6"/><stop offset="0.978" stop-color="#81b1d6"/></linearGradient><linearGradient id="g1" x1="0" y1="300" x2="0" y2="480" gradientUnits="userSpaceOnUse"><stop offset="0.000" stop-color="#d9ebef"/><stop offset="0.044" stop-color="#d9ebef"/><stop offset="0.089" stop-color="#d9ebef"/><stop offset="0.133" stop-color="#d9ebef"/><stop offset="0.178" stop-color="#d9ebef"/><stop offset="0.222" stop-color="#d7eaf0"/><stop offset="0.267" stop-color="#d7eaf0"/><stop offset="0.311" stop-color="#d7eaf0"/><stop offset="0.356" stop-color="#d7eaf0"/><stop offset="0.400" stop-color="#d7eaf0"/><stop offset="0.444" stop-color="#b0d4e6"/><stop offset="0.489" stop-color="#b0d4e6"/><stop offset="0.533" stop-color="#b0d4e6"/><stop offset="0.578" stop-color="#81b1d6"/><stop offset="0.622" stop-color="#81b1d6"/><stop offset="0.667" stop-color="#81b1d6"/><stop offset="0.711" stop-color="#81b1d6"/><stop offset="0.756" stop-color="#81b1d6"/><stop offset="0.800" stop-color="#81b1d6"/><stop offset="0.844" stop-color="#81b1d6"/><stop offset="0.889" stop-color="#81b1d6"/><stop offset="0.933" stop-color="#81b1d6"/><stop offset="0.978" stop-color="#81b1d6"/></linearGradient><linearGradient id="g2" x1="0" y1="300" x2="0" y2="480" gradientUnits="userSpaceOnUse"><stop offset="0.000" stop-color="#d9ebef"/><stop offset="0.044" stop-color="#d9ebef"/><stop offset="0.089" stop-color="#d9ebef"/><stop offset="0.133" stop-color="#d9ebef"/><stop offset="0.178" stop-color="#d9ebef"/><stop offset="0.222" stop-color="#d9ebef"/><stop offset="0.267" stop-color="#d7eaf0"/><stop offset="0.311" stop-color="#d7eaf0"/><stop offset="0.356" stop-color="#d7eaf0"/><stop offset="0.400" stop-color="#d7eaf0"/><stop offset="0.444" stop-color="#b0d4e6"/><stop offset="0.489" stop-color="#b0d4e6"/><stop offset="0.533" stop-color="#b0d4e6"/><stop offset="0.578" stop-color="#81b1d6"/><stop offset="0.622" stop-color="#8cbada"/><stop offset="0.667" stop-color="#82b2d6"/><stop offset="0.711" stop-color="#81b1d6"/><stop offset="0.756" stop-color="#81b1d6"/><stop offset="0.800" stop-color="#81b1d6"/><stop offset="0.844" stop-color="#81b1d6"/><stop offset="0.889" stop-color="#81b1d6"/><stop offset="0.933" stop-color="#81b1d6"/><stop offset="0.978" stop-color="#81b1d6"/></linearGradient><linearGradient id="g3" x1="0" y1="300" x2="0" y2="480" gradientUnits="userSpaceOnUse"><stop offset="0.000" stop-color="#d9ebef"/><stop offset="0.044" stop-color="#d9ebef"/><stop offset="0.089" stop-color="#d9ebef"/><stop offset="0.133" stop-color="#d9ebef"/><stop offset="0.178" stop-color="#d9ebef"/><stop offset="0.222" stop-color="#d9ebef"/><stop offset="0.267" stop-color="#d7eaf0"/><stop offset="0.311" stop-color="#d7eaf0"/><stop offset="0.356" stop-color="#d7eaf0"/><stop offset="0.400" stop-color="#d7eaf0"/><stop offset="0.444" stop-color="#b0d4e6"/><stop offset="0.489" stop-color="#b0d4e6"/><stop offset="0.533" stop-color="#b0d4e6"/><stop offset="0.578" stop-color="#97c3de"/><stop offset="0.622" stop-color="#8bbada"/><stop offset="0.667" stop-color="#83b3d6"/><stop offset="0.711" stop-color="#81b1d6"/><stop offset="0.756" stop-color="#81b1d6"/><stop offset="0.800" stop-color="#81b1d6"/><stop offset="0.844" stop-color="#81b1d6"/><stop offset="0.889" stop-color="#81b1d6"/><stop offset="0.933" stop-color="#81b1d6"/><stop offset="0.978" stop-color="#81b1d6"/></linearGradient><linearGradient id="g4" x1="0" y1="300" x2="0" y2="480" gradientUnits="userSpaceOnUse"><stop offset="0.000" stop-color="#d9ebef"/><stop offset="0.044" stop-color="#d9ebef"/><stop offset="0.089" stop-color="#d9ebef"/><stop offset="0.133" stop-color="#d9ebef"/><stop offset="0.178" stop-color="#d9ebef"/><stop offset="0.222" stop-color="#d9ebef"/><stop offset="0.267" stop-color="#d9ebef"/><stop offset="0.311" stop-color="#d7eaf0"/><stop offset="0.356" stop-color="#d7eaf0"/><stop offset="0.400" stop-color="#d7eaf0"/><stop offset="0.444" stop-color="#b0d4e6"/><stop offset="0.489" stop-color="#b2d5e6"/><stop offset="0.533" stop-color="#a3cbe2"/><stop offset="0.578" stop-color="#96c2de"/><stop offset="0.622" stop-color="#8bbada"/><stop offset="0.667" stop-color="#83b3d7"/><stop offset="0.711" stop-color="#81b1d6"/><stop offset="0.756" stop-color="#81b1d6"/><stop offset="0.800" stop-color="#81b1d6"/><stop offset="0.844" stop-color="#81b1d6"/><stop offset="0.889" stop-color="#81b1d6"/><stop offset="0.933" stop-color="#81b1d6"/><stop offset="0.978" stop-color="#81b1d6"/></linearGradient><linearGradient id="g5" x1="0" y1="300" x2="0" y2="480" gradientUnits="userSpaceOnUse"><stop offset="0.000" stop-color="#dfeeee"/><stop offset="0.044" stop-color="#d9ebef"/><stop offset="0.089" stop-color="#d9ebef"/><stop offset="0.133" stop-color="#d9ebef"/><stop offset="0.178" stop-color="#d9ebef"/><stop offset="0.222" stop-color="#d9ebef"/><stop offset="0.267" stop-color="#d9ebef"/><stop offset="0.311" stop-color="#d7eaf0"/><stop offset="0.356" stop-color="#d7eaf0"/><stop offset="0.400" stop-color="#d7eaf0"/><stop offset="0.444" stop-color="#bfddeb"/><stop offset="0.489" stop-color="#afd3e6"/><stop offset="0.533" stop-color="#a2cae1"/><stop offset="0.578" stop-color="#96c2de"/><stop offset="0.622" stop-color="#8bbada"/><stop offset="0.667" stop-color="#84b4d7"/><stop offset="0.711" stop-color="#81b1d6"/><stop offset="0.756" stop-color="#81b1d6"/><stop offset="0.800" stop-color="#81b1d6"/><stop offset="0.844" stop-color="#81b1d6"/><stop offset="0.889" stop-color="#81b1d6"/><stop offset="0.933" stop-color="#81b1d6"/><stop offset="0.978" stop-color="#81b1d6"/></linearGradient><linearGradient id="g6" x1="0" y1="300" x2="0" y2="480" gradientUnits="userSpaceOnUse"><stop offset="0.000" stop-color="#dfeeee"/><stop offset="0.044" stop-color="#dfeeee"/><stop offset="0.089" stop-color="#d9ebef"/><stop offset="0.133" stop-color="#d9ebef"/><stop offset="0.178" stop-color="#d9ebef"/><stop offset="0.222" stop-color="#d9ebef"/><stop offset="0.267" stop-color="#d9ebef"/><stop offset="0.311" stop-color="#d7eaf0"/><stop offset="0.356" stop-color="#d7eaf0"/><stop offset="0.400" stop-color="#cde5ef"/><stop offset="0.444" stop-color="#bcdbea"/><stop offset="0.489" stop-color="#add2e5"/><stop offset="0.533" stop-color="#a1cae1"/><stop offset="0.578" stop-color="#96c2de"/><stop offset="0.622" stop-color="#8bbada"/><stop offset="0.667" stop-color="#85b5d7"/><stop offset="0.711" stop-color="#81b1d6"/><stop offset="0.756" stop-color="#81b1d6"/><stop offset="0.800" stop-color="#81b1d6"/><stop offset="0.844" stop-color="#81b1d6"/><stop offset="0.889" stop-color="#81b1d6"/><stop offset="0.933" stop-color="#81b1d6"/><stop offset="0.978" stop-color="#81b1d6"/></linearGradient><linearGradient id="g7" x1="0" y1="300" x2="0" y2="480" gradientUnits="userSpaceOnUse"><stop offset="0.000" stop-color="#dfeeee"/><stop offset="0.044" stop-color="#dfeeee"/><stop offset="0.089" stop-color="#dfeeee"/><stop offset="0.133" stop-color="#d9ebef"/><stop offset="0.178" stop-color="#d9ebef"/><stop offset="0.222" stop-color="#d9ebef"/><stop offset="0.267" stop-color="#d9ebef"/><stop offset="0.311" stop-color="#d9ebef"/><stop offset="0.356" stop-color="#d7ebf0"/><stop offset="0.400" stop-color="#cce4ef"/><stop offset="0.444" stop-color="#bcdbea"/><stop offset="0.489" stop-color="#aed2e5"/><stop offset="0.533" stop-color="#a2cae2"/><stop offset="0.578" stop-color="#96c2de"/><stop offset="0.622" stop-color="#8cbada"/><stop offset="0.667" stop-color="#85b5d7"/><stop offset="0.711" stop-color="#81b1d6"/><stop offset="0.756" stop-color="#81b1d6"/><stop offset="0.800" stop-color="#81b1d6"/><stop offset="0.844" stop-color="#81b1d6"/><stop offset="0.889" stop-color="#81b1d6"/><stop offset="0.933" stop-color="#81b1d6"/><stop offset="0.978" stop-color="#81b1d6"/></linearGradient><linearGradient id="g8" x1="0" y1="300" x2="0" y2="480" gradientUnits="userSpaceOnUse"><stop offset="0.000" stop-color="#dfeeee"/><stop offset="0.044" stop-color="#dfeeee"/><stop offset="0.089" stop-color="#dfeeee"/><stop offset="0.133" stop-color="#dfeeee"/><stop offset="0.178" stop-color="#d9ebef"/><stop offset="0.222" stop-color="#d9ebef"/><stop offset="0.267" stop-color="#d9ebef"/><stop offset="0.311" stop-color="#d9ebef"/><stop offset="0.356" stop-color="#d8ebf0"/><stop offset="0.400" stop-color="#cce4ef"/><stop offset="0.444" stop-color="#bcdbea"/><stop offset="0.489" stop-color="#aed3e5"/><stop offset="0.533" stop-color="#a3cbe2"/><stop offset="0.578" stop-color="#97c3de"/><stop offset="0.622" stop-color="#8cbbda"/><stop offset="0.667" stop-color="#86b5d8"/><stop offset="0.711" stop-color="#81b1d6"/><stop offset="0.756" stop-color="#81b1d6"/><stop offset="0.800" stop-color="#81b1d6"/><stop offset="0.844" stop-color="#81b1d6"/><stop offset="0.889" stop-color="#81b1d6"/><stop offset="0.933" stop-color="#81b1d6"/><stop offset="0.978" stop-color="#81b1d6"/></linearGradient><linearGradient id="g9" x1="0" y1="300" x2="0" y2="480" gradientUnits="userSpaceOnUse"><stop offset="0.000" stop-color="#dfeeee"/><stop offset="0.044" stop-color="#dfeeee"/><stop offset="0.089" stop-color="#dfeeee"/><stop offset="0.133" stop-color="#dfeeee"/><stop offset="0.178" stop-color="#dfeeee"/><stop offset="0.222" stop-color="#d9ebef"/><stop offset="0.267" stop-color="#d9ebef"/><stop offset="0.311" stop-color="#d9ebef"/><stop offset="0.356" stop-color="#d8ebf0"/><stop offset="0.400" stop-color="#cce4ee"/><stop offset="0.444" stop-color="#bcdbea"/><stop offset="0.489" stop-color="#afd3e6"/><stop offset="0.533" stop-color="#a3cbe2"/><stop offset="0.578" stop-color="#97c3de"/><stop offset="0.622" stop-color="#8cbbda"/><stop offset="0.667" stop-color="#86b5d8"/><stop offset="0.711" stop-color="#81b1d6"/><stop offset="0.756" stop-color="#81b1d6"/><stop offset="0.800" stop-color="#81b1d6"/><stop offset="0.844" stop-color="#81b1d6"/><stop offset="0.889" stop-color="#81b1d6"/><stop offset="0.933" stop-color="#81b1d6"/><stop offset="0.978" stop-color="#81b1d6"/></linearGradient><linearGradient id="g10" x1="0" y1="300" x2="0" y2="480" gradientUnits="userSpaceOnUse"><stop offset="0.000" stop-color="#e6efe7"/><stop offset="0.044" stop-color="#dfeeee"/><stop offset="0.089" stop-color="#dfeeee"/><stop offset="0.133" stop-color="#dfeeee"/><stop offset="0.178" stop-color="#dfeeee"/><stop offset="0.222" stop-color="#dfeeee"/><stop offset="0.267" stop-color="#d9ebef"/><stop offset="0.311" stop-color="#daecef"/><stop offset="0.356" stop-color="#d8ebf0"/><stop offset="0.400" stop-color="#cbe4ee"/><stop offset="0.444" stop-color="#bddcea"/><stop offset="0.489" stop-color="#afd4e6"/><stop offset="0.533" stop-color="#a4cbe2"/><stop offset="0.578" stop-color="#98c4df"/><stop offset="0.622" stop-color="#8dbbdb"/><stop offset="0.667" stop-color="#86b6d8"/><stop offset="0.711" stop-color="#81b1d6"/><stop offset="0.756" stop-color="#81b1d6"/><stop offset="0.800" stop-color="#81b1d6"/><stop offset="0.844" stop-color="#81b1d6"/><stop offset="0.889" stop-color="#81b1d6"/><stop offset="0.933" stop-color="#81b1d6"/><stop offset="0.978" stop-color="#81b1d6"/></linearGradient><linearGradient id="g11" x1="0" y1="300" x2="0" y2="480" gradientUnits="userSpaceOnUse"><stop offset="0.000" stop-color="#e6efe7"/><stop offset="0.044" stop-color="#dfeeee"/><stop offset="0.089" stop-color="#dfeeee"/><stop offset="0.133" stop-color="#dfeeee"/><stop offset="0.178" stop-color="#dfeeee"/><stop offset="0.222" stop-color="#dfeeee"/><stop offset="0.267" stop-color="#dfeeee"/><stop offset="0.311" stop-color="#dbecef"/><stop offset="0.356" stop-color="#d8ebf0"/><stop offset="0.400" stop-color="#cbe4ee"/><stop offset="0.444" stop-color="#bedcea"/><stop offset="0.489" stop-color="#b0d4e6"/><stop offset="0.533" stop-color="#a4cce2"/><stop offset="0.578" stop-color="#99c4df"/><stop offset="0.622" stop-color="#8dbbdb"/><stop offset="0.667" stop-color="#87b6d8"/><stop offset="0.711" stop-color="#82b2d6"/><stop offset="0.756" stop-color="#81b1d6"/><stop offset="0.800" stop-color="#81b1d6"/><stop offset="0.844" stop-color="#81b1d6"/><stop offset="0.889" stop-color="#81b1d6"/><stop offset="0.933" stop-color="#81b1d6"/><stop offset="0.978" stop-color="#81b1d6"/></linearGradient><linearGradient id="g12" x1="0" y1="300" x2="0" y2="480" gradientUnits="userSpaceOnUse"><stop offset="0.000" stop-color="#e6efe7"/><stop offset="0.044" stop-color="#e6efe7"/><stop offset="0.089" stop-color="#dfeeee"/><stop offset="0.133" stop-color="#dfeeee"/><stop offset="0.178" stop-color="#dfeeee"/><stop offset="0.222" stop-color="#dfeeee"/><stop offset="0.267" stop-color="#ddedee"/><stop offset="0.311" stop-color="#dbecef"/><stop offset="0.356" stop-color="#d8ebf0"/><stop offset="0.400" stop-color="#cce4ef"/><stop offset="0.444" stop-color="#bedcea"/><stop offset="0.489" stop-color="#b1d4e6"/><stop offset="0.533" stop-color="#a5cce2"/><stop offset="0.578" stop-color="#99c4df"/><stop offset="0.622" stop-color="#8dbcdb"/><stop offset="0.667" stop-color="#87b7d8"/><stop offset="0.711" stop-color="#82b2d6"/><stop offset="0.756" stop-color="#81b1d6"/><stop offset="0.800" stop-color="#87b6d8"/><stop offset="0.844" stop-color="#87b6d8"/><stop offset="0.889" stop-color="#87b6d8"/><stop offset="0.933" stop-color="#87b6d8"/><stop offset="0.978" stop-color="#87b6d8"/></linearGradient><linearGradient id="g13" x1="0" y1="300" x2="0" y2="480" gradientUnits="userSpaceOnUse"><stop offset="0.000" stop-color="#e6efe7"/><stop offset="0.044" stop-color="#e6efe7"/><stop offset="0.089" stop-color="#e6efe7"/><stop offset="0.133" stop-color="#dfeeee"/><stop offset="0.178" stop-color="#dfeeee"/><stop offset="0.222" stop-color="#dfeeee"/><stop offset="0.267" stop-color="#deedee"/><stop offset="0.311" stop-color="#dcecef"/><stop offset="0.356" stop-color="#d8ebf0"/><stop offset="0.400" stop-color="#cde5ef"/><stop offset="0.444" stop-color="#bfddeb"/><stop offset="0.489" stop-color="#b1d5e6"/><stop offset="0.533" stop-color="#a5cde3"/><stop offset="0.578" stop-color="#99c4df"/><stop offset="0.622" stop-color="#8ebcdb"/><stop offset="0.667" stop-color="#88b7d9"/><stop offset="0.711" stop-color="#83b3d6"/><stop offset="0.756" stop-color="#87b6d8"/><stop offset="0.800" stop-color="#87b6d8"/><stop offset="0.844" stop-color="#87b6d8"/><stop offset="0.889" stop-color="#87b6d8"/><stop offset="0.933" stop-color="#87b6d8"/><stop offset="0.978" stop-color="#87b6d8"/></linearGradient><linearGradient id="g14" x1="0" y1="300" x2="0" y2="480" gradientUnits="userSpaceOnUse"><stop offset="0.000" stop-color="#e6efe7"/><stop offset="0.044" stop-color="#e6efe7"/><stop offset="0.089" stop-color="#e6efe7"/><stop offset="0.133" stop-color="#e6efe7"/><stop offset="0.178" stop-color="#dfeeee"/><stop offset="0.222" stop-color="#dfeeee"/><stop offset="0.267" stop-color="#dfeeee"/><stop offset="0.311" stop-color="#dcedee"/><stop offset="0.356" stop-color="#d8ebf0"/><stop offset="0.400" stop-color="#cde5ef"/><stop offset="0.444" stop-color="#c0ddeb"/><stop offset="0.489" stop-color="#b2d5e7"/><stop offset="0.533" stop-color="#a6cde3"/><stop offset="0.578" stop-color="#9ac5df"/><stop offset="0.622" stop-color="#8ebcdb"/><stop offset="0.667" stop-color="#88b8d9"/><stop offset="0.711" stop-color="#84b3d7"/><stop offset="0.756" stop-color="#87b6d8"/><stop offset="0.800" stop-color="#87b6d8"/><stop offset="0.844" stop-color="#87b6d8"/><stop offset="0.889" stop-color="#87b6d8"/><stop offset="0.933" stop-color="#87b6d8"/><stop offset="0.978" stop-color="#87b6d8"/></linearGradient><linearGradient id="g15" x1="0" y1="300" x2="0" y2="480" gradientUnits="userSpaceOnUse"><stop offset="0.000" stop-color="#e6efe7"/><stop offset="0.044" stop-color="#e6efe7"/><stop offset="0.089" stop-color="#e6efe7"/><stop offset="0.133" stop-color="#e6efe7"/><stop offset="0.178" stop-color="#e6efe7"/><stop offset="0.222" stop-color="#dfeeee"/><stop offset="0.267" stop-color="#e2efed"/><stop offset="0.311" stop-color="#dfeeee"/><stop offset="0.356" stop-color="#d8ebf0"/><stop offset="0.400" stop-color="#cee5ef"/><stop offset="0.444" stop-color="#c0ddeb"/><stop offset="0.489" stop-color="#b2d5e7"/><stop offset="0.533" stop-color="#a6cde3"/><stop offset="0.578" stop-color="#9ac5df"/><stop offset="0.622" stop-color="#8ebcdb"/><stop offset="0.667" stop-color="#89b8d9"/><stop offset="0.711" stop-color="#84b4d7"/><stop offset="0.756" stop-color="#87b6d8"/><stop offset="0.800" stop-color="#87b6d8"/><stop offset="0.844" stop-color="#87b6d8"/><stop offset="0.889" stop-color="#87b6d8"/><stop offset="0.933" stop-color="#87b6d8"/><stop offset="0.978" stop-color="#87b6d8"/></linearGradient><linearGradient id="g16" x1="0" y1="300" x2="0" y2="480" gradientUnits="userSpaceOnUse"><stop offset="0.000" stop-color="#e6efe7"/><stop offset="0.044" stop-color="#e6efe7"/><stop offset="0.089" stop-color="#e6efe7"/><stop offset="0.133" stop-color="#e6efe7"/><stop offset="0.178" stop-color="#e6efe7"/><stop offset="0.222" stop-color="#e3f0ec"/><stop offset="0.267" stop-color="#e5f0ea"/><stop offset="0.311" stop-color="#e2efed"/><stop offset="0.356" stop-color="#d9ebef"/><stop offset="0.400" stop-color="#cfe6ef"/><stop offset="0.444" stop-color="#c1deeb"/><stop offset="0.489" stop-color="#b3d6e7"/><stop offset="0.533" stop-color="#a7cee3"/><stop offset="0.578" stop-color="#9ac5df"/><stop offset="0.622" stop-color="#8ebddb"/><stop offset="0.667" stop-color="#8ab9d9"/><stop offset="0.711" stop-color="#85b5d7"/><stop offset="0.756" stop-color="#87b6d8"/><stop offset="0.800" stop-color="#87b6d8"/><stop offset="0.844" stop-color="#87b6d8"/><stop offset="0.889" stop-color="#87b6d8"/><stop offset="0.933" stop-color="#87b6d8"/><stop offset="0.978" stop-color="#87b6d8"/></linearGradient><linearGradient id="g17" x1="0" y1="300" x2="0" y2="480" gradientUnits="userSpaceOnUse"><stop offset="0.000" stop-color="#e6efe7"/><stop offset="0.044" stop-color="#e6efe7"/><stop offset="0.089" stop-color="#e6efe7"/><stop offset="0.133" stop-color="#e6efe7"/><stop offset="0.178" stop-color="#e6efe7"/><stop offset="0.222" stop-color="#e5efe9"/><stop offset="0.267" stop-color="#e7eee4"/><stop offset="0.311" stop-color="#e4f0ec"/><stop offset="0.356" stop-color="#dbecef"/><stop offset="0.400" stop-color="#d0e6f0"/><stop offset="0.444" stop-color="#c2deeb"/><stop offset="0.489" stop-color="#b4d6e7"/><stop offset="0.533" stop-color="#a7cee3"/><stop offset="0.578" stop-color="#9bc5df"/><stop offset="0.622" stop-color="#8fbddb"/><stop offset="0.667" stop-color="#8ab9da"/><stop offset="0.711" stop-color="#86b5d8"/><stop offset="0.756" stop-color="#87b6d8"/><stop offset="0.800" stop-color="#87b6d8"/><stop offset="0.844" stop-color="#87b6d8"/><stop offset="0.889" stop-color="#87b6d8"/><stop offset="0.933" stop-color="#87b6d8"/><stop offset="0.978" stop-color="#87b6d8"/></linearGradient><linearGradient id="g18" x1="0" y1="300" x2="0" y2="480" gradientUnits="userSpaceOnUse"><stop offset="0.000" stop-color="#e6efe7"/><stop offset="0.044" stop-color="#e6efe7"/><stop offset="0.089" stop-color="#e6efe7"/><stop offset="0.133" stop-color="#e6efe7"/><stop offset="0.178" stop-color="#e6efe7"/><stop offset="0.222" stop-color="#e7eee4"/><stop offset="0.267" stop-color="#e9ede0"/><stop offset="0.311" stop-color="#e5f0ea"/><stop offset="0.356" stop-color="#ddedee"/><stop offset="0.400" stop-color="#d3e8f1"/><stop offset="0.444" stop-color="#c2dfec"/><stop offset="0.489" stop-color="#b4d7e7"/><stop offset="0.533" stop-color="#a8cee3"/><stop offset="0.578" stop-color="#9bc6df"/><stop offset="0.622" stop-color="#8fbddc"/><stop offset="0.667" stop-color="#8bbada"/><stop offset="0.711" stop-color="#86b6d8"/><stop offset="0.756" stop-color="#7eafd4"/><stop offset="0.800" stop-color="#87b6d8"/><stop offset="0.844" stop-color="#87b6d8"/><stop offset="0.889" stop-color="#87b6d8"/><stop offset="0.933" stop-color="#87b6d8"/><stop offset="0.978" stop-color="#87b6d8"/></linearGradient><linearGradient id="g19" x1="0" y1="300" x2="0" y2="480" gradientUnits="userSpaceOnUse"><stop offset="0.000" stop-color="#e6efe7"/><stop offset="0.044" stop-color="#e6efe7"/><stop offset="0.089" stop-color="#e6efe7"/><stop offset="0.133" stop-color="#e6efe7"/><stop offset="0.178" stop-color="#e7efe6"/><stop offset="0.222" stop-color="#e8eee1"/><stop offset="0.267" stop-color="#eaeddd"/><stop offset="0.311" stop-color="#e6efe6"/><stop offset="0.356" stop-color="#dfeeee"/><stop offset="0.400" stop-color="#d5eaf1"/><stop offset="0.444" stop-color="#c4e0ec"/><stop offset="0.489" stop-color="#b6d8e8"/><stop offset="0.533" stop-color="#a9cfe4"/><stop offset="0.578" stop-color="#9cc6e0"/><stop offset="0.622" stop-color="#91bfdc"/><stop offset="0.667" stop-color="#8cbbda"/><stop offset="0.711" stop-color="#88b7d8"/><stop offset="0.756" stop-color="#7fafd5"/><stop offset="0.800" stop-color="#87b6d8"/><stop offset="0.844" stop-color="#87b6d8"/><stop offset="0.889" stop-color="#87b6d8"/><stop offset="0.933" stop-color="#87b6d8"/><stop offset="0.978" stop-color="#87b6d8"/></linearGradient><linearGradient id="g20" x1="0" y1="300" x2="0" y2="480" gradientUnits="userSpaceOnUse"><stop offset="0.000" stop-color="#e6efe7"/><stop offset="0.044" stop-color="#e6efe7"/><stop offset="0.089" stop-color="#e6efe7"/><stop offset="0.133" stop-color="#e6efe7"/><stop offset="0.178" stop-color="#e7eee4"/><stop offset="0.222" stop-color="#e9ede0"/><stop offset="0.267" stop-color="#ebeddb"/><stop offset="0.311" stop-color="#e8eee3"/><stop offset="0.356" stop-color="#e1efed"/><stop offset="0.400" stop-color="#d7eaf0"/><stop offset="0.444" stop-color="#c7e2ed"/><stop offset="0.489" stop-color="#b9d9e9"/><stop offset="0.533" stop-color="#abd1e4"/><stop offset="0.578" stop-color="#9ec8e0"/><stop offset="0.622" stop-color="#94c1dd"/><stop offset="0.667" stop-color="#8fbddc"/><stop offset="0.711" stop-color="#8ab9d9"/><stop offset="0.756" stop-color="#80b0d5"/><stop offset="0.800" stop-color="#87b6d8"/><stop offset="0.844" stop-color="#87b6d8"/><stop offset="0.889" stop-color="#87b6d8"/><stop offset="0.933" stop-color="#87b6d8"/><stop offset="0.978" stop-color="#87b6d8"/></linearGradient><linearGradient id="g21" x1="0" y1="300" x2="0" y2="480" gradientUnits="userSpaceOnUse"><stop offset="0.000" stop-color="#e6efe7"/><stop offset="0.044" stop-color="#e6efe7"/><stop offset="0.089" stop-color="#e6efe7"/><stop offset="0.133" stop-color="#e6efe7"/><stop offset="0.178" stop-color="#e8eee3"/><stop offset="0.222" stop-color="#eaedde"/><stop offset="0.267" stop-color="#ececda"/><stop offset="0.311" stop-color="#e9eddf"/><stop offset="0.356" stop-color="#e3efec"/><stop offset="0.400" stop-color="#d8ebf0"/><stop offset="0.444" stop-color="#cae3ee"/><stop offset="0.489" stop-color="#bcdbea"/><stop offset="0.533" stop-color="#add2e5"/><stop offset="0.578" stop-color="#a0c9e1"/><stop offset="0.622" stop-color="#97c3de"/><stop offset="0.667" stop-color="#92bfdd"/><stop offset="0.711" stop-color="#8cbada"/><stop offset="0.756" stop-color="#80b1d5"/><stop offset="0.800" stop-color="#87b6d8"/><stop offset="0.844" stop-color="#87b6d8"/><stop offset="0.889" stop-color="#87b6d8"/><stop offset="0.933" stop-color="#87b6d8"/><stop offset="0.978" stop-color="#87b6d8"/></linearGradient><linearGradient id="g22" x1="0" y1="300" x2="0" y2="480" gradientUnits="userSpaceOnUse"><stop offset="0.000" stop-color="#e6efe7"/><stop offset="0.044" stop-color="#e6efe7"/><stop offset="0.089" stop-color="#e6efe7"/><stop offset="0.133" stop-color="#e6efe7"/><stop offset="0.178" stop-color="#e9eee1"/><stop offset="0.222" stop-color="#eaeddc"/><stop offset="0.267" stop-color="#ececd8"/><stop offset="0.311" stop-color="#ebecdb"/><stop offset="0.356" stop-color="#e4f0eb"/><stop offset="0.400" stop-color="#daecef"/><stop offset="0.444" stop-color="#cde5ef"/><stop offset="0.489" stop-color="#bfddeb"/><stop offset="0.533" stop-color="#afd4e6"/><stop offset="0.578" stop-color="#a2cbe2"/><stop offset="0.622" stop-color="#9ac5df"/><stop offset="0.667" stop-color="#95c1de"/><stop offset="0.711" stop-color="#8ebcdb"/><stop offset="0.756" stop-color="#81b1d6"/><stop offset="0.800" stop-color="#96c2de"/><stop offset="0.844" stop-color="#96c2de"/><stop offset="0.889" stop-color="#87b6d8"/><stop offset="0.933" stop-color="#90bedc"/><stop offset="0.978" stop-color="#90bedc"/></linearGradient><linearGradient id="g23" x1="0" y1="300" x2="0" y2="480" gradientUnits="userSpaceOnUse"><stop offset="0.000" stop-color="#e6efe7"/><stop offset="0.044" stop-color="#e6efe7"/><stop offset="0.089" stop-color="#e6efe7"/><stop offset="0.133" stop-color="#e6efe7"/><stop offset="0.178" stop-color="#e9eddf"/><stop offset="0.222" stop-color="#ebecdb"/><stop offset="0.267" stop-color="#edecd7"/><stop offset="0.311" stop-color="#edecd7"/><stop offset="0.356" stop-color="#e6efe7"/><stop offset="0.400" stop-color="#dcecef"/><stop offset="0.444" stop-color="#d0e7f0"/><stop offset="0.489" stop-color="#c2dfec"/><stop offset="0.533" stop-color="#b2d5e7"/><stop offset="0.578" stop-color="#a5cce2"/><stop offset="0.622" stop-color="#9dc7e0"/><stop offset="0.667" stop-color="#98c4df"/><stop offset="0.711" stop-color="#90bedc"/><stop offset="0.756" stop-color="#82b2d6"/><stop offset="0.800" stop-color="#96c2de"/><stop offset="0.844" stop-color="#96c2de"/><stop offset="0.889" stop-color="#90bedc"/><stop offset="0.933" stop-color="#90bedc"/><stop offset="0.978" stop-color="#90bedc"/></linearGradient><linearGradient id="g24" x1="0" y1="300" x2="0" y2="480" gradientUnits="userSpaceOnUse"><stop offset="0.000" stop-color="#edecd7"/><stop offset="0.044" stop-color="#edecd7"/><stop offset="0.089" stop-color="#edecd7"/><stop offset="0.133" stop-color="#edecd7"/><stop offset="0.178" stop-color="#eaeddd"/><stop offset="0.222" stop-color="#ececd9"/><stop offset="0.267" stop-color="#edebd6"/><stop offset="0.311" stop-color="#eeebd3"/><stop offset="0.356" stop-color="#e7eee4"/><stop offset="0.400" stop-color="#deedee"/><stop offset="0.444" stop-color="#d3e8f1"/><stop offset="0.489" stop-color="#c5e0ec"/><stop offset="0.533" stop-color="#b4d7e7"/><stop offset="0.578" stop-color="#a7cee3"/><stop offset="0.622" stop-color="#a0c9e1"/><stop offset="0.667" stop-color="#9bc6e0"/><stop offset="0.711" stop-color="#92bfdd"/><stop offset="0.756" stop-color="#83b2d6"/><stop offset="0.800" stop-color="#96c2de"/><stop offset="0.844" stop-color="#90bedc"/><stop offset="0.889" stop-color="#90bedc"/><stop offset="0.933" stop-color="#90bedc"/><stop offset="0.978" stop-color="#90bedc"/></linearGradient><linearGradient id="g25" x1="0" y1="300" x2="0" y2="480" gradientUnits="userSpaceOnUse"><stop offset="0.000" stop-color="#edecd7"/><stop offset="0.044" stop-color="#edecd7"/><stop offset="0.089" stop-color="#edecd7"/><stop offset="0.133" stop-color="#edecd7"/><stop offset="0.178" stop-color="#ebeddc"/><stop offset="0.222" stop-color="#ececd8"/><stop offset="0.267" stop-color="#eeebd4"/><stop offset="0.311" stop-color="#efead1"/><stop offset="0.356" stop-color="#e9eee0"/><stop offset="0.400" stop-color="#dfeeed"/><stop offset="0.444" stop-color="#d5e9f1"/><stop offset="0.489" stop-color="#c7e1ed"/><stop offset="0.533" stop-color="#b7d8e8"/><stop offset="0.578" stop-color="#a9cfe4"/><stop offset="0.622" stop-color="#a4cbe2"/><stop offset="0.667" stop-color="#9dc7e0"/><stop offset="0.711" stop-color="#94c1dd"/><stop offset="0.756" stop-color="#84b4d7"/><stop offset="0.800" stop-color="#90bedc"/><stop offset="0.844" stop-color="#90bedc"/><stop offset="0.889" stop-color="#90bedc"/><stop offset="0.933" stop-color="#90bedc"/><stop offset="0.978" stop-color="#90bedc"/></linearGradient><linearGradient id="g26" x1="0" y1="300" x2="0" y2="480" gradientUnits="userSpaceOnUse"><stop offset="0.000" stop-color="#edecd7"/><stop offset="0.044" stop-color="#edecd7"/><stop offset="0.089" stop-color="#edecd7"/><stop offset="0.133" stop-color="#edecd7"/><stop offset="0.178" stop-color="#ebecda"/><stop offset="0.222" stop-color="#edecd6"/><stop offset="0.267" stop-color="#eeebd3"/><stop offset="0.311" stop-color="#f0eacf"/><stop offset="0.356" stop-color="#eaeddd"/><stop offset="0.400" stop-color="#e1efed"/><stop offset="0.444" stop-color="#d7eaf0"/><stop offset="0.489" stop-color="#cae3ee"/><stop offset="0.533" stop-color="#b9d9e9"/><stop offset="0.578" stop-color="#acd1e5"/><stop offset="0.622" stop-color="#a7cee3"/><stop offset="0.667" stop-color="#9ec8e0"/><stop offset="0.711" stop-color="#95c2de"/><stop offset="0.756" stop-color="#87b6d8"/><stop offset="0.800" stop-color="#90bedc"/><stop offset="0.844" stop-color="#90bedc"/><stop offset="0.889" stop-color="#90bedc"/><stop offset="0.933" stop-color="#90bedc"/><stop offset="0.978" stop-color="#90bedc"/></linearGradient><linearGradient id="g27" x1="0" y1="300" x2="0" y2="480" gradientUnits="userSpaceOnUse"><stop offset="0.000" stop-color="#edecd7"/><stop offset="0.044" stop-color="#edecd7"/><stop offset="0.089" stop-color="#edecd7"/><stop offset="0.133" stop-color="#edecd7"/><stop offset="0.178" stop-color="#ececd8"/><stop offset="0.222" stop-color="#eeebd5"/><stop offset="0.267" stop-color="#efebd1"/><stop offset="0.311" stop-color="#f0eace"/><stop offset="0.356" stop-color="#ececda"/><stop offset="0.400" stop-color="#e3efec"/><stop offset="0.444" stop-color="#d8ebf0"/><stop offset="0.489" stop-color="#cce4ef"/><stop offset="0.533" stop-color="#bcdbea"/><stop offset="0.578" stop-color="#afd3e6"/><stop offset="0.622" stop-color="#a8cee4"/><stop offset="0.667" stop-color="#9fc9e1"/><stop offset="0.711" stop-color="#96c2de"/><stop offset="0.756" stop-color="#8ab9d9"/><stop offset="0.800" stop-color="#7dadd4"/><stop offset="0.844" stop-color="#90bedc"/><stop offset="0.889" stop-color="#90bedc"/><stop offset="0.933" stop-color="#90bedc"/><stop offset="0.978" stop-color="#90bedc"/></linearGradient><linearGradient id="g28" x1="0" y1="300" x2="0" y2="480" gradientUnits="userSpaceOnUse"><stop offset="0.000" stop-color="#edecd7"/><stop offset="0.044" stop-color="#edecd7"/><stop offset="0.089" stop-color="#edecd7"/><stop offset="0.133" stop-color="#edecd7"/><stop offset="0.178" stop-color="#edecd7"/><stop offset="0.222" stop-color="#eeebd3"/><stop offset="0.267" stop-color="#f0ead0"/><stop offset="0.311" stop-color="#f1eacc"/><stop offset="0.356" stop-color="#edecd6"/><stop offset="0.400" stop-color="#e4f0eb"/><stop offset="0.444" stop-color="#daecef"/><stop offset="0.489" stop-color="#cee6ef"/><stop offset="0.533" stop-color="#bedcea"/><stop offset="0.578" stop-color="#b2d5e7"/><stop offset="0.622" stop-color="#a9cfe4"/><stop offset="0.667" stop-color="#a1c9e1"/><stop offset="0.711" stop-color="#97c3de"/><stop offset="0.756" stop-color="#8cbbda"/><stop offset="0.800" stop-color="#7daed4"/><stop offset="0.844" stop-color="#90bedc"/><stop offset="0.889" stop-color="#90bedc"/><stop offset="0.933" stop-color="#90bedc"/><stop offset="0.978" stop-color="#90bedc"/></linearGradient><linearGradient id="g29" x1="0" y1="300" x2="0" y2="480" gradientUnits="userSpaceOnUse"><stop offset="0.000" stop-color="#edecd7"/><stop offset="0.044" stop-color="#edecd7"/><stop offset="0.089" stop-color="#edecd7"/><stop offset="0.133" stop-color="#ebeddb"/><stop offset="0.178" stop-color="#edebd6"/><stop offset="0.222" stop-color="#efebd2"/><stop offset="0.267" stop-color="#f0eacf"/><stop offset="0.311" stop-color="#f1e9cb"/><stop offset="0.356" stop-color="#eeebd4"/><stop offset="0.400" stop-color="#e5efe9"/><stop offset="0.444" stop-color="#dbecef"/><stop offset="0.489" stop-color="#d0e7f0"/><stop offset="0.533" stop-color="#c0ddeb"/><stop offset="0.578" stop-color="#b3d6e7"/><stop offset="0.622" stop-color="#aad0e4"/><stop offset="0.667" stop-color="#a1cae1"/><stop offset="0.711" stop-color="#98c3de"/><stop offset="0.756" stop-color="#8fbddc"/><stop offset="0.800" stop-color="#7eafd4"/><stop offset="0.844" stop-color="#90bedc"/><stop offset="0.889" stop-color="#90bedc"/><stop offset="0.933" stop-color="#90bedc"/><stop offset="0.978" stop-color="#90bedc"/></linearGradient><linearGradient id="g30" x1="0" y1="300" x2="0" y2="480" gradientUnits="userSpaceOnUse"><stop offset="0.000" stop-color="#edecd7"/><stop offset="0.044" stop-color="#edecd7"/><stop offset="0.089" stop-color="#edecd7"/><stop offset="0.133" stop-color="#ececda"/><stop offset="0.178" stop-color="#eeebd5"/><stop offset="0.222" stop-color="#efebd1"/><stop offset="0.267" stop-color="#f0eace"/><stop offset="0.311" stop-color="#f2e9ca"/><stop offset="0.356" stop-color="#eeebd4"/><stop offset="0.400" stop-color="#e5efe9"/><stop offset="0.444" stop-color="#dbecef"/><stop offset="0.489" stop-color="#d1e7f0"/><stop offset="0.533" stop-color="#c1deeb"/><stop offset="0.578" stop-color="#b4d6e7"/><stop offset="0.622" stop-color="#abd0e4"/><stop offset="0.667" stop-color="#a1cae1"/><stop offset="0.711" stop-color="#97c3de"/><stop offset="0.756" stop-color="#8ebddb"/><stop offset="0.800" stop-color="#7fafd5"/><stop offset="0.844" stop-color="#90bedc"/><stop offset="0.889" stop-color="#90bedc"/><stop offset="0.933" stop-color="#90bedc"/><stop offset="0.978" stop-color="#7aabd2"/></linearGradient><linearGradient id="g31" x1="0" y1="300" x2="0" y2="480" gradientUnits="userSpaceOnUse"><stop offset="0.000" stop-color="#edecd7"/><stop offset="0.044" stop-color="#edecd7"/><stop offset="0.089" stop-color="#edecd7"/><stop offset="0.133" stop-color="#ececd8"/><stop offset="0.178" stop-color="#eeebd4"/><stop offset="0.222" stop-color="#efead1"/><stop offset="0.267" stop-color="#f1eacd"/><stop offset="0.311" stop-color="#f2e9cb"/><stop offset="0.356" stop-color="#eeebd3"/><stop offset="0.400" stop-color="#e6efe8"/><stop offset="0.444" stop-color="#dcecef"/><stop offset="0.489" stop-color="#d2e8f0"/><stop offset="0.533" stop-color="#c2deeb"/><stop offset="0.578" stop-color="#b5d7e7"/><stop offset="0.622" stop-color="#acd1e5"/><stop offset="0.667" stop-color="#a1c9e1"/><stop offset="0.711" stop-color="#97c2de"/><stop offset="0.756" stop-color="#8ebcdb"/><stop offset="0.800" stop-color="#81b1d5"/><stop offset="0.844" stop-color="#90bedc"/><stop offset="0.889" stop-color="#90bedc"/><stop offset="0.933" stop-color="#7aabd2"/><stop offset="0.978" stop-color="#7aabd2"/></linearGradient><linearGradient id="g32" x1="0" y1="300" x2="0" y2="480" gradientUnits="userSpaceOnUse"><stop offset="0.000" stop-color="#edecd7"/><stop offset="0.044" stop-color="#edecd7"/><stop offset="0.089" stop-color="#edecd7"/><stop offset="0.133" stop-color="#edecd7"/><stop offset="0.178" stop-color="#eeebd3"/><stop offset="0.222" stop-color="#f0ead0"/><stop offset="0.267" stop-color="#f1e9cc"/><stop offset="0.311" stop-color="#f1eacd"/><stop offset="0.356" stop-color="#eeebd5"/><stop offset="0.400" stop-color="#e6efe8"/><stop offset="0.444" stop-color="#dcedee"/><stop offset="0.489" stop-color="#d3e8f1"/><stop offset="0.533" stop-color="#c3dfec"/><stop offset="0.578" stop-color="#b6d7e8"/><stop offset="0.622" stop-color="#add2e5"/><stop offset="0.667" stop-color="#a1c9e1"/><stop offset="0.711" stop-color="#96c2de"/><stop offset="0.756" stop-color="#8ebcdb"/><stop offset="0.800" stop-color="#83b3d7"/><stop offset="0.844" stop-color="#90bedc"/><stop offset="0.889" stop-color="#7aabd2"/><stop offset="0.933" stop-color="#7aabd2"/><stop offset="0.978" stop-color="#7aabd2"/></linearGradient><linearGradient id="g33" x1="0" y1="300" x2="0" y2="480" gradientUnits="userSpaceOnUse"><stop offset="0.000" stop-color="#edecd7"/><stop offset="0.044" stop-color="#edecd7"/><stop offset="0.089" stop-color="#edecd7"/><stop offset="0.133" stop-color="#edebd6"/><stop offset="0.178" stop-color="#efebd2"/><stop offset="0.222" stop-color="#f0eacf"/><stop offset="0.267" stop-color="#f1e9cb"/><stop offset="0.311" stop-color="#f0eacf"/><stop offset="0.356" stop-color="#edecd7"/><stop offset="0.400" stop-color="#e6efe7"/><stop offset="0.444" stop-color="#dcedee"/><stop offset="0.489" stop-color="#d4e9f1"/><stop offset="0.533" stop-color="#c4dfec"/><stop offset="0.578" stop-color="#b7d8e8"/><stop offset="0.622" stop-color="#add2e5"/><stop offset="0.667" stop-color="#a0c9e1"/><stop offset="0.711" stop-color="#95c2de"/><stop offset="0.756" stop-color="#8dbcdb"/><stop offset="0.800" stop-color="#86b5d8"/><stop offset="0.844" stop-color="#7aabd2"/><stop offset="0.889" stop-color="#7aabd2"/><stop offset="0.933" stop-color="#7aabd2"/><stop offset="0.978" stop-color="#7aabd2"/></linearGradient><linearGradient id="g34" x1="0" y1="300" x2="0" y2="480" gradientUnits="userSpaceOnUse"><stop offset="0.000" stop-color="#edecd7"/><stop offset="0.044" stop-color="#edecd7"/><stop offset="0.089" stop-color="#edecd7"/><stop offset="0.133" stop-color="#eeebd5"/><stop offset="0.178" stop-color="#efebd1"/><stop offset="0.222" stop-color="#f0eace"/><stop offset="0.267" stop-color="#f2e9ca"/><stop offset="0.311" stop-color="#efead1"/><stop offset="0.356" stop-color="#ececd9"/><stop offset="0.400" stop-color="#e6efe7"/><stop offset="0.444" stop-color="#ddedee"/><stop offset="0.489" stop-color="#d4e9f1"/><stop offset="0.533" stop-color="#c5e0ec"/><stop offset="0.578" stop-color="#b8d8e8"/><stop offset="0.622" stop-color="#add2e5"/><stop offset="0.667" stop-color="#a0c9e1"/><stop offset="0.711" stop-color="#95c1de"/><stop offset="0.756" stop-color="#8dbbdb"/><stop offset="0.800" stop-color="#85b5d7"/><stop offset="0.844" stop-color="#7aabd2"/><stop offset="0.889" stop-color="#7aabd2"/><stop offset="0.933" stop-color="#7aabd2"/><stop offset="0.978" stop-color="#7aabd2"/></linearGradient><linearGradient id="g35" x1="0" y1="300" x2="0" y2="480" gradientUnits="userSpaceOnUse"><stop offset="0.000" stop-color="#edecd7"/><stop offset="0.044" stop-color="#edecd7"/><stop offset="0.089" stop-color="#edecd7"/><stop offset="0.133" stop-color="#eeebd5"/><stop offset="0.178" stop-color="#efead1"/><stop offset="0.222" stop-color="#f1eacd"/><stop offset="0.267" stop-color="#f2e9cb"/><stop offset="0.311" stop-color="#eeebd3"/><stop offset="0.356" stop-color="#ebecdb"/><stop offset="0.400" stop-color="#e6efe6"/><stop offset="0.444" stop-color="#ddedee"/><stop offset="0.489" stop-color="#d5e9f1"/><stop offset="0.533" stop-color="#c6e1ed"/><stop offset="0.578" stop-color="#b9d9e9"/><stop offset="0.622" stop-color="#add2e5"/><stop offset="0.667" stop-color="#a0c9e1"/><stop offset="0.711" stop-color="#94c1dd"/><stop offset="0.756" stop-color="#8cbbda"/><stop offset="0.800" stop-color="#85b5d7"/><stop offset="0.844" stop-color="#7aabd2"/><stop offset="0.889" stop-color="#7aabd2"/><stop offset="0.933" stop-color="#7aabd2"/><stop offset="0.978" stop-color="#7aabd2"/></linearGradient><linearGradient id="g36" x1="0" y1="300" x2="0" y2="480" gradientUnits="userSpaceOnUse"><stop offset="0.000" stop-color="#edecd7"/><stop offset="0.044" stop-color="#edecd7"/><stop offset="0.089" stop-color="#edecd7"/><stop offset="0.133" stop-color="#edebd5"/><stop offset="0.178" stop-color="#f0ead0"/><stop offset="0.222" stop-color="#f1e9cc"/><stop offset="0.267" stop-color="#f1eacd"/><stop offset="0.311" stop-color="#eeebd5"/><stop offset="0.356" stop-color="#eaeddc"/><stop offset="0.400" stop-color="#e7efe5"/><stop offset="0.444" stop-color="#deedee"/><stop offset="0.489" stop-color="#d5e9f1"/><stop offset="0.533" stop-color="#c7e1ed"/><stop offset="0.578" stop-color="#badae9"/><stop offset="0.622" stop-color="#add2e5"/><stop offset="0.667" stop-color="#a0c9e1"/><stop offset="0.711" stop-color="#94c1dd"/><stop offset="0.756" stop-color="#8cbada"/><stop offset="0.800" stop-color="#85b4d7"/><stop offset="0.844" stop-color="#7bacd3"/><stop offset="0.889" stop-color="#7aabd2"/><stop offset="0.933" stop-color="#7aabd2"/><stop offset="0.978" stop-color="#7aabd2"/></linearGradient><linearGradient id="g37" x1="0" y1="300" x2="0" y2="480" gradientUnits="userSpaceOnUse"><stop offset="0.000" stop-color="#edecd7"/><stop offset="0.044" stop-color="#edecd7"/><stop offset="0.089" stop-color="#edecd7"/><stop offset="0.133" stop-color="#edebd5"/><stop offset="0.178" stop-color="#f0eacf"/><stop offset="0.222" stop-color="#f1e9cb"/><stop offset="0.267" stop-color="#f0eacf"/><stop offset="0.311" stop-color="#edecd7"/><stop offset="0.356" stop-color="#eaedde"/><stop offset="0.400" stop-color="#e6efe6"/><stop offset="0.444" stop-color="#deedee"/><stop offset="0.489" stop-color="#d6eaf1"/><stop offset="0.533" stop-color="#c7e2ed"/><stop offset="0.578" stop-color="#badae9"/><stop offset="0.622" stop-color="#acd2e5"/><stop offset="0.667" stop-color="#a0c9e1"/><stop offset="0.711" stop-color="#93c0dd"/><stop offset="0.756" stop-color="#8bbada"/><stop offset="0.800" stop-color="#84b4d7"/><stop offset="0.844" stop-color="#7daed4"/><stop offset="0.889" stop-color="#7aabd2"/><stop offset="0.933" stop-color="#7aabd2"/><stop offset="0.978" stop-color="#7aabd2"/></linearGradient><linearGradient id="g38" x1="0" y1="300" x2="0" y2="480" gradientUnits="userSpaceOnUse"><stop offset="0.000" stop-color="#edecd7"/><stop offset="0.044" stop-color="#edecd7"/><stop offset="0.089" stop-color="#edecd7"/><stop offset="0.133" stop-color="#edebd6"/><stop offset="0.178" stop-color="#f0ead0"/><stop offset="0.222" stop-color="#f2e9ca"/><stop offset="0.267" stop-color="#efead1"/><stop offset="0.311" stop-color="#ececd9"/><stop offset="0.356" stop-color="#e9eee0"/><stop offset="0.400" stop-color="#e6efe8"/><stop offset="0.444" stop-color="#deeeee"/><stop offset="0.489" stop-color="#d6eaf0"/><stop offset="0.533" stop-color="#c8e2ed"/><stop offset="0.578" stop-color="#badae9"/><stop offset="0.622" stop-color="#acd1e5"/><stop offset="0.667" stop-color="#a0c9e1"/><stop offset="0.711" stop-color="#93c0dd"/><stop offset="0.756" stop-color="#8bbada"/><stop offset="0.800" stop-color="#84b3d7"/><stop offset="0.844" stop-color="#7dadd4"/><stop offset="0.889" stop-color="#7aabd2"/><stop offset="0.933" stop-color="#7aabd2"/><stop offset="0.978" stop-color="#7aabd2"/></linearGradient><linearGradient id="g39" x1="0" y1="300" x2="0" y2="480" gradientUnits="userSpaceOnUse"><stop offset="0.000" stop-color="#edecd7"/><stop offset="0.044" stop-color="#edecd7"/><stop offset="0.089" stop-color="#edecd7"/><stop offset="0.133" stop-color="#edebd6"/><stop offset="0.178" stop-color="#f0ead0"/><stop offset="0.222" stop-color="#f2e9ca"/><stop offset="0.267" stop-color="#f0ead0"/><stop offset="0.311" stop-color="#ececd8"/><stop offset="0.356" stop-color="#e9eddf"/><stop offset="0.400" stop-color="#e6efe7"/><stop offset="0.444" stop-color="#dfeeee"/><stop offset="0.489" stop-color="#d6eaf0"/><stop offset="0.533" stop-color="#c9e2ee"/><stop offset="0.578" stop-color="#bcdbea"/><stop offset="0.622" stop-color="#aed3e5"/><stop offset="0.667" stop-color="#a1cae1"/><stop offset="0.711" stop-color="#95c1de"/><stop offset="0.756" stop-color="#8bb9da"/><stop offset="0.800" stop-color="#83b3d7"/><stop offset="0.844" stop-color="#7cadd4"/><stop offset="0.889" stop-color="#7aabd2"/><stop offset="0.933" stop-color="#7aabd2"/><stop offset="0.978" stop-color="#7aabd2"/></linearGradient><linearGradient id="g40" x1="0" y1="300" x2="0" y2="480" gradientUnits="userSpaceOnUse"><stop offset="0.000" stop-color="#edecd7"/><stop offset="0.044" stop-color="#edecd7"/><stop offset="0.089" stop-color="#edecd7"/><stop offset="0.133" stop-color="#edecd6"/><stop offset="0.178" stop-color="#efead0"/><stop offset="0.222" stop-color="#f1e9cb"/><stop offset="0.267" stop-color="#f1e9cc"/><stop offset="0.311" stop-color="#eeebd4"/><stop offset="0.356" stop-color="#ebeddb"/><stop offset="0.400" stop-color="#e7eee4"/><stop offset="0.444" stop-color="#dfeeee"/><stop offset="0.489" stop-color="#d6eaf0"/><stop offset="0.533" stop-color="#c9e3ee"/><stop offset="0.578" stop-color="#bfddeb"/><stop offset="0.622" stop-color="#b2d5e7"/><stop offset="0.667" stop-color="#a5cde3"/><stop offset="0.711" stop-color="#98c4df"/><stop offset="0.756" stop-color="#8ab9da"/><stop offset="0.800" stop-color="#83b3d7"/><stop offset="0.844" stop-color="#7cadd3"/><stop offset="0.889" stop-color="#7aabd2"/><stop offset="0.933" stop-color="#7aabd2"/><stop offset="0.978" stop-color="#7aabd2"/></linearGradient><linearGradient id="g41" x1="0" y1="300" x2="0" y2="480" gradientUnits="userSpaceOnUse"><stop offset="0.000" stop-color="#edecd7"/><stop offset="0.044" stop-color="#edecd7"/><stop offset="0.089" stop-color="#edecd7"/><stop offset="0.133" stop-color="#edecd7"/><stop offset="0.178" stop-color="#efead1"/><stop offset="0.222" stop-color="#f1e9cc"/><stop offset="0.267" stop-color="#f2e9ca"/><stop offset="0.311" stop-color="#f0ead0"/><stop offset="0.356" stop-color="#ececd7"/><stop offset="0.400" stop-color="#e8eee3"/><stop offset="0.444" stop-color="#dfeeee"/><stop offset="0.489" stop-color="#d7eaf0"/><stop offset="0.533" stop-color="#cbe4ee"/><stop offset="0.578" stop-color="#c2deeb"/><stop offset="0.622" stop-color="#b6d7e8"/><stop offset="0.667" stop-color="#a9cfe4"/><stop offset="0.711" stop-color="#9bc6e0"/><stop offset="0.756" stop-color="#8cbbda"/><stop offset="0.800" stop-color="#83b3d6"/><stop offset="0.844" stop-color="#7cadd3"/><stop offset="0.889" stop-color="#7aabd2"/><stop offset="0.933" stop-color="#7aabd2"/><stop offset="0.978" stop-color="#7aabd2"/></linearGradient><linearGradient id="g42" x1="0" y1="300" x2="0" y2="480" gradientUnits="userSpaceOnUse"><stop offset="0.000" stop-color="#edecd7"/><stop offset="0.044" stop-color="#edecd7"/><stop offset="0.089" stop-color="#edecd7"/><stop offset="0.133" stop-color="#edecd7"/><stop offset="0.178" stop-color="#efead1"/><stop offset="0.222" stop-color="#f1eacd"/><stop offset="0.267" stop-color="#f2e9ca"/><stop offset="0.311" stop-color="#f1e9cc"/><stop offset="0.356" stop-color="#eeebd4"/><stop offset="0.400" stop-color="#e8eee2"/><stop offset="0.444" stop-color="#dfeeed"/><stop offset="0.489" stop-color="#d7eaf0"/><stop offset="0.533" stop-color="#cde5ef"/><stop offset="0.578" stop-color="#c4e0ec"/><stop offset="0.622" stop-color="#badae9"/><stop offset="0.667" stop-color="#acd2e5"/><stop offset="0.711" stop-color="#9ec8e0"/><stop offset="0.756" stop-color="#8fbddb"/><stop offset="0.800" stop-color="#83b3d6"/><stop offset="0.844" stop-color="#7cadd3"/><stop offset="0.889" stop-color="#7aabd2"/><stop offset="0.933" stop-color="#7aabd2"/><stop offset="0.978" stop-color="#7aabd2"/></linearGradient><linearGradient id="g43" x1="0" y1="300" x2="0" y2="480" gradientUnits="userSpaceOnUse"><stop offset="0.000" stop-color="#edecd7"/><stop offset="0.044" stop-color="#edecd7"/><stop offset="0.089" stop-color="#edecd7"/><stop offset="0.133" stop-color="#edecd7"/><stop offset="0.178" stop-color="#efebd2"/><stop offset="0.222" stop-color="#f0eace"/><stop offset="0.267" stop-color="#f2e9ca"/><stop offset="0.311" stop-color="#f2e9ca"/><stop offset="0.356" stop-color="#f0ead0"/><stop offset="0.400" stop-color="#e8eee2"/><stop offset="0.444" stop-color="#e0eeed"/><stop offset="0.489" stop-color="#d7eaf0"/><stop offset="0.533" stop-color="#cfe6f0"/><stop offset="0.578" stop-color="#c6e1ed"/><stop offset="0.622" stop-color="#bddbea"/><stop offset="0.667" stop-color="#b0d4e6"/><stop offset="0.711" stop-color="#a1cae1"/><stop offset="0.756" stop-color="#91bfdc"/><stop offset="0.800" stop-color="#83b3d7"/><stop offset="0.844" stop-color="#7bacd3"/><stop offset="0.889" stop-color="#7daed4"/><stop offset="0.933" stop-color="#7daed4"/><stop offset="0.978" stop-color="#7daed4"/></linearGradient><linearGradient id="g44" x1="0" y1="300" x2="0" y2="480" gradientUnits="userSpaceOnUse"><stop offset="0.000" stop-color="#edecd7"/><stop offset="0.044" stop-color="#edecd7"/><stop offset="0.089" stop-color="#edecd7"/><stop offset="0.133" stop-color="#edecd7"/><stop offset="0.178" stop-color="#eeebd3"/><stop offset="0.222" stop-color="#f0eacf"/><stop offset="0.267" stop-color="#f2e9ca"/><stop offset="0.311" stop-color="#f2e9ca"/><stop offset="0.356" stop-color="#f0eacf"/><stop offset="0.400" stop-color="#e9eee1"/><stop offset="0.444" stop-color="#e0eeed"/><stop offset="0.489" stop-color="#d8ebf0"/><stop offset="0.533" stop-color="#d2e8f0"/><stop offset="0.578" stop-color="#c8e2ed"/><stop offset="0.622" stop-color="#bfddeb"/><stop offset="0.667" stop-color="#b4d6e7"/><stop offset="0.711" stop-color="#a4cce2"/><stop offset="0.756" stop-color="#94c1dd"/><stop offset="0.800" stop-color="#86b5d8"/><stop offset="0.844" stop-color="#7aabd2"/><stop offset="0.889" stop-color="#7daed4"/><stop offset="0.933" stop-color="#7daed4"/><stop offset="0.978" stop-color="#5f90c5"/></linearGradient><linearGradient id="g45" x1="0" y1="300" x2="0" y2="480" gradientUnits="userSpaceOnUse"><stop offset="0.000" stop-color="#edecd7"/><stop offset="0.044" stop-color="#edecd7"/><stop offset="0.089" stop-color="#edecd7"/><stop offset="0.133" stop-color="#edecd7"/><stop offset="0.178" stop-color="#eeebd4"/><stop offset="0.222" stop-color="#f0eacf"/><stop offset="0.267" stop-color="#f2e9cb"/><stop offset="0.311" stop-color="#f2e9ca"/><stop offset="0.356" stop-color="#f0eace"/><stop offset="0.400" stop-color="#e9eee1"/><stop offset="0.444" stop-color="#e0eeed"/><stop offset="0.489" stop-color="#d8ebf0"/><stop offset="0.533" stop-color="#d2e8f0"/><stop offset="0.578" stop-color="#c9e2ee"/><stop offset="0.622" stop-color="#bfddeb"/><stop offset="0.667" stop-color="#b6d7e8"/><stop offset="0.711" stop-color="#a5cde3"/><stop offset="0.756" stop-color="#95c2de"/><stop offset="0.800" stop-color="#87b6d8"/><stop offset="0.844" stop-color="#78aad2"/><stop offset="0.889" stop-color="#7daed4"/><stop offset="0.933" stop-color="#5f90c5"/><stop offset="0.978" stop-color="#5f90c5"/></linearGradient><linearGradient id="g46" x1="0" y1="300" x2="0" y2="480" gradientUnits="userSpaceOnUse"><stop offset="0.000" stop-color="#edecd7"/><stop offset="0.044" stop-color="#edecd7"/><stop offset="0.089" stop-color="#edecd7"/><stop offset="0.133" stop-color="#edecd7"/><stop offset="0.178" stop-color="#eeebd4"/><stop offset="0.222" stop-color="#f0ead0"/><stop offset="0.267" stop-color="#f1e9cc"/><stop offset="0.311" stop-color="#f2e9ca"/><stop offset="0.356" stop-color="#f0ead0"/><stop offset="0.400" stop-color="#e8eee2"/><stop offset="0.444" stop-color="#e0eeed"/><stop offset="0.489" stop-color="#d7eaf0"/><stop offset="0.533" stop-color="#cde5ef"/><stop offset="0.578" stop-color="#c4dfec"/><stop offset="0.622" stop-color="#badae9"/><stop offset="0.667" stop-color="#b1d5e6"/><stop offset="0.711" stop-color="#a1cae1"/><stop offset="0.756" stop-color="#91bfdc"/><stop offset="0.800" stop-color="#83b3d6"/><stop offset="0.844" stop-color="#78aad2"/><stop offset="0.889" stop-color="#5f90c5"/><stop offset="0.933" stop-color="#5f90c5"/><stop offset="0.978" stop-color="#5f90c5"/></linearGradient><linearGradient id="g47" x1="0" y1="300" x2="0" y2="480" gradientUnits="userSpaceOnUse"><stop offset="0.000" stop-color="#edecd7"/><stop offset="0.044" stop-color="#edecd7"/><stop offset="0.089" stop-color="#edecd7"/><stop offset="0.133" stop-color="#edecd7"/><stop offset="0.178" stop-color="#eeebd4"/><stop offset="0.222" stop-color="#efead0"/><stop offset="0.267" stop-color="#f1e9cc"/><stop offset="0.311" stop-color="#f1eacd"/><stop offset="0.356" stop-color="#edebd5"/><stop offset="0.400" stop-color="#e7eee4"/><stop offset="0.444" stop-color="#dfeeee"/><stop offset="0.489" stop-color="#d6eaf0"/><stop offset="0.533" stop-color="#c9e3ee"/><stop offset="0.578" stop-color="#bfddea"/><stop offset="0.622" stop-color="#b5d7e8"/><stop offset="0.667" stop-color="#acd2e5"/><stop offset="0.711" stop-color="#9cc7e0"/><stop offset="0.756" stop-color="#8dbbdb"/><stop offset="0.800" stop-color="#7fb0d5"/><stop offset="0.844" stop-color="#79abd2"/><stop offset="0.889" stop-color="#5f90c5"/><stop offset="0.933" stop-color="#5f90c5"/><stop offset="0.978" stop-color="#5f90c5"/></linearGradient><linearGradient id="g48" x1="0" y1="300" x2="0" y2="480" gradientUnits="userSpaceOnUse"><stop offset="0.000" stop-color="#edecd7"/><stop offset="0.044" stop-color="#edecd7"/><stop offset="0.089" stop-color="#edecd7"/><stop offset="0.133" stop-color="#edecd7"/><stop offset="0.178" stop-color="#eeebd5"/><stop offset="0.222" stop-color="#efead1"/><stop offset="0.267" stop-color="#f1e9cc"/><stop offset="0.311" stop-color="#efebd2"/><stop offset="0.356" stop-color="#ebecdb"/><stop offset="0.400" stop-color="#e7efe5"/><stop offset="0.444" stop-color="#deedee"/><stop offset="0.489" stop-color="#d6eaf1"/><stop offset="0.533" stop-color="#c8e2ed"/><stop offset="0.578" stop-color="#badae9"/><stop offset="0.622" stop-color="#b0d4e6"/><stop offset="0.667" stop-color="#a8cee3"/><stop offset="0.711" stop-color="#98c4df"/><stop offset="0.756" stop-color="#89b8d9"/><stop offset="0.800" stop-color="#7cadd3"/><stop offset="0.844" stop-color="#78a9d2"/><stop offset="0.889" stop-color="#5f90c5"/><stop offset="0.933" stop-color="#5f90c5"/><stop offset="0.978" stop-color="#5f90c5"/></linearGradient><linearGradient id="g49" x1="0" y1="300" x2="0" y2="480" gradientUnits="userSpaceOnUse"><stop offset="0.000" stop-color="#edecd7"/><stop offset="0.044" stop-color="#edecd7"/><stop offset="0.089" stop-color="#edecd7"/><stop offset="0.133" stop-color="#edecd7"/><stop offset="0.178" stop-color="#edebd5"/><stop offset="0.222" stop-color="#efead1"/><stop offset="0.267" stop-color="#f0eacf"/><stop offset="0.311" stop-color="#ececd8"/><stop offset="0.356" stop-color="#e9eee0"/><stop offset="0.400" stop-color="#e5efe8"/><stop offset="0.444" stop-color="#ddedee"/><stop offset="0.489" stop-color="#d5e9f1"/><stop offset="0.533" stop-color="#c7e1ed"/><stop offset="0.578" stop-color="#b8d9e8"/><stop offset="0.622" stop-color="#acd1e5"/><stop offset="0.667" stop-color="#a4cbe2"/><stop offset="0.711" stop-color="#94c0dd"/><stop offset="0.756" stop-color="#86b5d8"/><stop offset="0.800" stop-color="#78aad2"/><stop offset="0.844" stop-color="#76a8d1"/><stop offset="0.889" stop-color="#5f90c5"/><stop offset="0.933" stop-color="#5f90c5"/><stop offset="0.978" stop-color="#5f90c5"/></linearGradient><linearGradient id="g50" x1="0" y1="300" x2="0" y2="480" gradientUnits="userSpaceOnUse"><stop offset="0.000" stop-color="#edecd7"/><stop offset="0.044" stop-color="#edecd7"/><stop offset="0.089" stop-color="#edecd7"/><stop offset="0.133" stop-color="#edecd7"/><stop offset="0.178" stop-color="#edebd5"/><stop offset="0.222" stop-color="#efebd1"/><stop offset="0.267" stop-color="#eeebd5"/><stop offset="0.311" stop-color="#eaeddd"/><stop offset="0.356" stop-color="#e7efe6"/><stop offset="0.400" stop-color="#e3f0ec"/><stop offset="0.444" stop-color="#ddedee"/><stop offset="0.489" stop-color="#d4e9f1"/><stop offset="0.533" stop-color="#c6e1ed"/><stop offset="0.578" stop-color="#b7d8e8"/><stop offset="0.622" stop-color="#a9cfe4"/><stop offset="0.667" stop-color="#9fc8e1"/><stop offset="0.711" stop-color="#8fbedc"/><stop offset="0.756" stop-color="#82b2d6"/><stop offset="0.800" stop-color="#74a6d0"/><stop offset="0.844" stop-color="#74a6d0"/><stop offset="0.889" stop-color="#5f90c5"/><stop offset="0.933" stop-color="#5f90c5"/><stop offset="0.978" stop-color="#5f90c5"/></linearGradient><linearGradient id="g51" x1="0" y1="300" x2="0" y2="480" gradientUnits="userSpaceOnUse"><stop offset="0.000" stop-color="#edecd7"/><stop offset="0.044" stop-color="#edecd7"/><stop offset="0.089" stop-color="#edecd7"/><stop offset="0.133" stop-color="#edecd7"/><stop offset="0.178" stop-color="#edebd6"/><stop offset="0.222" stop-color="#efebd2"/><stop offset="0.267" stop-color="#ebecda"/><stop offset="0.311" stop-color="#e8eee3"/><stop offset="0.356" stop-color="#e4f0eb"/><stop offset="0.400" stop-color="#e0eeed"/><stop offset="0.444" stop-color="#dcecee"/><stop offset="0.489" stop-color="#d4e9f1"/><stop offset="0.533" stop-color="#c5e0ec"/><stop offset="0.578" stop-color="#b6d7e8"/><stop offset="0.622" stop-color="#a8cee3"/><stop offset="0.667" stop-color="#9bc5df"/><stop offset="0.711" stop-color="#8cbada"/><stop offset="0.756" stop-color="#7eafd4"/><stop offset="0.800" stop-color="#70a2ce"/><stop offset="0.844" stop-color="#72a4cf"/><stop offset="0.889" stop-color="#74a6d0"/><stop offset="0.933" stop-color="#5f90c5"/><stop offset="0.978" stop-color="#5f90c5"/></linearGradient><linearGradient id="g52" x1="0" y1="300" x2="0" y2="480" gradientUnits="userSpaceOnUse"><stop offset="0.000" stop-color="#edecd7"/><stop offset="0.044" stop-color="#edecd7"/><stop offset="0.089" stop-color="#edecd7"/><stop offset="0.133" stop-color="#edecd7"/><stop offset="0.178" stop-color="#edebd6"/><stop offset="0.222" stop-color="#eeebd5"/><stop offset="0.267" stop-color="#ebecdb"/><stop offset="0.311" stop-color="#e8eee3"/><stop offset="0.356" stop-color="#e4f0ec"/><stop offset="0.400" stop-color="#e0eeed"/><stop offset="0.444" stop-color="#dbecef"/><stop offset="0.489" stop-color="#d3e8f1"/><stop offset="0.533" stop-color="#c4e0ec"/><stop offset="0.578" stop-color="#b5d7e8"/><stop offset="0.622" stop-color="#a7cee3"/><stop offset="0.667" stop-color="#99c4df"/><stop offset="0.711" stop-color="#89b8d9"/><stop offset="0.756" stop-color="#7bacd3"/><stop offset="0.800" stop-color="#6c9ecc"/><stop offset="0.844" stop-color="#72a4cf"/><stop offset="0.889" stop-color="#74a6d0"/><stop offset="0.933" stop-color="#74a6d0"/><stop offset="0.978" stop-color="#5f90c5"/></linearGradient><linearGradient id="g53" x1="0" y1="300" x2="0" y2="480" gradientUnits="userSpaceOnUse"><stop offset="0.000" stop-color="#edecd7"/><stop offset="0.044" stop-color="#edecd7"/><stop offset="0.089" stop-color="#edecd7"/><stop offset="0.133" stop-color="#edecd7"/><stop offset="0.178" stop-color="#edebd6"/><stop offset="0.222" stop-color="#ececd7"/><stop offset="0.267" stop-color="#ebeddc"/><stop offset="0.311" stop-color="#e7eee4"/><stop offset="0.356" stop-color="#e4f0ec"/><stop offset="0.400" stop-color="#e0eeed"/><stop offset="0.444" stop-color="#daecef"/><stop offset="0.489" stop-color="#d2e8f0"/><stop offset="0.533" stop-color="#c3dfec"/><stop offset="0.578" stop-color="#b4d6e7"/><stop offset="0.622" stop-color="#a7cde3"/><stop offset="0.667" stop-color="#97c3de"/><stop offset="0.711" stop-color="#88b7d8"/><stop offset="0.756" stop-color="#79abd2"/><stop offset="0.800" stop-color="#699bcb"/><stop offset="0.844" stop-color="#699bcb"/><stop offset="0.889" stop-color="#74a6d0"/><stop offset="0.933" stop-color="#74a6d0"/><stop offset="0.978" stop-color="#74a6d0"/></linearGradient><linearGradient id="g54" x1="0" y1="300" x2="0" y2="480" gradientUnits="userSpaceOnUse"><stop offset="0.000" stop-color="#edecd7"/><stop offset="0.044" stop-color="#edecd7"/><stop offset="0.089" stop-color="#edecd7"/><stop offset="0.133" stop-color="#edecd7"/><stop offset="0.178" stop-color="#ececd9"/><stop offset="0.222" stop-color="#ebecda"/><stop offset="0.267" stop-color="#eaedde"/><stop offset="0.311" stop-color="#e7eee5"/><stop offset="0.356" stop-color="#e3f0ec"/><stop offset="0.400" stop-color="#dfeeee"/><stop offset="0.444" stop-color="#daebef"/><stop offset="0.489" stop-color="#d1e7f0"/><stop offset="0.533" stop-color="#c2dfec"/><stop offset="0.578" stop-color="#b3d6e7"/><stop offset="0.622" stop-color="#a5cde3"/><stop offset="0.667" stop-color="#95c1de"/><stop offset="0.711" stop-color="#86b5d8"/><stop offset="0.756" stop-color="#75a7d0"/><stop offset="0.800" stop-color="#6b9dcb"/><stop offset="0.844" stop-color="#699bcb"/><stop offset="0.889" stop-color="#74a6d0"/><stop offset="0.933" stop-color="#74a6d0"/><stop offset="0.978" stop-color="#74a6d0"/></linearGradient><linearGradient id="g55" x1="0" y1="300" x2="0" y2="480" gradientUnits="userSpaceOnUse"><stop offset="0.000" stop-color="#edecd7"/><stop offset="0.044" stop-color="#edecd7"/><stop offset="0.089" stop-color="#edecd7"/><stop offset="0.133" stop-color="#edecd7"/><stop offset="0.178" stop-color="#ebeddb"/><stop offset="0.222" stop-color="#eaeddd"/><stop offset="0.267" stop-color="#e8eee1"/><stop offset="0.311" stop-color="#e7efe5"/><stop offset="0.356" stop-color="#e3f0ec"/><stop offset="0.400" stop-color="#dfeeee"/><stop offset="0.444" stop-color="#d9ebef"/><stop offset="0.489" stop-color="#d0e7f0"/><stop offset="0.533" stop-color="#c2deeb"/><stop offset="0.578" stop-color="#b3d6e7"/><stop offset="0.622" stop-color="#a3cbe2"/><stop offset="0.667" stop-color="#93c0dd"/><stop offset="0.711" stop-color="#82b2d6"/><stop offset="0.756" stop-color="#689aca"/><stop offset="0.800" stop-color="#6c9ecc"/><stop offset="0.844" stop-color="#699bcb"/><stop offset="0.889" stop-color="#74a6d0"/><stop offset="0.933" stop-color="#74a6d0"/><stop offset="0.978" stop-color="#74a6d0"/></linearGradient><linearGradient id="g56" x1="0" y1="300" x2="0" y2="480" gradientUnits="userSpaceOnUse"><stop offset="0.000" stop-color="#edecd7"/><stop offset="0.044" stop-color="#edecd7"/><stop offset="0.089" stop-color="#edecd7"/><stop offset="0.133" stop-color="#edecd7"/><stop offset="0.178" stop-color="#edecd7"/><stop offset="0.222" stop-color="#e9ede0"/><stop offset="0.267" stop-color="#e7eee4"/><stop offset="0.311" stop-color="#e6efe8"/><stop offset="0.356" stop-color="#e3efec"/><stop offset="0.400" stop-color="#deeeee"/><stop offset="0.444" stop-color="#d8ebf0"/><stop offset="0.489" stop-color="#cfe6ef"/><stop offset="0.533" stop-color="#c1deeb"/><stop offset="0.578" stop-color="#b2d5e7"/><stop offset="0.622" stop-color="#a1cae1"/><stop offset="0.667" stop-color="#8ebcdb"/><stop offset="0.711" stop-color="#78aad2"/><stop offset="0.756" stop-color="#6899ca"/><stop offset="0.800" stop-color="#6ea0cd"/><stop offset="0.844" stop-color="#699bcb"/><stop offset="0.889" stop-color="#74a6d0"/><stop offset="0.933" stop-color="#74a6d0"/><stop offset="0.978" stop-color="#74a6d0"/></linearGradient><linearGradient id="g57" x1="0" y1="300" x2="0" y2="480" gradientUnits="userSpaceOnUse"><stop offset="0.000" stop-color="#edecd7"/><stop offset="0.044" stop-color="#edecd7"/><stop offset="0.089" stop-color="#edecd7"/><stop offset="0.133" stop-color="#e7eee4"/><stop offset="0.178" stop-color="#e7eee4"/><stop offset="0.222" stop-color="#e8eee3"/><stop offset="0.267" stop-color="#e6efe7"/><stop offset="0.311" stop-color="#e4f0eb"/><stop offset="0.356" stop-color="#e2efec"/><stop offset="0.400" stop-color="#deedee"/><stop offset="0.444" stop-color="#d7eaf0"/><stop offset="0.489" stop-color="#cee5ef"/><stop offset="0.533" stop-color="#c0ddeb"/><stop offset="0.578" stop-color="#b0d4e6"/><stop offset="0.622" stop-color="#9cc6e0"/><stop offset="0.667" stop-color="#88b7d8"/><stop offset="0.711" stop-color="#6c9ecc"/><stop offset="0.756" stop-color="#6799ca"/><stop offset="0.800" stop-color="#699bcb"/><stop offset="0.844" stop-color="#699bcb"/><stop offset="0.889" stop-color="#699bcb"/><stop offset="0.933" stop-color="#74a6d0"/><stop offset="0.978" stop-color="#74a6d0"/></linearGradient><linearGradient id="g58" x1="0" y1="300" x2="0" y2="480" gradientUnits="userSpaceOnUse"><stop offset="0.000" stop-color="#edecd7"/><stop offset="0.044" stop-color="#e7eee4"/><stop offset="0.089" stop-color="#e7eee4"/><stop offset="0.133" stop-color="#e7eee4"/><stop offset="0.178" stop-color="#e7eee4"/><stop offset="0.222" stop-color="#e7efe5"/><stop offset="0.267" stop-color="#e5efea"/><stop offset="0.311" stop-color="#e3f0ec"/><stop offset="0.356" stop-color="#e1efed"/><stop offset="0.400" stop-color="#ddedee"/><stop offset="0.444" stop-color="#d7eaf0"/><stop offset="0.489" stop-color="#cce4ef"/><stop offset="0.533" stop-color="#bfddeb"/><stop offset="0.578" stop-color="#abd0e4"/><stop offset="0.622" stop-color="#95c2de"/><stop offset="0.667" stop-color="#7cadd3"/><stop offset="0.711" stop-color="#6698c9"/><stop offset="0.756" stop-color="#6799ca"/><stop offset="0.800" stop-color="#699bcb"/><stop offset="0.844" stop-color="#699bcb"/><stop offset="0.889" stop-color="#699bcb"/><stop offset="0.933" stop-color="#74a6d0"/><stop offset="0.978" stop-color="#74a6d0"/></linearGradient><linearGradient id="g59" x1="0" y1="300" x2="0" y2="480" gradientUnits="userSpaceOnUse"><stop offset="0.000" stop-color="#e7eee4"/><stop offset="0.044" stop-color="#e7eee4"/><stop offset="0.089" stop-color="#e7eee4"/><stop offset="0.133" stop-color="#e7eee4"/><stop offset="0.178" stop-color="#e7eee4"/><stop offset="0.222" stop-color="#e6efe7"/><stop offset="0.267" stop-color="#e4f0eb"/><stop offset="0.311" stop-color="#e2efed"/><stop offset="0.356" stop-color="#e0eeed"/><stop offset="0.400" stop-color="#dbecef"/><stop offset="0.444" stop-color="#d4e9f1"/><stop offset="0.489" stop-color="#c8e2ed"/><stop offset="0.533" stop-color="#badae9"/><stop offset="0.578" stop-color="#a4cce2"/><stop offset="0.622" stop-color="#8bbada"/><stop offset="0.667" stop-color="#70a2ce"/><stop offset="0.711" stop-color="#6597c9"/><stop offset="0.756" stop-color="#699aca"/><stop offset="0.800" stop-color="#699bcb"/><stop offset="0.844" stop-color="#699bcb"/><stop offset="0.889" stop-color="#699bcb"/><stop offset="0.933" stop-color="#74a6d0"/><stop offset="0.978" stop-color="#74a6d0"/></linearGradient><linearGradient id="g60" x1="0" y1="300" x2="0" y2="480" gradientUnits="userSpaceOnUse"><stop offset="0.000" stop-color="#e7eee4"/><stop offset="0.044" stop-color="#e7eee4"/><stop offset="0.089" stop-color="#e7eee4"/><stop offset="0.133" stop-color="#e7eee4"/><stop offset="0.178" stop-color="#e7eee4"/><stop offset="0.222" stop-color="#e6efe8"/><stop offset="0.267" stop-color="#e4f0ec"/><stop offset="0.311" stop-color="#e2efed"/><stop offset="0.356" stop-color="#dfeeee"/><stop offset="0.400" stop-color="#d8ebf0"/><stop offset="0.444" stop-color="#cfe6ef"/><stop offset="0.489" stop-color="#c2dfec"/><stop offset="0.533" stop-color="#b2d5e7"/><stop offset="0.578" stop-color="#9cc6e0"/><stop offset="0.622" stop-color="#80b0d5"/><stop offset="0.667" stop-color="#6798c9"/><stop offset="0.711" stop-color="#6799ca"/><stop offset="0.756" stop-color="#6a9ccb"/><stop offset="0.800" stop-color="#699bcb"/><stop offset="0.844" stop-color="#699bcb"/><stop offset="0.889" stop-color="#699bcb"/><stop offset="0.933" stop-color="#74a6d0"/><stop offset="0.978" stop-color="#74a6d0"/></linearGradient><linearGradient id="g61" x1="0" y1="300" x2="0" y2="480" gradientUnits="userSpaceOnUse"><stop offset="0.000" stop-color="#e7eee4"/><stop offset="0.044" stop-color="#e7eee4"/><stop offset="0.089" stop-color="#e7eee4"/><stop offset="0.133" stop-color="#e7eee4"/><stop offset="0.178" stop-color="#e7eee4"/><stop offset="0.222" stop-color="#e6efe8"/><stop offset="0.267" stop-color="#e4f0ec"/><stop offset="0.311" stop-color="#e2efed"/><stop offset="0.356" stop-color="#dcecef"/><stop offset="0.400" stop-color="#d5eaf1"/><stop offset="0.444" stop-color="#c9e3ee"/><stop offset="0.489" stop-color="#bcdbea"/><stop offset="0.533" stop-color="#abd1e5"/><stop offset="0.578" stop-color="#8fbddc"/><stop offset="0.622" stop-color="#74a6d0"/><stop offset="0.667" stop-color="#6596c8"/><stop offset="0.711" stop-color="#6698c9"/><stop offset="0.756" stop-color="#699bcb"/><stop offset="0.800" stop-color="#699bcb"/><stop offset="0.844" stop-color="#699bcb"/><stop offset="0.889" stop-color="#699bcb"/><stop offset="0.933" stop-color="#699bcb"/><stop offset="0.978" stop-color="#74a6d0"/></linearGradient><linearGradient id="g62" x1="0" y1="300" x2="0" y2="480" gradientUnits="userSpaceOnUse"><stop offset="0.000" stop-color="#e7eee4"/><stop offset="0.044" stop-color="#e7eee4"/><stop offset="0.089" stop-color="#e7eee4"/><stop offset="0.133" stop-color="#e7eee4"/><stop offset="0.178" stop-color="#e7eee4"/><stop offset="0.222" stop-color="#e4f0ec"/><stop offset="0.267" stop-color="#e4f0ec"/><stop offset="0.311" stop-color="#dfeeed"/><stop offset="0.356" stop-color="#d9ebf0"/><stop offset="0.400" stop-color="#d1e7f0"/><stop offset="0.444" stop-color="#c4e0ec"/><stop offset="0.489" stop-color="#b6d8e8"/><stop offset="0.533" stop-color="#a0c9e1"/><stop offset="0.578" stop-color="#84b3d7"/><stop offset="0.622" stop-color="#6799ca"/><stop offset="0.667" stop-color="#6395c8"/><stop offset="0.711" stop-color="#6496c8"/><stop offset="0.756" stop-color="#699bcb"/><stop offset="0.800" stop-color="#699bcb"/><stop offset="0.844" stop-color="#699bcb"/><stop offset="0.889" stop-color="#699bcb"/><stop offset="0.933" stop-color="#699bcb"/><stop offset="0.978" stop-color="#74a6d0"/></linearGradient><linearGradient id="g63" x1="0" y1="300" x2="0" y2="480" gradientUnits="userSpaceOnUse"><stop offset="0.000" stop-color="#e7eee4"/><stop offset="0.044" stop-color="#e7eee4"/><stop offset="0.089" stop-color="#e7eee4"/><stop offset="0.133" stop-color="#e7eee4"/><stop offset="0.178" stop-color="#e4f0ec"/><stop offset="0.222" stop-color="#e4f0ec"/><stop offset="0.267" stop-color="#e3f0ec"/><stop offset="0.311" stop-color="#dcedee"/><stop offset="0.356" stop-color="#d6eaf0"/><stop offset="0.400" stop-color="#cbe4ee"/><stop offset="0.444" stop-color="#bfddea"/><stop offset="0.489" stop-color="#afd3e6"/><stop offset="0.533" stop-color="#93c0dd"/><stop offset="0.578" stop-color="#78aad2"/><stop offset="0.622" stop-color="#6596c8"/><stop offset="0.667" stop-color="#6597c9"/><stop offset="0.711" stop-color="#6597c9"/><stop offset="0.756" stop-color="#699bcb"/><stop offset="0.800" stop-color="#699bcb"/><stop offset="0.844" stop-color="#699bcb"/><stop offset="0.889" stop-color="#699bcb"/><stop offset="0.933" stop-color="#699bcb"/><stop offset="0.978" stop-color="#74a6d0"/></linearGradient><linearGradient id="g64" x1="0" y1="300" x2="0" y2="480" gradientUnits="userSpaceOnUse"><stop offset="0.000" stop-color="#e7eee4"/><stop offset="0.044" stop-color="#e7eee4"/><stop offset="0.089" stop-color="#e4f0ec"/><stop offset="0.133" stop-color="#e4f0ec"/><stop offset="0.178" stop-color="#e4f0ec"/><stop offset="0.222" stop-color="#e4f0ec"/><stop offset="0.267" stop-color="#e1efed"/><stop offset="0.311" stop-color="#dbecef"/><stop offset="0.356" stop-color="#d4e9f1"/><stop offset="0.400" stop-color="#c8e2ed"/><stop offset="0.444" stop-color="#b7d8e8"/><stop offset="0.489" stop-color="#a6cde3"/><stop offset="0.533" stop-color="#87b7d8"/><stop offset="0.578" stop-color="#6c9dcc"/><stop offset="0.622" stop-color="#6394c7"/><stop offset="0.667" stop-color="#6799ca"/><stop offset="0.711" stop-color="#6798c9"/><stop offset="0.756" stop-color="#b0d4e6"/><stop offset="0.800" stop-color="#699bcb"/><stop offset="0.844" stop-color="#699bcb"/><stop offset="0.889" stop-color="#699bcb"/><stop offset="0.933" stop-color="#699bcb"/><stop offset="0.978" stop-color="#74a6d0"/></linearGradient><linearGradient id="g65" x1="0" y1="300" x2="0" y2="480" gradientUnits="userSpaceOnUse"><stop offset="0.000" stop-color="#e7eee4"/><stop offset="0.044" stop-color="#e4f0ec"/><stop offset="0.089" stop-color="#e4f0ec"/><stop offset="0.133" stop-color="#e4f0ec"/><stop offset="0.178" stop-color="#e4f0ec"/><stop offset="0.222" stop-color="#e4f0ec"/><stop offset="0.267" stop-color="#e1eeed"/><stop offset="0.311" stop-color="#dbecef"/><stop offset="0.356" stop-color="#d4e9f1"/><stop offset="0.400" stop-color="#c8e2ed"/><stop offset="0.444" stop-color="#aed3e5"/><stop offset="0.489" stop-color="#99c4df"/><stop offset="0.533" stop-color="#7cadd3"/><stop offset="0.578" stop-color="#6596c8"/><stop offset="0.622" stop-color="#6192c6"/><stop offset="0.667" stop-color="#6596c8"/><stop offset="0.711" stop-color="#6597c9"/><stop offset="0.756" stop-color="#6597c9"/><stop offset="0.800" stop-color="#699bcb"/><stop offset="0.844" stop-color="#699bcb"/><stop offset="0.889" stop-color="#699bcb"/><stop offset="0.933" stop-color="#699bcb"/><stop offset="0.978" stop-color="#699bcb"/></linearGradient><linearGradient id="g66" x1="0" y1="300" x2="0" y2="480" gradientUnits="userSpaceOnUse"><stop offset="0.000" stop-color="#e4f0ec"/><stop offset="0.044" stop-color="#e4f0ec"/><stop offset="0.089" stop-color="#e4f0ec"/><stop offset="0.133" stop-color="#e4f0ec"/><stop offset="0.178" stop-color="#e4f0ec"/><stop offset="0.222" stop-color="#e4f0ec"/><stop offset="0.267" stop-color="#dfeeee"/><stop offset="0.311" stop-color="#daecef"/><stop offset="0.356" stop-color="#d3e9f1"/><stop offset="0.400" stop-color="#c2dfec"/><stop offset="0.444" stop-color="#a6cde3"/><stop offset="0.489" stop-color="#8cbbda"/><stop offset="0.533" stop-color="#70a2ce"/><stop offset="0.578" stop-color="#6394c7"/><stop offset="0.622" stop-color="#6394c7"/><stop offset="0.667" stop-color="#6394c7"/><stop offset="0.711" stop-color="#6597c9"/><stop offset="0.756" stop-color="#6597c9"/><stop offset="0.800" stop-color="#5d8ec4"/><stop offset="0.844" stop-color="#699bcb"/><stop offset="0.889" stop-color="#699bcb"/><stop offset="0.933" stop-color="#699bcb"/><stop offset="0.978" stop-color="#699bcb"/></linearGradient><linearGradient id="g67" x1="0" y1="300" x2="0" y2="480" gradientUnits="userSpaceOnUse"><stop offset="0.000" stop-color="#e4f0ec"/><stop offset="0.044" stop-color="#e4f0ec"/><stop offset="0.089" stop-color="#e4f0ec"/><stop offset="0.133" stop-color="#e4f0ec"/><stop offset="0.178" stop-color="#e4f0ec"/><stop offset="0.222" stop-color="#e4f0ec"/><stop offset="0.267" stop-color="#deedee"/><stop offset="0.311" stop-color="#daecef"/><stop offset="0.356" stop-color="#d3e9f1"/><stop offset="0.400" stop-color="#b8d9e8"/><stop offset="0.444" stop-color="#9ec8e0"/><stop offset="0.489" stop-color="#82b2d6"/><stop offset="0.533" stop-color="#6597c8"/><stop offset="0.578" stop-color="#6192c6"/><stop offset="0.622" stop-color="#6596c8"/><stop offset="0.667" stop-color="#6193c7"/><stop offset="0.711" stop-color="#5d8ec4"/><stop offset="0.756" stop-color="#5d8ec4"/><stop offset="0.800" stop-color="#5d8ec4"/><stop offset="0.844" stop-color="#5d8ec4"/><stop offset="0.889" stop-color="#699bcb"/><stop offset="0.933" stop-color="#699bcb"/><stop offset="0.978" stop-color="#699bcb"/></linearGradient><linearGradient id="g68" x1="0" y1="300" x2="0" y2="480" gradientUnits="userSpaceOnUse"><stop offset="0.000" stop-color="#e4f0ec"/><stop offset="0.044" stop-color="#e4f0ec"/><stop offset="0.089" stop-color="#e4f0ec"/><stop offset="0.133" stop-color="#e4f0ec"/><stop offset="0.178" stop-color="#d7eaf0"/><stop offset="0.222" stop-color="#d7eaf0"/><stop offset="0.267" stop-color="#dcecee"/><stop offset="0.311" stop-color="#d9ebef"/><stop offset="0.356" stop-color="#cee5ef"/><stop offset="0.400" stop-color="#aed3e5"/><stop offset="0.444" stop-color="#95c2de"/><stop offset="0.489" stop-color="#79aad2"/><stop offset="0.533" stop-color="#6394c7"/><stop offset="0.578" stop-color="#5f90c5"/><stop offset="0.622" stop-color="#6697c9"/><stop offset="0.667" stop-color="#6394c7"/><stop offset="0.711" stop-color="#5d8ec4"/><stop offset="0.756" stop-color="#5d8ec4"/><stop offset="0.800" stop-color="#5d8ec4"/><stop offset="0.844" stop-color="#5d8ec4"/><stop offset="0.889" stop-color="#699bcb"/><stop offset="0.933" stop-color="#699bcb"/><stop offset="0.978" stop-color="#699bcb"/></linearGradient><linearGradient id="g69" x1="0" y1="300" x2="0" y2="480" gradientUnits="userSpaceOnUse"><stop offset="0.000" stop-color="#e4f0ec"/><stop offset="0.044" stop-color="#d7eaf0"/><stop offset="0.089" stop-color="#d7eaf0"/><stop offset="0.133" stop-color="#d7eaf0"/><stop offset="0.178" stop-color="#d7eaf0"/><stop offset="0.222" stop-color="#d7eaf0"/><stop offset="0.267" stop-color="#daecef"/><stop offset="0.311" stop-color="#d7eaf0"/><stop offset="0.356" stop-color="#c6e1ed"/><stop offset="0.400" stop-color="#a5cce3"/><stop offset="0.444" stop-color="#8bbada"/><stop offset="0.489" stop-color="#77a9d1"/><stop offset="0.533" stop-color="#6192c6"/><stop offset="0.578" stop-color="#6192c6"/><stop offset="0.622" stop-color="#6495c8"/><stop offset="0.667" stop-color="#5d8ec4"/><stop offset="0.711" stop-color="#5d8ec4"/><stop offset="0.756" stop-color="#5d8ec4"/><stop offset="0.800" stop-color="#5d8ec4"/><stop offset="0.844" stop-color="#5d8ec4"/><stop offset="0.889" stop-color="#5d8ec4"/><stop offset="0.933" stop-color="#699bcb"/><stop offset="0.978" stop-color="#699bcb"/></linearGradient><linearGradient id="g70" x1="0" y1="300" x2="0" y2="480" gradientUnits="userSpaceOnUse"><stop offset="0.000" stop-color="#d7eaf0"/><stop offset="0.044" stop-color="#d7eaf0"/><stop offset="0.089" stop-color="#d7eaf0"/><stop offset="0.133" stop-color="#d7eaf0"/><stop offset="0.178" stop-color="#d7eaf0"/><stop offset="0.222" stop-color="#d7eaf0"/><stop offset="0.267" stop-color="#d7eaf0"/><stop offset="0.311" stop-color="#d6eaf0"/><stop offset="0.356" stop-color="#c6e1ed"/><stop offset="0.400" stop-color="#a1cae1"/><stop offset="0.444" stop-color="#86b6d8"/><stop offset="0.489" stop-color="#75a7d0"/><stop offset="0.533" stop-color="#5f90c5"/><stop offset="0.578" stop-color="#6394c7"/><stop offset="0.622" stop-color="#6293c7"/><stop offset="0.667" stop-color="#5d8ec4"/><stop offset="0.711" stop-color="#5d8ec4"/><stop offset="0.756" stop-color="#5d8ec4"/><stop offset="0.800" stop-color="#5d8ec4"/><stop offset="0.844" stop-color="#5d8ec4"/><stop offset="0.889" stop-color="#5d8ec4"/><stop offset="0.933" stop-color="#5d8ec4"/><stop offset="0.978" stop-color="#699bcb"/></linearGradient><linearGradient id="g71" x1="0" y1="300" x2="0" y2="480" gradientUnits="userSpaceOnUse"><stop offset="0.000" stop-color="#d7eaf0"/><stop offset="0.044" stop-color="#d7eaf0"/><stop offset="0.089" stop-color="#d7eaf0"/><stop offset="0.133" stop-color="#d7eaf0"/><stop offset="0.178" stop-color="#d7eaf0"/><stop offset="0.222" stop-color="#d7eaf0"/><stop offset="0.267" stop-color="#d7eaf0"/><stop offset="0.311" stop-color="#d3e8f1"/><stop offset="0.356" stop-color="#c6e1ed"/><stop offset="0.400" stop-color="#a1cae1"/><stop offset="0.444" stop-color="#83b3d7"/><stop offset="0.489" stop-color="#71a3ce"/><stop offset="0.533" stop-color="#5d8ec4"/><stop offset="0.578" stop-color="#6596c8"/><stop offset="0.622" stop-color="#5f91c6"/><stop offset="0.667" stop-color="#5d8ec4"/><stop offset="0.711" stop-color="#5d8ec4"/><stop offset="0.756" stop-color="#5d8ec4"/><stop offset="0.800" stop-color="#5d8ec4"/><stop offset="0.844" stop-color="#5d8ec4"/><stop offset="0.889" stop-color="#5d8ec4"/><stop offset="0.933" stop-color="#5d8ec4"/><stop offset="0.978" stop-color="#5d8ec4"/></linearGradient><linearGradient id="g72" x1="0" y1="300" x2="0" y2="480" gradientUnits="userSpaceOnUse"><stop offset="0.000" stop-color="#d7eaf0"/><stop offset="0.044" stop-color="#d7eaf0"/><stop offset="0.089" stop-color="#d7eaf0"/><stop offset="0.133" stop-color="#d7eaf0"/><stop offset="0.178" stop-color="#d7eaf0"/><stop offset="0.222" stop-color="#d7eaf0"/><stop offset="0.267" stop-color="#d7eaf0"/><stop offset="0.311" stop-color="#cfe6f0"/><stop offset="0.356" stop-color="#c6e1ed"/><stop offset="0.400" stop-color="#a2cae2"/><stop offset="0.444" stop-color="#84b4d7"/><stop offset="0.489" stop-color="#6c9ecc"/><stop offset="0.533" stop-color="#5f90c5"/><stop offset="0.578" stop-color="#6596c8"/><stop offset="0.622" stop-color="#5f91c6"/><stop offset="0.667" stop-color="#5d8ec4"/><stop offset="0.711" stop-color="#5d8ec4"/><stop offset="0.756" stop-color="#5d8ec4"/><stop offset="0.800" stop-color="#5d8ec4"/><stop offset="0.844" stop-color="#6597c9"/><stop offset="0.889" stop-color="#6597c9"/><stop offset="0.933" stop-color="#6597c9"/><stop offset="0.978" stop-color="#6597c9"/></linearGradient><linearGradient id="g73" x1="0" y1="300" x2="0" y2="480" gradientUnits="userSpaceOnUse"><stop offset="0.000" stop-color="#d7eaf0"/><stop offset="0.044" stop-color="#d7eaf0"/><stop offset="0.089" stop-color="#d7eaf0"/><stop offset="0.133" stop-color="#d7eaf0"/><stop offset="0.178" stop-color="#d7eaf0"/><stop offset="0.222" stop-color="#d7eaf0"/><stop offset="0.267" stop-color="#d7eaf0"/><stop offset="0.311" stop-color="#c1deeb"/><stop offset="0.356" stop-color="#c4dfec"/><stop offset="0.400" stop-color="#a3cbe2"/><stop offset="0.444" stop-color="#85b5d7"/><stop offset="0.489" stop-color="#689aca"/><stop offset="0.533" stop-color="#6192c6"/><stop offset="0.578" stop-color="#6294c7"/><stop offset="0.622" stop-color="#6597c9"/><stop offset="0.667" stop-color="#6597c9"/><stop offset="0.711" stop-color="#6597c9"/><stop offset="0.756" stop-color="#6597c9"/><stop offset="0.800" stop-color="#6597c9"/><stop offset="0.844" stop-color="#6597c9"/><stop offset="0.889" stop-color="#6597c9"/><stop offset="0.933" stop-color="#6597c9"/><stop offset="0.978" stop-color="#5a8cc3"/></linearGradient><linearGradient id="g74" x1="0" y1="300" x2="0" y2="480" gradientUnits="userSpaceOnUse"><stop offset="0.000" stop-color="#d7eaf0"/><stop offset="0.044" stop-color="#d7eaf0"/><stop offset="0.089" stop-color="#d7eaf0"/><stop offset="0.133" stop-color="#d7eaf0"/><stop offset="0.178" stop-color="#d7eaf0"/><stop offset="0.222" stop-color="#d7eaf0"/><stop offset="0.267" stop-color="#d7eaf0"/><stop offset="0.311" stop-color="#c8e2ed"/><stop offset="0.356" stop-color="#c3dfec"/><stop offset="0.400" stop-color="#a2cbe2"/><stop offset="0.444" stop-color="#85b4d7"/><stop offset="0.489" stop-color="#6799ca"/><stop offset="0.533" stop-color="#6395c8"/><stop offset="0.578" stop-color="#6092c6"/><stop offset="0.622" stop-color="#6597c9"/><stop offset="0.667" stop-color="#6597c9"/><stop offset="0.711" stop-color="#6597c9"/><stop offset="0.756" stop-color="#6597c9"/><stop offset="0.800" stop-color="#6597c9"/><stop offset="0.844" stop-color="#5a8cc3"/><stop offset="0.889" stop-color="#5a8cc3"/><stop offset="0.933" stop-color="#5a8cc3"/><stop offset="0.978" stop-color="#5a8cc3"/></linearGradient><linearGradient id="g75" x1="0" y1="300" x2="0" y2="480" gradientUnits="userSpaceOnUse"><stop offset="0.000" stop-color="#d7eaf0"/><stop offset="0.044" stop-color="#d7eaf0"/><stop offset="0.089" stop-color="#d7eaf0"/><stop offset="0.133" stop-color="#d7eaf0"/><stop offset="0.178" stop-color="#d7eaf0"/><stop offset="0.222" stop-color="#d7eaf0"/><stop offset="0.267" stop-color="#c8e2ed"/><stop offset="0.311" stop-color="#c8e2ed"/><stop offset="0.356" stop-color="#bedcea"/><stop offset="0.400" stop-color="#9fc8e1"/><stop offset="0.444" stop-color="#83b2d6"/><stop offset="0.489" stop-color="#6ea0cd"/><stop offset="0.533" stop-color="#6698c9"/><stop offset="0.578" stop-color="#5e90c5"/><stop offset="0.622" stop-color="#6597c9"/><stop offset="0.667" stop-color="#6597c9"/><stop offset="0.711" stop-color="#6597c9"/><stop offset="0.756" stop-color="#5a8cc3"/><stop offset="0.800" stop-color="#5a8cc3"/><stop offset="0.844" stop-color="#5a8cc3"/><stop offset="0.889" stop-color="#5a8cc3"/><stop offset="0.933" stop-color="#5a8cc3"/><stop offset="0.978" stop-color="#5a8cc3"/></linearGradient><linearGradient id="g76" x1="0" y1="300" x2="0" y2="480" gradientUnits="userSpaceOnUse"><stop offset="0.000" stop-color="#d7eaf0"/><stop offset="0.044" stop-color="#d7eaf0"/><stop offset="0.089" stop-color="#d7eaf0"/><stop offset="0.133" stop-color="#d7eaf0"/><stop offset="0.178" stop-color="#d7eaf0"/><stop offset="0.222" stop-color="#d7eaf0"/><stop offset="0.267" stop-color="#c8e2ed"/><stop offset="0.311" stop-color="#c8e2ed"/><stop offset="0.356" stop-color="#c8e2ed"/><stop offset="0.400" stop-color="#9ac5df"/><stop offset="0.444" stop-color="#80b0d5"/><stop offset="0.489" stop-color="#71a3ce"/><stop offset="0.533" stop-color="#6496c8"/><stop offset="0.578" stop-color="#5c8dc4"/><stop offset="0.622" stop-color="#5a8cc3"/><stop offset="0.667" stop-color="#5a8cc3"/><stop offset="0.711" stop-color="#5a8cc3"/><stop offset="0.756" stop-color="#5a8cc3"/><stop offset="0.800" stop-color="#5a8cc3"/><stop offset="0.844" stop-color="#5a8cc3"/><stop offset="0.889" stop-color="#5a8cc3"/><stop offset="0.933" stop-color="#5a8cc3"/><stop offset="0.978" stop-color="#5a8cc3"/></linearGradient><linearGradient id="g77" x1="0" y1="300" x2="0" y2="480" gradientUnits="userSpaceOnUse"><stop offset="0.000" stop-color="#d7eaf0"/><stop offset="0.044" stop-color="#d7eaf0"/><stop offset="0.089" stop-color="#d7eaf0"/><stop offset="0.133" stop-color="#d7eaf0"/><stop offset="0.178" stop-color="#d7eaf0"/><stop offset="0.222" stop-color="#c8e2ed"/><stop offset="0.267" stop-color="#c8e2ed"/><stop offset="0.311" stop-color="#c8e2ed"/><stop offset="0.356" stop-color="#94c1dd"/><stop offset="0.400" stop-color="#95c2de"/><stop offset="0.444" stop-color="#7fafd5"/><stop offset="0.489" stop-color="#6ea0cd"/><stop offset="0.533" stop-color="#6294c7"/><stop offset="0.578" stop-color="#5a8cc3"/><stop offset="0.622" stop-color="#5a8cc3"/><stop offset="0.667" stop-color="#5a8cc3"/><stop offset="0.711" stop-color="#5a8cc3"/><stop offset="0.756" stop-color="#5a8cc3"/><stop offset="0.800" stop-color="#5a8cc3"/><stop offset="0.844" stop-color="#5a8cc3"/><stop offset="0.889" stop-color="#5a8cc3"/><stop offset="0.933" stop-color="#5a8cc3"/><stop offset="0.978" stop-color="#5a8cc3"/></linearGradient><linearGradient id="g78" x1="0" y1="300" x2="0" y2="480" gradientUnits="userSpaceOnUse"><stop offset="0.000" stop-color="#d7eaf0"/><stop offset="0.044" stop-color="#d7eaf0"/><stop offset="0.089" stop-color="#d7eaf0"/><stop offset="0.133" stop-color="#d7eaf0"/><stop offset="0.178" stop-color="#c8e2ed"/><stop offset="0.222" stop-color="#c8e2ed"/><stop offset="0.267" stop-color="#c8e2ed"/><stop offset="0.311" stop-color="#c8e2ed"/><stop offset="0.356" stop-color="#94c1dd"/><stop offset="0.400" stop-color="#94c1dd"/><stop offset="0.444" stop-color="#7fb0d5"/><stop offset="0.489" stop-color="#6c9ecc"/><stop offset="0.533" stop-color="#6192c6"/><stop offset="0.578" stop-color="#5a8cc3"/><stop offset="0.622" stop-color="#5a8cc3"/><stop offset="0.667" stop-color="#5a8cc3"/><stop offset="0.711" stop-color="#5a8cc3"/><stop offset="0.756" stop-color="#5a8cc3"/><stop offset="0.800" stop-color="#5a8cc3"/><stop offset="0.844" stop-color="#5a8cc3"/><stop offset="0.889" stop-color="#5a8cc3"/><stop offset="0.933" stop-color="#5a8cc3"/><stop offset="0.978" stop-color="#5a8cc3"/></linearGradient><linearGradient id="g79" x1="0" y1="300" x2="0" y2="480" gradientUnits="userSpaceOnUse"><stop offset="0.000" stop-color="#d7eaf0"/><stop offset="0.044" stop-color="#d7eaf0"/><stop offset="0.089" stop-color="#d7eaf0"/><stop offset="0.133" stop-color="#d7eaf0"/><stop offset="0.178" stop-color="#c8e2ed"/><stop offset="0.222" stop-color="#c8e2ed"/><stop offset="0.267" stop-color="#c8e2ed"/><stop offset="0.311" stop-color="#94c1dd"/><stop offset="0.356" stop-color="#94c1dd"/><stop offset="0.400" stop-color="#94c1dd"/><stop offset="0.444" stop-color="#699bcb"/><stop offset="0.489" stop-color="#699bcb"/><stop offset="0.533" stop-color="#5f91c6"/><stop offset="0.578" stop-color="#5a8cc3"/><stop offset="0.622" stop-color="#5a8cc3"/><stop offset="0.667" stop-color="#5a8cc3"/><stop offset="0.711" stop-color="#5a8cc3"/><stop offset="0.756" stop-color="#5a8cc3"/><stop offset="0.800" stop-color="#5a8cc3"/><stop offset="0.844" stop-color="#5a8cc3"/><stop offset="0.889" stop-color="#5a8cc3"/><stop offset="0.933" stop-color="#5a8cc3"/><stop offset="0.978" stop-color="#5a8cc3"/></linearGradient><linearGradient id="g80" x1="0" y1="300" x2="0" y2="480" gradientUnits="userSpaceOnUse"><stop offset="0.000" stop-color="#d7eaf0"/><stop offset="0.044" stop-color="#d7eaf0"/><stop offset="0.089" stop-color="#d7eaf0"/><stop offset="0.133" stop-color="#c8e2ed"/><stop offset="0.178" stop-color="#c8e2ed"/><stop offset="0.222" stop-color="#c8e2ed"/><stop offset="0.267" stop-color="#c8e2ed"/><stop offset="0.311" stop-color="#94c1dd"/><stop offset="0.356" stop-color="#94c1dd"/><stop offset="0.400" stop-color="#94c1dd"/><stop offset="0.444" stop-color="#699bcb"/><stop offset="0.489" stop-color="#6ea0cd"/><stop offset="0.533" stop-color="#6597c9"/><stop offset="0.578" stop-color="#5a8cc3"/><stop offset="0.622" stop-color="#5a8cc3"/><stop offset="0.667" stop-color="#5a8cc3"/><stop offset="0.711" stop-color="#5a8cc3"/><stop offset="0.756" stop-color="#5a8cc3"/><stop offset="0.800" stop-color="#5a8cc3"/><stop offset="0.844" stop-color="#5a8cc3"/><stop offset="0.889" stop-color="#5a8cc3"/><stop offset="0.933" stop-color="#5a8cc3"/><stop offset="0.978" stop-color="#5a8cc3"/></linearGradient><linearGradient id="g81" x1="0" y1="300" x2="0" y2="480" gradientUnits="userSpaceOnUse"><stop offset="0.000" stop-color="#d7eaf0"/><stop offset="0.044" stop-color="#d7eaf0"/><stop offset="0.089" stop-color="#c8e2ed"/><stop offset="0.133" stop-color="#c8e2ed"/><stop offset="0.178" stop-color="#c8e2ed"/><stop offset="0.222" stop-color="#c8e2ed"/><stop offset="0.267" stop-color="#94c1dd"/><stop offset="0.311" stop-color="#94c1dd"/><stop offset="0.356" stop-color="#94c1dd"/><stop offset="0.400" stop-color="#94c1dd"/><stop offset="0.444" stop-color="#699bcb"/><stop offset="0.489" stop-color="#6597c9"/><stop offset="0.533" stop-color="#6597c9"/><stop offset="0.578" stop-color="#5a8cc3"/><stop offset="0.622" stop-color="#5a8cc3"/><stop offset="0.667" stop-color="#5a8cc3"/><stop offset="0.711" stop-color="#5a8cc3"/><stop offset="0.756" stop-color="#5a8cc3"/><stop offset="0.800" stop-color="#5a8cc3"/><stop offset="0.844" stop-color="#5a8cc3"/><stop offset="0.889" stop-color="#5a8cc3"/><stop offset="0.933" stop-color="#5a8cc3"/><stop offset="0.978" stop-color="#5a8cc3"/></linearGradient><linearGradient id="g82" x1="0" y1="300" x2="0" y2="480" gradientUnits="userSpaceOnUse"><stop offset="0.000" stop-color="#d7eaf0"/><stop offset="0.044" stop-color="#d7eaf0"/><stop offset="0.089" stop-color="#c8e2ed"/><stop offset="0.133" stop-color="#c8e2ed"/><stop offset="0.178" stop-color="#c8e2ed"/><stop offset="0.222" stop-color="#c8e2ed"/><stop offset="0.267" stop-color="#94c1dd"/><stop offset="0.311" stop-color="#94c1dd"/><stop offset="0.356" stop-color="#94c1dd"/><stop offset="0.400" stop-color="#94c1dd"/><stop offset="0.444" stop-color="#6597c9"/><stop offset="0.489" stop-color="#6597c9"/><stop offset="0.533" stop-color="#6597c9"/><stop offset="0.578" stop-color="#6597c9"/><stop offset="0.622" stop-color="#5a8cc3"/><stop offset="0.667" stop-color="#5a8cc3"/><stop offset="0.711" stop-color="#5a8cc3"/><stop offset="0.756" stop-color="#5a8cc3"/><stop offset="0.800" stop-color="#5a8cc3"/><stop offset="0.844" stop-color="#5a8cc3"/><stop offset="0.889" stop-color="#5a8cc3"/><stop offset="0.933" stop-color="#5a8cc3"/><stop offset="0.978" stop-color="#5a8cc3"/></linearGradient></defs>
<g clip-path="url(#surfclip)" shape-rendering="crispEdges"><rect x="564" y="300" width="4" height="180" fill="url(#g0)"/><rect x="568" y="300" width="4" height="180" fill="url(#g1)"/><rect x="572" y="300" width="4" height="180" fill="url(#g2)"/><rect x="576" y="300" width="4" height="180" fill="url(#g3)"/><rect x="580" y="300" width="4" height="180" fill="url(#g4)"/><rect x="584" y="300" width="4" height="180" fill="url(#g5)"/><rect x="588" y="300" width="4" height="180" fill="url(#g6)"/><rect x="592" y="300" width="4" height="180" fill="url(#g7)"/><rect x="596" y="300" width="4" height="180" fill="url(#g8)"/><rect x="600" y="300" width="4" height="180" fill="url(#g9)"/><rect x="604" y="300" width="4" height="180" fill="url(#g10)"/><rect x="608" y="300" width="4" height="180" fill="url(#g11)"/><rect x="612" y="300" width="4" height="180" fill="url(#g12)"/><rect x="616" y="300" width="4" height="180" fill="url(#g13)"/><rect x="620" y="300" width="4" height="180" fill="url(#g14)"/><rect x="624" y="300" width="4" height="180" fill="url(#g15)"/><rect x="628" y="300" width="4" height="180" fill="url(#g16)"/><rect x="632" y="300" width="4" height="180" fill="url(#g17)"/><rect x="636" y="300" width="4" height="180" fill="url(#g18)"/><rect x="640" y="300" width="4" height="180" fill="url(#g19)"/><rect x="644" y="300" width="4" height="180" fill="url(#g20)"/><rect x="648" y="300" width="4" height="180" fill="url(#g21)"/><rect x="652" y="300" width="4" height="180" fill="url(#g22)"/><rect x="656" y="300" width="4" height="180" fill="url(#g23)"/><rect x="660" y="300" width="4" height="180" fill="url(#g24)"/><rect x="664" y="300" width="4" height="180" fill="url(#g25)"/><rect x="668" y="300" width="4" height="180" fill="url(#g26)"/><rect x="672" y="300" width="4" height="180" fill="url(#g27)"/><rect x="676" y="300" width="4" height="180" fill="url(#g28)"/><rect x="680" y="300" width="4" height="180" fill="url(#g29)"/><rect x="684" y="300" width="4" height="180" fill="url(#g30)"/><rect x="688" y="300" width="4" height="180" fill="url(#g31)"/><rect x="692" y="300" width="4" height="180" fill="url(#g32)"/><rect x="696" y="300" width="4" height="180" fill="url(#g33)"/><rect x="700" y="300" width="4" height="180" fill="url(#g34)"/><rect x="704" y="300" width="4" height="180" fill="url(#g35)"/><rect x="708" y="300" width="4" height="180" fill="url(#g36)"/><rect x="712" y="300" width="4" height="180" fill="url(#g37)"/><rect x="716" y="300" width="4" height="180" fill="url(#g38)"/><rect x="720" y="300" width="4" height="180" fill="url(#g39)"/><rect x="724" y="300" width="4" height="180" fill="url(#g40)"/><rect x="728" y="300" width="4" height="180" fill="url(#g41)"/><rect x="732" y="300" width="4" height="180" fill="url(#g42)"/><rect x="736" y="300" width="4" height="180" fill="url(#g43)"/><rect x="740" y="300" width="4" height="180" fill="url(#g44)"/><rect x="744" y="300" width="4" height="180" fill="url(#g45)"/><rect x="748" y="300" width="4" height="180" fill="url(#g46)"/><rect x="752" y="300" width="4" height="180" fill="url(#g47)"/><rect x="756" y="300" width="4" height="180" fill="url(#g48)"/><rect x="760" y="300" width="4" height="180" fill="url(#g49)"/><rect x="764" y="300" width="4" height="180" fill="url(#g50)"/><rect x="768" y="300" width="4" height="180" fill="url(#g51)"/><rect x="772" y="300" width="4" height="180" fill="url(#g52)"/><rect x="776" y="300" width="4" height="180" fill="url(#g53)"/><rect x="780" y="300" width="4" height="180" fill="url(#g54)"/><rect x="784" y="300" width="4" height="180" fill="url(#g55)"/><rect x="788" y="300" width="4" height="180" fill="url(#g56)"/><rect x="792" y="300" width="4" height="180" fill="url(#g57)"/><rect x="796" y="300" width="4" height="180" fill="url(#g58)"/><rect x="800" y="300" width="4" height="180" fill="url(#g59)"/><rect x="804" y="300" width="4" height="180" fill="url(#g60)"/><rect x="808" y="300" width="4" height="180" fill="url(#g61)"/><rect x="812" y="300" width="4" height="180" fill="url(#g62)"/><rect x="816" y="300" width="4" height="180" fill="url(#g63)"/><rect x="820" y="300" width="4" height="180" fill="url(#g64)"/><rect x="824" y="300" width="4" height="180" fill="url(#g65)"/><rect x="828" y="300" width="4" height="180" fill="url(#g66)"/><rect x="832" y="300" width="4" height="180" fill="url(#g67)"/><rect x="836" y="300" width="4" height="180" fill="url(#g68)"/><rect x="840" y="300" width="4" height="180" fill="url(#g69)"/><rect x="844" y="300" width="4" height="180" fill="url(#g70)"/><rect x="848" y="300" width="4" height="180" fill="url(#g71)"/><rect x="852" y="300" width="4" height="180" fill="url(#g72)"/><rect x="856" y="300" width="4" height="180" fill="url(#g73)"/><rect x="860" y="300" width="4" height="180" fill="url(#g74)"/><rect x="864" y="300" width="4" height="180" fill="url(#g75)"/><rect x="868" y="300" width="4" height="180" fill="url(#g76)"/><rect x="872" y="300" width="4" height="180" fill="url(#g77)"/><rect x="876" y="300" width="4" height="180" fill="url(#g78)"/><rect x="880" y="300" width="4" height="180" fill="url(#g79)"/><rect x="884" y="300" width="4" height="180" fill="url(#g80)"/><rect x="888" y="300" width="4" height="180" fill="url(#g81)"/><rect x="892" y="300" width="4" height="180" fill="url(#g82)"/><line x1="815.5" y1="370.5" x2="815.5" y2="387.1" stroke="#2f5f9a" stroke-opacity="0.04" stroke-width="1"/><line x1="789.5" y1="339.7" x2="789.5" y2="373.1" stroke="#2f5f9a" stroke-opacity="0.07" stroke-width="1"/><line x1="627.5" y1="378.2" x2="627.5" y2="416.3" stroke="#2f5f9a" stroke-opacity="0.04" stroke-width="1"/><line x1="890.5" y1="391.7" x2="890.5" y2="405.9" stroke="#ffffff" stroke-opacity="0.07" stroke-width="1"/><line x1="791.5" y1="386.8" x2="791.5" y2="412.0" stroke="#2f5f9a" stroke-opacity="0.07" stroke-width="1"/><line x1="765.5" y1="385.9" x2="765.5" y2="434.9" stroke="#2f5f9a" stroke-opacity="0.05" stroke-width="1"/><line x1="602.5" y1="395.8" x2="602.5" y2="431.2" stroke="#ffffff" stroke-opacity="0.10" stroke-width="1"/><line x1="670.5" y1="397.8" x2="670.5" y2="423.2" stroke="#ffffff" stroke-opacity="0.05" stroke-width="1"/><line x1="673.5" y1="341.4" x2="673.5" y2="388.8" stroke="#ffffff" stroke-opacity="0.05" stroke-width="1"/><line x1="590.5" y1="382.6" x2="590.5" y2="431.8" stroke="#2f5f9a" stroke-opacity="0.05" stroke-width="1"/><line x1="719.5" y1="365.5" x2="719.5" y2="383.2" stroke="#2f5f9a" stroke-opacity="0.09" stroke-width="1"/><line x1="722.5" y1="365.6" x2="722.5" y2="387.0" stroke="#2f5f9a" stroke-opacity="0.03" stroke-width="1"/><line x1="570.5" y1="421.9" x2="570.5" y2="432.6" stroke="#2f5f9a" stroke-opacity="0.05" stroke-width="1"/><line x1="778.5" y1="402.7" x2="778.5" y2="433.4" stroke="#2f5f9a" stroke-opacity="0.05" stroke-width="1"/><line x1="835.5" y1="349.5" x2="835.5" y2="379.0" stroke="#2f5f9a" stroke-opacity="0.10" stroke-width="1"/><line x1="628.5" y1="368.7" x2="628.5" y2="386.7" stroke="#2f5f9a" stroke-opacity="0.09" stroke-width="1"/><line x1="777.5" y1="363.6" x2="777.5" y2="403.4" stroke="#2f5f9a" stroke-opacity="0.07" stroke-width="1"/><line x1="830.5" y1="361.8" x2="830.5" y2="395.1" stroke="#2f5f9a" stroke-opacity="0.06" stroke-width="1"/><line x1="733.5" y1="416.5" x2="733.5" y2="443.6" stroke="#ffffff" stroke-opacity="0.08" stroke-width="1"/><line x1="742.5" y1="401.9" x2="742.5" y2="453.3" stroke="#2f5f9a" stroke-opacity="0.09" stroke-width="1"/><line x1="814.5" y1="349.3" x2="814.5" y2="395.0" stroke="#2f5f9a" stroke-opacity="0.08" stroke-width="1"/><line x1="848.5" y1="375.9" x2="848.5" y2="394.1" stroke="#2f5f9a" stroke-opacity="0.07" stroke-width="1"/><line x1="888.5" y1="391.6" x2="888.5" y2="407.6" stroke="#2f5f9a" stroke-opacity="0.04" stroke-width="1"/><line x1="853.5" y1="383.3" x2="853.5" y2="402.2" stroke="#2f5f9a" stroke-opacity="0.05" stroke-width="1"/><line x1="837.5" y1="372.4" x2="837.5" y2="401.4" stroke="#ffffff" stroke-opacity="0.06" stroke-width="1"/><line x1="577.5" y1="418.7" x2="577.5" y2="435.5" stroke="#2f5f9a" stroke-opacity="0.07" stroke-width="1"/><line x1="728.5" y1="397.4" x2="728.5" y2="418.7" stroke="#2f5f9a" stroke-opacity="0.07" stroke-width="1"/><line x1="869.5" y1="370.7" x2="869.5" y2="403.6" stroke="#2f5f9a" stroke-opacity="0.08" stroke-width="1"/><line x1="863.5" y1="376.5" x2="863.5" y2="396.1" stroke="#2f5f9a" stroke-opacity="0.07" stroke-width="1"/><line x1="790.5" y1="340.9" x2="790.5" y2="390.2" stroke="#ffffff" stroke-opacity="0.04" stroke-width="1"/><line x1="835.5" y1="357.6" x2="835.5" y2="374.6" stroke="#ffffff" stroke-opacity="0.07" stroke-width="1"/><line x1="595.5" y1="395.6" x2="595.5" y2="431.3" stroke="#2f5f9a" stroke-opacity="0.06" stroke-width="1"/><line x1="785.5" y1="339.4" x2="785.5" y2="366.7" stroke="#ffffff" stroke-opacity="0.07" stroke-width="1"/><line x1="689.5" y1="399.4" x2="689.5" y2="447.8" stroke="#2f5f9a" stroke-opacity="0.08" stroke-width="1"/><line x1="614.5" y1="405.6" x2="614.5" y2="430.7" stroke="#2f5f9a" stroke-opacity="0.04" stroke-width="1"/><line x1="690.5" y1="334.6" x2="690.5" y2="394.3" stroke="#ffffff" stroke-opacity="0.09" stroke-width="1"/><line x1="625.5" y1="376.1" x2="625.5" y2="429.1" stroke="#2f5f9a" stroke-opacity="0.04" stroke-width="1"/><line x1="606.5" y1="386.9" x2="606.5" y2="431.1" stroke="#2f5f9a" stroke-opacity="0.06" stroke-width="1"/><line x1="847.5" y1="374.6" x2="847.5" y2="402.8" stroke="#2f5f9a" stroke-opacity="0.05" stroke-width="1"/><line x1="691.5" y1="362.9" x2="691.5" y2="385.6" stroke="#ffffff" stroke-opacity="0.09" stroke-width="1"/><line x1="701.5" y1="364.4" x2="701.5" y2="421.7" stroke="#2f5f9a" stroke-opacity="0.09" stroke-width="1"/><line x1="627.5" y1="363.2" x2="627.5" y2="380.5" stroke="#2f5f9a" stroke-opacity="0.03" stroke-width="1"/><line x1="650.5" y1="362.0" x2="650.5" y2="404.5" stroke="#2f5f9a" stroke-opacity="0.06" stroke-width="1"/><line x1="869.5" y1="373.2" x2="869.5" y2="403.6" stroke="#2f5f9a" stroke-opacity="0.08" stroke-width="1"/><line x1="688.5" y1="385.5" x2="688.5" y2="443.7" stroke="#2f5f9a" stroke-opacity="0.05" stroke-width="1"/><line x1="723.5" y1="392.7" x2="723.5" y2="451.6" stroke="#2f5f9a" stroke-opacity="0.05" stroke-width="1"/><line x1="710.5" y1="383.0" x2="710.5" y2="440.0" stroke="#2f5f9a" stroke-opacity="0.07" stroke-width="1"/><line x1="893.5" y1="392.6" x2="893.5" y2="404.1" stroke="#ffffff" stroke-opacity="0.08" stroke-width="1"/><line x1="692.5" y1="397.5" x2="692.5" y2="417.3" stroke="#2f5f9a" stroke-opacity="0.10" stroke-width="1"/><line x1="888.5" y1="390.5" x2="888.5" y2="407.6" stroke="#2f5f9a" stroke-opacity="0.09" stroke-width="1"/><line x1="740.5" y1="397.4" x2="740.5" y2="416.9" stroke="#2f5f9a" stroke-opacity="0.06" stroke-width="1"/><line x1="692.5" y1="382.8" x2="692.5" y2="430.3" stroke="#2f5f9a" stroke-opacity="0.09" stroke-width="1"/><line x1="725.5" y1="367.0" x2="725.5" y2="408.9" stroke="#2f5f9a" stroke-opacity="0.08" stroke-width="1"/><line x1="863.5" y1="381.6" x2="863.5" y2="401.7" stroke="#ffffff" stroke-opacity="0.06" stroke-width="1"/><line x1="854.5" y1="363.2" x2="854.5" y2="393.4" stroke="#ffffff" stroke-opacity="0.07" stroke-width="1"/><line x1="696.5" y1="388.2" x2="696.5" y2="412.8" stroke="#ffffff" stroke-opacity="0.06" stroke-width="1"/><line x1="778.5" y1="354.0" x2="778.5" y2="373.0" stroke="#ffffff" stroke-opacity="0.07" stroke-width="1"/><line x1="635.5" y1="377.9" x2="635.5" y2="406.4" stroke="#2f5f9a" stroke-opacity="0.05" stroke-width="1"/><line x1="804.5" y1="378.2" x2="804.5" y2="404.8" stroke="#ffffff" stroke-opacity="0.06" stroke-width="1"/><line x1="849.5" y1="370.0" x2="849.5" y2="395.8" stroke="#2f5f9a" stroke-opacity="0.08" stroke-width="1"/><line x1="830.5" y1="368.7" x2="830.5" y2="395.1" stroke="#2f5f9a" stroke-opacity="0.03" stroke-width="1"/><line x1="871.5" y1="381.1" x2="871.5" y2="404.9" stroke="#2f5f9a" stroke-opacity="0.05" stroke-width="1"/><line x1="670.5" y1="410.8" x2="670.5" y2="433.3" stroke="#2f5f9a" stroke-opacity="0.05" stroke-width="1"/><line x1="604.5" y1="387.2" x2="604.5" y2="411.3" stroke="#ffffff" stroke-opacity="0.06" stroke-width="1"/><line x1="717.5" y1="355.7" x2="717.5" y2="388.2" stroke="#2f5f9a" stroke-opacity="0.03" stroke-width="1"/><line x1="818.5" y1="346.7" x2="818.5" y2="398.7" stroke="#2f5f9a" stroke-opacity="0.09" stroke-width="1"/><line x1="851.5" y1="378.1" x2="851.5" y2="403.1" stroke="#2f5f9a" stroke-opacity="0.06" stroke-width="1"/><line x1="655.5" y1="396.3" x2="655.5" y2="421.0" stroke="#ffffff" stroke-opacity="0.09" stroke-width="1"/><line x1="821.5" y1="347.4" x2="821.5" y2="372.5" stroke="#2f5f9a" stroke-opacity="0.03" stroke-width="1"/><line x1="780.5" y1="391.4" x2="780.5" y2="427.2" stroke="#ffffff" stroke-opacity="0.07" stroke-width="1"/><line x1="826.5" y1="373.1" x2="826.5" y2="396.1" stroke="#ffffff" stroke-opacity="0.04" stroke-width="1"/><line x1="784.5" y1="366.6" x2="784.5" y2="385.2" stroke="#2f5f9a" stroke-opacity="0.08" stroke-width="1"/><line x1="837.5" y1="351.0" x2="837.5" y2="380.0" stroke="#ffffff" stroke-opacity="0.08" stroke-width="1"/><line x1="868.5" y1="379.7" x2="868.5" y2="395.5" stroke="#2f5f9a" stroke-opacity="0.04" stroke-width="1"/><line x1="822.5" y1="370.7" x2="822.5" y2="397.2" stroke="#2f5f9a" stroke-opacity="0.06" stroke-width="1"/><line x1="600.5" y1="396.2" x2="600.5" y2="431.2" stroke="#ffffff" stroke-opacity="0.05" stroke-width="1"/><line x1="581.5" y1="421.5" x2="581.5" y2="434.4" stroke="#ffffff" stroke-opacity="0.04" stroke-width="1"/><line x1="794.5" y1="342.7" x2="794.5" y2="363.0" stroke="#2f5f9a" stroke-opacity="0.05" stroke-width="1"/><line x1="717.5" y1="348.9" x2="717.5" y2="389.3" stroke="#2f5f9a" stroke-opacity="0.09" stroke-width="1"/><line x1="625.5" y1="364.6" x2="625.5" y2="406.7" stroke="#2f5f9a" stroke-opacity="0.10" stroke-width="1"/><line x1="605.5" y1="401.6" x2="605.5" y2="423.7" stroke="#2f5f9a" stroke-opacity="0.04" stroke-width="1"/><line x1="592.5" y1="392.0" x2="592.5" y2="420.7" stroke="#2f5f9a" stroke-opacity="0.08" stroke-width="1"/><line x1="641.5" y1="375.7" x2="641.5" y2="431.9" stroke="#2f5f9a" stroke-opacity="0.04" stroke-width="1"/><line x1="643.5" y1="411.3" x2="643.5" y2="443.4" stroke="#2f5f9a" stroke-opacity="0.08" stroke-width="1"/><line x1="616.5" y1="371.5" x2="616.5" y2="409.0" stroke="#2f5f9a" stroke-opacity="0.09" stroke-width="1"/><line x1="696.5" y1="406.2" x2="696.5" y2="444.0" stroke="#ffffff" stroke-opacity="0.05" stroke-width="1"/><line x1="852.5" y1="368.4" x2="852.5" y2="386.9" stroke="#2f5f9a" stroke-opacity="0.05" stroke-width="1"/><line x1="727.5" y1="401.0" x2="727.5" y2="451.9" stroke="#2f5f9a" stroke-opacity="0.10" stroke-width="1"/><line x1="854.5" y1="383.8" x2="854.5" y2="401.8" stroke="#2f5f9a" stroke-opacity="0.07" stroke-width="1"/><line x1="587.5" y1="409.6" x2="587.5" y2="432.6" stroke="#2f5f9a" stroke-opacity="0.08" stroke-width="1"/><line x1="619.5" y1="393.4" x2="619.5" y2="428.1" stroke="#2f5f9a" stroke-opacity="0.10" stroke-width="1"/><line x1="680.5" y1="409.9" x2="680.5" y2="432.0" stroke="#2f5f9a" stroke-opacity="0.05" stroke-width="1"/><line x1="590.5" y1="397.9" x2="590.5" y2="419.0" stroke="#ffffff" stroke-opacity="0.07" stroke-width="1"/><line x1="639.5" y1="410.4" x2="639.5" y2="439.5" stroke="#2f5f9a" stroke-opacity="0.07" stroke-width="1"/><line x1="831.5" y1="344.2" x2="831.5" y2="381.1" stroke="#2f5f9a" stroke-opacity="0.07" stroke-width="1"/><line x1="621.5" y1="367.3" x2="621.5" y2="409.2" stroke="#ffffff" stroke-opacity="0.06" stroke-width="1"/><line x1="802.5" y1="342.1" x2="802.5" y2="373.8" stroke="#ffffff" stroke-opacity="0.04" stroke-width="1"/><line x1="824.5" y1="344.4" x2="824.5" y2="388.7" stroke="#2f5f9a" stroke-opacity="0.09" stroke-width="1"/><line x1="702.5" y1="385.8" x2="702.5" y2="434.7" stroke="#ffffff" stroke-opacity="0.09" stroke-width="1"/><line x1="752.5" y1="434.3" x2="752.5" y2="474.2" stroke="#2f5f9a" stroke-opacity="0.07" stroke-width="1"/><line x1="607.5" y1="387.3" x2="607.5" y2="415.3" stroke="#2f5f9a" stroke-opacity="0.04" stroke-width="1"/><line x1="872.5" y1="374.1" x2="872.5" y2="391.4" stroke="#2f5f9a" stroke-opacity="0.06" stroke-width="1"/><line x1="622.5" y1="379.5" x2="622.5" y2="407.1" stroke="#ffffff" stroke-opacity="0.06" stroke-width="1"/><line x1="720.5" y1="346.6" x2="720.5" y2="372.8" stroke="#2f5f9a" stroke-opacity="0.06" stroke-width="1"/><line x1="872.5" y1="386.0" x2="872.5" y2="405.6" stroke="#2f5f9a" stroke-opacity="0.09" stroke-width="1"/><line x1="648.5" y1="377.6" x2="648.5" y2="422.0" stroke="#ffffff" stroke-opacity="0.10" stroke-width="1"/><line x1="852.5" y1="383.6" x2="852.5" y2="402.7" stroke="#2f5f9a" stroke-opacity="0.06" stroke-width="1"/><line x1="785.5" y1="381.3" x2="785.5" y2="410.9" stroke="#ffffff" stroke-opacity="0.07" stroke-width="1"/><line x1="591.5" y1="391.3" x2="591.5" y2="417.2" stroke="#2f5f9a" stroke-opacity="0.04" stroke-width="1"/><line x1="812.5" y1="348.5" x2="812.5" y2="372.8" stroke="#2f5f9a" stroke-opacity="0.07" stroke-width="1"/><line x1="889.5" y1="388.1" x2="889.5" y2="406.7" stroke="#2f5f9a" stroke-opacity="0.09" stroke-width="1"/><line x1="847.5" y1="384.1" x2="847.5" y2="404.7" stroke="#2f5f9a" stroke-opacity="0.07" stroke-width="1"/><line x1="788.5" y1="370.5" x2="788.5" y2="410.7" stroke="#ffffff" stroke-opacity="0.07" stroke-width="1"/><line x1="792.5" y1="335.8" x2="792.5" y2="386.8" stroke="#2f5f9a" stroke-opacity="0.07" stroke-width="1"/><line x1="730.5" y1="358.7" x2="730.5" y2="373.8" stroke="#2f5f9a" stroke-opacity="0.04" stroke-width="1"/><line x1="699.5" y1="395.0" x2="699.5" y2="427.1" stroke="#2f5f9a" stroke-opacity="0.10" stroke-width="1"/><line x1="675.5" y1="349.8" x2="675.5" y2="382.6" stroke="#2f5f9a" stroke-opacity="0.04" stroke-width="1"/><line x1="679.5" y1="399.0" x2="679.5" y2="428.3" stroke="#2f5f9a" stroke-opacity="0.03" stroke-width="1"/><line x1="647.5" y1="371.4" x2="647.5" y2="395.3" stroke="#2f5f9a" stroke-opacity="0.08" stroke-width="1"/><line x1="793.5" y1="370.0" x2="793.5" y2="409.9" stroke="#2f5f9a" stroke-opacity="0.09" stroke-width="1"/><line x1="700.5" y1="397.7" x2="700.5" y2="416.0" stroke="#2f5f9a" stroke-opacity="0.03" stroke-width="1"/><line x1="682.5" y1="346.1" x2="682.5" y2="382.8" stroke="#ffffff" stroke-opacity="0.09" stroke-width="1"/><line x1="601.5" y1="404.7" x2="601.5" y2="431.0" stroke="#ffffff" stroke-opacity="0.04" stroke-width="1"/><line x1="572.5" y1="419.4" x2="572.5" y2="433.5" stroke="#2f5f9a" stroke-opacity="0.08" stroke-width="1"/><line x1="606.5" y1="370.0" x2="606.5" y2="386.0" stroke="#2f5f9a" stroke-opacity="0.06" stroke-width="1"/><line x1="789.5" y1="342.1" x2="789.5" y2="397.9" stroke="#2f5f9a" stroke-opacity="0.07" stroke-width="1"/><line x1="595.5" y1="376.1" x2="595.5" y2="400.2" stroke="#2f5f9a" stroke-opacity="0.08" stroke-width="1"/><line x1="700.5" y1="336.0" x2="700.5" y2="365.5" stroke="#ffffff" stroke-opacity="0.10" stroke-width="1"/><line x1="642.5" y1="394.6" x2="642.5" y2="443.7" stroke="#2f5f9a" stroke-opacity="0.05" stroke-width="1"/><line x1="790.5" y1="346.3" x2="790.5" y2="371.5" stroke="#ffffff" stroke-opacity="0.05" stroke-width="1"/><line x1="768.5" y1="421.7" x2="768.5" y2="470.0" stroke="#ffffff" stroke-opacity="0.07" stroke-width="1"/><line x1="618.5" y1="360.9" x2="618.5" y2="408.0" stroke="#2f5f9a" stroke-opacity="0.07" stroke-width="1"/><line x1="639.5" y1="359.6" x2="639.5" y2="395.8" stroke="#ffffff" stroke-opacity="0.09" stroke-width="1"/><line x1="873.5" y1="373.9" x2="873.5" y2="406.3" stroke="#ffffff" stroke-opacity="0.04" stroke-width="1"/><line x1="875.5" y1="390.0" x2="875.5" y2="405.7" stroke="#2f5f9a" stroke-opacity="0.09" stroke-width="1"/><line x1="876.5" y1="388.1" x2="876.5" y2="408.3" stroke="#2f5f9a" stroke-opacity="0.07" stroke-width="1"/><line x1="675.5" y1="376.5" x2="675.5" y2="401.1" stroke="#2f5f9a" stroke-opacity="0.09" stroke-width="1"/><line x1="763.5" y1="382.8" x2="763.5" y2="442.7" stroke="#ffffff" stroke-opacity="0.04" stroke-width="1"/><line x1="860.5" y1="369.0" x2="860.5" y2="393.6" stroke="#2f5f9a" stroke-opacity="0.06" stroke-width="1"/><line x1="812.5" y1="362.7" x2="812.5" y2="401.0" stroke="#ffffff" stroke-opacity="0.04" stroke-width="1"/><line x1="797.5" y1="348.4" x2="797.5" y2="401.7" stroke="#2f5f9a" stroke-opacity="0.07" stroke-width="1"/><line x1="679.5" y1="365.3" x2="679.5" y2="418.1" stroke="#2f5f9a" stroke-opacity="0.09" stroke-width="1"/><line x1="732.5" y1="410.7" x2="732.5" y2="426.0" stroke="#2f5f9a" stroke-opacity="0.07" stroke-width="1"/><line x1="862.5" y1="369.1" x2="862.5" y2="401.6" stroke="#ffffff" stroke-opacity="0.04" stroke-width="1"/><line x1="848.5" y1="363.1" x2="848.5" y2="404.3" stroke="#2f5f9a" stroke-opacity="0.07" stroke-width="1"/><line x1="662.5" y1="408.6" x2="662.5" y2="430.8" stroke="#2f5f9a" stroke-opacity="0.10" stroke-width="1"/><line x1="754.5" y1="388.5" x2="754.5" y2="408.3" stroke="#ffffff" stroke-opacity="0.07" stroke-width="1"/><line x1="576.5" y1="421.7" x2="576.5" y2="435.1" stroke="#2f5f9a" stroke-opacity="0.07" stroke-width="1"/><line x1="735.5" y1="340.6" x2="735.5" y2="385.6" stroke="#2f5f9a" stroke-opacity="0.06" stroke-width="1"/><line x1="856.5" y1="363.3" x2="856.5" y2="401.0" stroke="#2f5f9a" stroke-opacity="0.05" stroke-width="1"/><line x1="691.5" y1="369.1" x2="691.5" y2="421.3" stroke="#ffffff" stroke-opacity="0.06" stroke-width="1"/><line x1="872.5" y1="379.3" x2="872.5" y2="397.9" stroke="#2f5f9a" stroke-opacity="0.08" stroke-width="1"/><line x1="575.5" y1="423.7" x2="575.5" y2="434.7" stroke="#2f5f9a" stroke-opacity="0.09" stroke-width="1"/><line x1="856.5" y1="384.7" x2="856.5" y2="401.0" stroke="#2f5f9a" stroke-opacity="0.10" stroke-width="1"/><line x1="780.5" y1="341.6" x2="780.5" y2="388.5" stroke="#ffffff" stroke-opacity="0.07" stroke-width="1"/><line x1="728.5" y1="368.7" x2="728.5" y2="403.4" stroke="#2f5f9a" stroke-opacity="0.06" stroke-width="1"/><line x1="879.5" y1="393.3" x2="879.5" y2="410.4" stroke="#2f5f9a" stroke-opacity="0.04" stroke-width="1"/><line x1="879.5" y1="393.3" x2="879.5" y2="410.0" stroke="#2f5f9a" stroke-opacity="0.09" stroke-width="1"/><line x1="622.5" y1="397.8" x2="622.5" y2="416.4" stroke="#2f5f9a" stroke-opacity="0.04" stroke-width="1"/><line x1="790.5" y1="382.3" x2="790.5" y2="401.0" stroke="#2f5f9a" stroke-opacity="0.09" stroke-width="1"/><line x1="647.5" y1="384.0" x2="647.5" y2="440.7" stroke="#ffffff" stroke-opacity="0.07" stroke-width="1"/><line x1="653.5" y1="395.3" x2="653.5" y2="416.3" stroke="#ffffff" stroke-opacity="0.07" stroke-width="1"/><line x1="715.5" y1="355.0" x2="715.5" y2="390.6" stroke="#2f5f9a" stroke-opacity="0.08" stroke-width="1"/><line x1="595.5" y1="404.8" x2="595.5" y2="431.3" stroke="#ffffff" stroke-opacity="0.06" stroke-width="1"/><line x1="611.5" y1="383.6" x2="611.5" y2="400.8" stroke="#ffffff" stroke-opacity="0.05" stroke-width="1"/><line x1="583.5" y1="417.5" x2="583.5" y2="433.8" stroke="#2f5f9a" stroke-opacity="0.10" stroke-width="1"/><line x1="799.5" y1="339.7" x2="799.5" y2="360.8" stroke="#2f5f9a" stroke-opacity="0.08" stroke-width="1"/><line x1="696.5" y1="403.9" x2="696.5" y2="431.5" stroke="#2f5f9a" stroke-opacity="0.10" stroke-width="1"/><line x1="662.5" y1="385.5" x2="662.5" y2="404.8" stroke="#2f5f9a" stroke-opacity="0.06" stroke-width="1"/><line x1="761.5" y1="351.6" x2="761.5" y2="408.1" stroke="#2f5f9a" stroke-opacity="0.04" stroke-width="1"/><line x1="860.5" y1="382.1" x2="860.5" y2="400.7" stroke="#2f5f9a" stroke-opacity="0.06" stroke-width="1"/><line x1="590.5" y1="378.0" x2="590.5" y2="420.7" stroke="#ffffff" stroke-opacity="0.04" stroke-width="1"/><line x1="835.5" y1="377.7" x2="835.5" y2="398.1" stroke="#ffffff" stroke-opacity="0.10" stroke-width="1"/><line x1="674.5" y1="384.6" x2="674.5" y2="430.7" stroke="#2f5f9a" stroke-opacity="0.07" stroke-width="1"/><line x1="639.5" y1="383.5" x2="639.5" y2="416.8" stroke="#2f5f9a" stroke-opacity="0.03" stroke-width="1"/><line x1="668.5" y1="335.9" x2="668.5" y2="364.6" stroke="#2f5f9a" stroke-opacity="0.06" stroke-width="1"/><line x1="842.5" y1="375.6" x2="842.5" y2="406.8" stroke="#2f5f9a" stroke-opacity="0.05" stroke-width="1"/><line x1="833.5" y1="347.1" x2="833.5" y2="392.5" stroke="#ffffff" stroke-opacity="0.04" stroke-width="1"/><line x1="775.5" y1="392.9" x2="775.5" y2="429.0" stroke="#2f5f9a" stroke-opacity="0.07" stroke-width="1"/><line x1="863.5" y1="368.6" x2="863.5" y2="401.7" stroke="#2f5f9a" stroke-opacity="0.06" stroke-width="1"/><line x1="594.5" y1="382.1" x2="594.5" y2="431.3" stroke="#2f5f9a" stroke-opacity="0.09" stroke-width="1"/><line x1="661.5" y1="381.7" x2="661.5" y2="421.3" stroke="#2f5f9a" stroke-opacity="0.06" stroke-width="1"/><line x1="658.5" y1="377.6" x2="658.5" y2="413.8" stroke="#2f5f9a" stroke-opacity="0.08" stroke-width="1"/><line x1="696.5" y1="394.0" x2="696.5" y2="418.6" stroke="#2f5f9a" stroke-opacity="0.03" stroke-width="1"/><line x1="679.5" y1="370.7" x2="679.5" y2="397.9" stroke="#ffffff" stroke-opacity="0.05" stroke-width="1"/><line x1="793.5" y1="338.6" x2="793.5" y2="376.7" stroke="#2f5f9a" stroke-opacity="0.08" stroke-width="1"/><line x1="740.5" y1="345.4" x2="740.5" y2="370.0" stroke="#2f5f9a" stroke-opacity="0.09" stroke-width="1"/><line x1="832.5" y1="360.4" x2="832.5" y2="393.1" stroke="#ffffff" stroke-opacity="0.06" stroke-width="1"/><line x1="826.5" y1="346.7" x2="826.5" y2="385.9" stroke="#ffffff" stroke-opacity="0.08" stroke-width="1"/><line x1="700.5" y1="358.1" x2="700.5" y2="407.8" stroke="#2f5f9a" stroke-opacity="0.05" stroke-width="1"/><line x1="695.5" y1="340.3" x2="695.5" y2="373.6" stroke="#2f5f9a" stroke-opacity="0.10" stroke-width="1"/><line x1="810.5" y1="356.4" x2="810.5" y2="385.3" stroke="#2f5f9a" stroke-opacity="0.10" stroke-width="1"/><line x1="607.5" y1="398.7" x2="607.5" y2="431.1" stroke="#2f5f9a" stroke-opacity="0.05" stroke-width="1"/><line x1="631.5" y1="367.5" x2="631.5" y2="419.7" stroke="#2f5f9a" stroke-opacity="0.08" stroke-width="1"/><line x1="835.5" y1="365.5" x2="835.5" y2="398.1" stroke="#2f5f9a" stroke-opacity="0.08" stroke-width="1"/><line x1="749.5" y1="346.5" x2="749.5" y2="403.5" stroke="#ffffff" stroke-opacity="0.08" stroke-width="1"/><line x1="598.5" y1="389.7" x2="598.5" y2="417.0" stroke="#ffffff" stroke-opacity="0.06" stroke-width="1"/><line x1="808.5" y1="347.3" x2="808.5" y2="378.5" stroke="#2f5f9a" stroke-opacity="0.03" stroke-width="1"/><line x1="585.5" y1="405.7" x2="585.5" y2="433.2" stroke="#2f5f9a" stroke-opacity="0.05" stroke-width="1"/><line x1="598.5" y1="395.3" x2="598.5" y2="431.2" stroke="#2f5f9a" stroke-opacity="0.09" stroke-width="1"/><line x1="743.5" y1="349.8" x2="743.5" y2="365.4" stroke="#2f5f9a" stroke-opacity="0.04" stroke-width="1"/><line x1="612.5" y1="391.9" x2="612.5" y2="431.0" stroke="#2f5f9a" stroke-opacity="0.10" stroke-width="1"/><line x1="683.5" y1="384.9" x2="683.5" y2="437.3" stroke="#ffffff" stroke-opacity="0.04" stroke-width="1"/><line x1="878.5" y1="395.8" x2="878.5" y2="409.7" stroke="#ffffff" stroke-opacity="0.03" stroke-width="1"/><line x1="698.5" y1="377.7" x2="698.5" y2="422.7" stroke="#ffffff" stroke-opacity="0.04" stroke-width="1"/><line x1="588.5" y1="412.9" x2="588.5" y2="432.4" stroke="#ffffff" stroke-opacity="0.09" stroke-width="1"/><line x1="652.5" y1="404.4" x2="652.5" y2="440.4" stroke="#2f5f9a" stroke-opacity="0.09" stroke-width="1"/><line x1="671.5" y1="406.2" x2="671.5" y2="444.0" stroke="#2f5f9a" stroke-opacity="0.07" stroke-width="1"/><line x1="831.5" y1="375.4" x2="831.5" y2="394.8" stroke="#2f5f9a" stroke-opacity="0.06" stroke-width="1"/><line x1="798.5" y1="343.6" x2="798.5" y2="380.4" stroke="#2f5f9a" stroke-opacity="0.05" stroke-width="1"/><line x1="612.5" y1="377.3" x2="612.5" y2="426.3" stroke="#2f5f9a" stroke-opacity="0.07" stroke-width="1"/><line x1="711.5" y1="366.1" x2="711.5" y2="412.9" stroke="#ffffff" stroke-opacity="0.09" stroke-width="1"/><line x1="631.5" y1="370.3" x2="631.5" y2="411.7" stroke="#2f5f9a" stroke-opacity="0.10" stroke-width="1"/><line x1="806.5" y1="368.7" x2="806.5" y2="403.7" stroke="#ffffff" stroke-opacity="0.06" stroke-width="1"/><line x1="861.5" y1="383.6" x2="861.5" y2="400.0" stroke="#2f5f9a" stroke-opacity="0.03" stroke-width="1"/><line x1="782.5" y1="372.3" x2="782.5" y2="420.8" stroke="#ffffff" stroke-opacity="0.05" stroke-width="1"/><line x1="593.5" y1="398.2" x2="593.5" y2="430.1" stroke="#2f5f9a" stroke-opacity="0.07" stroke-width="1"/><line x1="847.5" y1="356.8" x2="847.5" y2="371.9" stroke="#2f5f9a" stroke-opacity="0.10" stroke-width="1"/><line x1="854.5" y1="374.5" x2="854.5" y2="401.8" stroke="#2f5f9a" stroke-opacity="0.06" stroke-width="1"/><line x1="788.5" y1="357.4" x2="788.5" y2="385.2" stroke="#2f5f9a" stroke-opacity="0.10" stroke-width="1"/><line x1="569.5" y1="423.4" x2="569.5" y2="432.2" stroke="#ffffff" stroke-opacity="0.05" stroke-width="1"/><line x1="719.5" y1="378.3" x2="719.5" y2="407.9" stroke="#ffffff" stroke-opacity="0.04" stroke-width="1"/><line x1="678.5" y1="380.6" x2="678.5" y2="428.8" stroke="#2f5f9a" stroke-opacity="0.05" stroke-width="1"/><line x1="762.5" y1="424.6" x2="762.5" y2="474.2" stroke="#2f5f9a" stroke-opacity="0.08" stroke-width="1"/><line x1="575.5" y1="421.0" x2="575.5" y2="434.7" stroke="#2f5f9a" stroke-opacity="0.06" stroke-width="1"/><line x1="589.5" y1="393.8" x2="589.5" y2="432.1" stroke="#ffffff" stroke-opacity="0.03" stroke-width="1"/><line x1="765.5" y1="342.6" x2="765.5" y2="378.7" stroke="#ffffff" stroke-opacity="0.03" stroke-width="1"/><line x1="726.5" y1="369.9" x2="726.5" y2="426.5" stroke="#2f5f9a" stroke-opacity="0.04" stroke-width="1"/><line x1="870.5" y1="386.8" x2="870.5" y2="404.2" stroke="#2f5f9a" stroke-opacity="0.09" stroke-width="1"/><line x1="892.5" y1="392.5" x2="892.5" y2="404.1" stroke="#ffffff" stroke-opacity="0.05" stroke-width="1"/><line x1="858.5" y1="374.8" x2="858.5" y2="401.2" stroke="#ffffff" stroke-opacity="0.08" stroke-width="1"/><line x1="655.5" y1="379.6" x2="655.5" y2="399.6" stroke="#2f5f9a" stroke-opacity="0.05" stroke-width="1"/><line x1="719.5" y1="375.7" x2="719.5" y2="398.2" stroke="#2f5f9a" stroke-opacity="0.05" stroke-width="1"/><line x1="571.5" y1="420.5" x2="571.5" y2="433.1" stroke="#2f5f9a" stroke-opacity="0.05" stroke-width="1"/><line x1="569.5" y1="421.6" x2="569.5" y2="432.2" stroke="#ffffff" stroke-opacity="0.06" stroke-width="1"/><line x1="819.5" y1="345.9" x2="819.5" y2="388.4" stroke="#ffffff" stroke-opacity="0.06" stroke-width="1"/><line x1="572.5" y1="423.8" x2="572.5" y2="433.5" stroke="#2f5f9a" stroke-opacity="0.05" stroke-width="1"/><line x1="787.5" y1="340.9" x2="787.5" y2="392.8" stroke="#2f5f9a" stroke-opacity="0.09" stroke-width="1"/><line x1="696.5" y1="373.4" x2="696.5" y2="408.7" stroke="#ffffff" stroke-opacity="0.10" stroke-width="1"/><line x1="709.5" y1="385.9" x2="709.5" y2="414.1" stroke="#2f5f9a" stroke-opacity="0.08" stroke-width="1"/><line x1="783.5" y1="352.3" x2="783.5" y2="400.8" stroke="#2f5f9a" stroke-opacity="0.04" stroke-width="1"/><line x1="806.5" y1="367.3" x2="806.5" y2="400.5" stroke="#2f5f9a" stroke-opacity="0.04" stroke-width="1"/><line x1="610.5" y1="362.8" x2="610.5" y2="383.4" stroke="#ffffff" stroke-opacity="0.04" stroke-width="1"/><line x1="698.5" y1="396.0" x2="698.5" y2="427.1" stroke="#2f5f9a" stroke-opacity="0.06" stroke-width="1"/><line x1="854.5" y1="384.0" x2="854.5" y2="401.8" stroke="#2f5f9a" stroke-opacity="0.07" stroke-width="1"/><line x1="773.5" y1="379.1" x2="773.5" y2="399.5" stroke="#2f5f9a" stroke-opacity="0.04" stroke-width="1"/><line x1="859.5" y1="362.0" x2="859.5" y2="401.3" stroke="#2f5f9a" stroke-opacity="0.05" stroke-width="1"/><line x1="871.5" y1="386.6" x2="871.5" y2="404.9" stroke="#2f5f9a" stroke-opacity="0.09" stroke-width="1"/><line x1="709.5" y1="403.6" x2="709.5" y2="423.5" stroke="#2f5f9a" stroke-opacity="0.05" stroke-width="1"/><line x1="865.5" y1="384.2" x2="865.5" y2="401.8" stroke="#ffffff" stroke-opacity="0.07" stroke-width="1"/><line x1="776.5" y1="353.0" x2="776.5" y2="410.7" stroke="#2f5f9a" stroke-opacity="0.09" stroke-width="1"/><line x1="775.5" y1="344.4" x2="775.5" y2="364.1" stroke="#2f5f9a" stroke-opacity="0.08" stroke-width="1"/><line x1="630.5" y1="382.9" x2="630.5" y2="425.8" stroke="#2f5f9a" stroke-opacity="0.04" stroke-width="1"/><line x1="758.5" y1="431.7" x2="758.5" y2="467.7" stroke="#ffffff" stroke-opacity="0.07" stroke-width="1"/><line x1="886.5" y1="390.0" x2="886.5" y2="409.4" stroke="#2f5f9a" stroke-opacity="0.08" stroke-width="1"/><line x1="780.5" y1="341.6" x2="780.5" y2="364.3" stroke="#2f5f9a" stroke-opacity="0.09" stroke-width="1"/><line x1="875.5" y1="387.0" x2="875.5" y2="407.6" stroke="#ffffff" stroke-opacity="0.05" stroke-width="1"/><line x1="748.5" y1="416.2" x2="748.5" y2="450.8" stroke="#2f5f9a" stroke-opacity="0.06" stroke-width="1"/><line x1="676.5" y1="366.3" x2="676.5" y2="392.1" stroke="#2f5f9a" stroke-opacity="0.05" stroke-width="1"/><line x1="867.5" y1="381.9" x2="867.5" y2="402.2" stroke="#ffffff" stroke-opacity="0.10" stroke-width="1"/><line x1="619.5" y1="363.4" x2="619.5" y2="399.0" stroke="#2f5f9a" stroke-opacity="0.08" stroke-width="1"/><line x1="819.5" y1="358.9" x2="819.5" y2="398.3" stroke="#ffffff" stroke-opacity="0.09" stroke-width="1"/><line x1="612.5" y1="390.6" x2="612.5" y2="407.9" stroke="#2f5f9a" stroke-opacity="0.09" stroke-width="1"/><line x1="732.5" y1="378.0" x2="732.5" y2="402.6" stroke="#ffffff" stroke-opacity="0.05" stroke-width="1"/><line x1="775.5" y1="412.3" x2="775.5" y2="441.3" stroke="#2f5f9a" stroke-opacity="0.07" stroke-width="1"/><line x1="760.5" y1="350.1" x2="760.5" y2="373.4" stroke="#2f5f9a" stroke-opacity="0.08" stroke-width="1"/><line x1="813.5" y1="359.5" x2="813.5" y2="391.3" stroke="#2f5f9a" stroke-opacity="0.05" stroke-width="1"/><line x1="616.5" y1="383.2" x2="616.5" y2="430.3" stroke="#2f5f9a" stroke-opacity="0.10" stroke-width="1"/><line x1="685.5" y1="358.8" x2="685.5" y2="376.7" stroke="#2f5f9a" stroke-opacity="0.04" stroke-width="1"/><line x1="592.5" y1="411.6" x2="592.5" y2="431.3" stroke="#ffffff" stroke-opacity="0.06" stroke-width="1"/><line x1="843.5" y1="354.4" x2="843.5" y2="385.1" stroke="#2f5f9a" stroke-opacity="0.03" stroke-width="1"/><line x1="770.5" y1="367.9" x2="770.5" y2="390.7" stroke="#2f5f9a" stroke-opacity="0.07" stroke-width="1"/><line x1="852.5" y1="367.4" x2="852.5" y2="382.9" stroke="#2f5f9a" stroke-opacity="0.09" stroke-width="1"/><line x1="831.5" y1="346.6" x2="831.5" y2="394.8" stroke="#2f5f9a" stroke-opacity="0.03" stroke-width="1"/><line x1="877.5" y1="397.0" x2="877.5" y2="409.0" stroke="#ffffff" stroke-opacity="0.05" stroke-width="1"/><line x1="878.5" y1="396.1" x2="878.5" y2="409.7" stroke="#ffffff" stroke-opacity="0.04" stroke-width="1"/><line x1="732.5" y1="365.9" x2="732.5" y2="408.2" stroke="#ffffff" stroke-opacity="0.04" stroke-width="1"/><line x1="792.5" y1="352.3" x2="792.5" y2="369.4" stroke="#2f5f9a" stroke-opacity="0.07" stroke-width="1"/><line x1="603.5" y1="369.3" x2="603.5" y2="407.9" stroke="#2f5f9a" stroke-opacity="0.05" stroke-width="1"/><line x1="594.5" y1="410.7" x2="594.5" y2="431.3" stroke="#2f5f9a" stroke-opacity="0.05" stroke-width="1"/><line x1="631.5" y1="402.9" x2="631.5" y2="429.8" stroke="#2f5f9a" stroke-opacity="0.05" stroke-width="1"/><line x1="602.5" y1="407.7" x2="602.5" y2="431.2" stroke="#2f5f9a" stroke-opacity="0.03" stroke-width="1"/><line x1="735.5" y1="416.7" x2="735.5" y2="433.5" stroke="#2f5f9a" stroke-opacity="0.08" stroke-width="1"/><line x1="588.5" y1="407.5" x2="588.5" y2="432.4" stroke="#2f5f9a" stroke-opacity="0.07" stroke-width="1"/><line x1="803.5" y1="372.9" x2="803.5" y2="402.7" stroke="#ffffff" stroke-opacity="0.07" stroke-width="1"/><line x1="665.5" y1="384.5" x2="665.5" y2="401.7" stroke="#ffffff" stroke-opacity="0.09" stroke-width="1"/><line x1="826.5" y1="376.2" x2="826.5" y2="396.1" stroke="#2f5f9a" stroke-opacity="0.10" stroke-width="1"/><line x1="732.5" y1="343.2" x2="732.5" y2="402.7" stroke="#2f5f9a" stroke-opacity="0.07" stroke-width="1"/><line x1="891.5" y1="387.9" x2="891.5" y2="405.0" stroke="#ffffff" stroke-opacity="0.03" stroke-width="1"/><line x1="796.5" y1="384.5" x2="796.5" y2="406.3" stroke="#2f5f9a" stroke-opacity="0.03" stroke-width="1"/><line x1="858.5" y1="378.7" x2="858.5" y2="401.2" stroke="#2f5f9a" stroke-opacity="0.10" stroke-width="1"/><line x1="855.5" y1="363.7" x2="855.5" y2="401.4" stroke="#ffffff" stroke-opacity="0.09" stroke-width="1"/><line x1="587.5" y1="408.0" x2="587.5" y2="426.3" stroke="#2f5f9a" stroke-opacity="0.03" stroke-width="1"/><line x1="666.5" y1="373.5" x2="666.5" y2="412.8" stroke="#ffffff" stroke-opacity="0.08" stroke-width="1"/><line x1="568.5" y1="423.3" x2="568.5" y2="431.8" stroke="#2f5f9a" stroke-opacity="0.05" stroke-width="1"/><line x1="741.5" y1="373.0" x2="741.5" y2="391.1" stroke="#2f5f9a" stroke-opacity="0.04" stroke-width="1"/><line x1="623.5" y1="373.9" x2="623.5" y2="409.8" stroke="#2f5f9a" stroke-opacity="0.09" stroke-width="1"/><line x1="836.5" y1="372.3" x2="836.5" y2="389.4" stroke="#2f5f9a" stroke-opacity="0.06" stroke-width="1"/><line x1="582.5" y1="411.8" x2="582.5" y2="434.1" stroke="#2f5f9a" stroke-opacity="0.06" stroke-width="1"/><line x1="669.5" y1="348.2" x2="669.5" y2="369.7" stroke="#2f5f9a" stroke-opacity="0.05" stroke-width="1"/><linearGradient id="ridgeg" x1="0" y1="380" x2="0" y2="430" gradientUnits="userSpaceOnUse"><stop offset="0" stop-color="#2f6aa6" stop-opacity="0"/><stop offset="1" stop-color="#2f6aa6" stop-opacity="0.12"/></linearGradient><polygon points="676,380 735,380 735,420 722,428 720,475 676,475" fill="url(#ridgeg)"/><polyline points="735.5,384 735.5,420 722,428 720.5,460" fill="none" stroke="#5d90c4" stroke-opacity="0.55" stroke-width="1.3"/></g>
<line x1="511.40" y1="302.50" x2="511.40" y2="461.00" stroke="#ede7ab" stroke-width="1"/>
<line x1="511.40" y1="302.50" x2="519.00" y2="302.50" stroke="#ede7ab" stroke-width="1"/>
<text x="484.32" y="305.80" fill="#ede7ab" font-size="16.5" textLength="10.18" lengthAdjust="spacingAndGlyphs">0</text>
<line x1="511.40" y1="328.83" x2="519.00" y2="328.83" stroke="#ede7ab" stroke-width="1"/>
<text x="468.37" y="332.13" fill="#ede7ab" font-size="16.5" textLength="26.13" lengthAdjust="spacingAndGlyphs">-20</text>
<line x1="511.40" y1="355.16" x2="519.00" y2="355.16" stroke="#ede7ab" stroke-width="1"/>
<text x="468.37" y="358.46" fill="#ede7ab" font-size="16.5" textLength="26.13" lengthAdjust="spacingAndGlyphs">-40</text>
<line x1="511.40" y1="381.49" x2="519.00" y2="381.49" stroke="#ede7ab" stroke-width="1"/>
<text x="468.37" y="384.79" fill="#ede7ab" font-size="16.5" textLength="26.13" lengthAdjust="spacingAndGlyphs">-60</text>
<line x1="511.40" y1="407.82" x2="519.00" y2="407.82" stroke="#ede7ab" stroke-width="1"/>
<text x="468.37" y="411.12" fill="#ede7ab" font-size="16.5" textLength="26.13" lengthAdjust="spacingAndGlyphs">-80</text>
<line x1="511.40" y1="434.15" x2="519.00" y2="434.15" stroke="#ede7ab" stroke-width="1"/>
<text x="458.19" y="437.45" fill="#ede7ab" font-size="16.5" textLength="36.31" lengthAdjust="spacingAndGlyphs">-100</text>
<line x1="511.40" y1="460.48" x2="519.00" y2="460.48" stroke="#ede7ab" stroke-width="1"/>
<text x="458.19" y="463.78" fill="#ede7ab" font-size="16.5" textLength="36.31" lengthAdjust="spacingAndGlyphs">-120</text>
<g transform="translate(430.80,382.50) rotate(-90.00)"><text x="-43.21" y="5.80" fill="#ede7ab" font-size="16.5" textLength="86.41" lengthAdjust="spacingAndGlyphs">PSD (dBm)</text></g>
<text x="467.57" y="471.80" fill="#ede7ab" font-size="16.5" textLength="71.86" lengthAdjust="spacingAndGlyphs">19:23:40</text>
<text x="511.85" y="479.57" fill="#ede7ab" font-size="16.5" textLength="71.86" lengthAdjust="spacingAndGlyphs">19:24:00</text>
<text x="556.14" y="487.33" fill="#ede7ab" font-size="16.5" textLength="71.86" lengthAdjust="spacingAndGlyphs">19:24:20</text>
<text x="600.42" y="495.10" fill="#ede7ab" font-size="16.5" textLength="71.86" lengthAdjust="spacingAndGlyphs">19:24:40</text>
<text x="644.70" y="502.87" fill="#ede7ab" font-size="16.5" textLength="71.86" lengthAdjust="spacingAndGlyphs">19:25:00</text>
<text x="688.99" y="510.63" fill="#ede7ab" font-size="16.5" textLength="71.86" lengthAdjust="spacingAndGlyphs">19:25:20</text>
<text x="733.27" y="518.40" fill="#ede7ab" font-size="16.5" textLength="71.86" lengthAdjust="spacingAndGlyphs">19:25:40</text>
<g transform="translate(597.50,506.50) rotate(10.20)"><text x="-44.94" y="5.80" fill="#ede7ab" font-size="16.5" textLength="89.88" lengthAdjust="spacingAndGlyphs">Time (UTC)</text></g>
<text x="795.70" y="514.20" fill="#ede7ab" font-size="16.5" textLength="40.72" lengthAdjust="spacingAndGlyphs">1210</text>
<text x="818.03" y="502.83" fill="#ede7ab" font-size="16.5" textLength="40.72" lengthAdjust="spacingAndGlyphs">1215</text>
<text x="840.36" y="491.46" fill="#ede7ab" font-size="16.5" textLength="40.72" lengthAdjust="spacingAndGlyphs">1220</text>
<text x="862.69" y="480.09" fill="#ede7ab" font-size="16.5" textLength="40.72" lengthAdjust="spacingAndGlyphs">1225</text>
<text x="885.01" y="468.71" fill="#ede7ab" font-size="16.5" textLength="40.72" lengthAdjust="spacingAndGlyphs">1230</text>
<text x="907.34" y="457.34" fill="#ede7ab" font-size="16.5" textLength="40.72" lengthAdjust="spacingAndGlyphs">1235</text>
<text x="929.67" y="445.97" fill="#ede7ab" font-size="16.5" textLength="40.72" lengthAdjust="spacingAndGlyphs">1240</text>
<text x="952.00" y="434.60" fill="#ede7ab" font-size="16.5" textLength="40.72" lengthAdjust="spacingAndGlyphs">1245</text>
<g transform="translate(930.60,479.70) rotate(-27.00)"><text x="-67.99" y="5.80" fill="#ede7ab" font-size="16.5" textLength="135.98" lengthAdjust="spacingAndGlyphs">Frequency (MHz)</text></g>
<polygon points="676.2,319 811.5,250.6 811.5,409 676.2,479" fill="none" stroke="#ff0000" stroke-width="1.2"/>
<text x="481.31" y="607.00" fill="#ede7ab" font-size="16.5" textLength="112.78" lengthAdjust="spacingAndGlyphs">Max Rx Power</text>
<line x1="240.5" y1="632.5" x2="240.5" y2="707.0" stroke="#c8c8c8" stroke-width="1" stroke-dasharray="2,3"/>
<line x1="390.5" y1="632.5" x2="390.5" y2="707.0" stroke="#c8c8c8" stroke-width="1" stroke-dasharray="2,3"/>
<line x1="540.5" y1="632.5" x2="540.5" y2="707.0" stroke="#c8c8c8" stroke-width="1" stroke-dasharray="2,3"/>
<line x1="690.5" y1="632.5" x2="690.5" y2="707.0" stroke="#c8c8c8" stroke-width="1" stroke-dasharray="2,3"/>
<line x1="840.5" y1="632.5" x2="840.5" y2="707.0" stroke="#c8c8c8" stroke-width="1" stroke-dasharray="2,3"/>
<line x1="90.5" y1="664.5" x2="990.5" y2="664.5" stroke="#c8c8c8" stroke-width="1" stroke-dasharray="2,3"/>
<line x1="90.5" y1="632.5" x2="90.5" y2="640.5" stroke="#ede7ab" stroke-width="1"/>
<line x1="90.5" y1="707.0" x2="90.5" y2="699.0" stroke="#ede7ab" stroke-width="1"/>
<line x1="165.5" y1="632.5" x2="165.5" y2="637.5" stroke="#ede7ab" stroke-width="1"/>
<line x1="165.5" y1="707.0" x2="165.5" y2="702.0" stroke="#ede7ab" stroke-width="1"/>
<line x1="240.5" y1="632.5" x2="240.5" y2="640.5" stroke="#ede7ab" stroke-width="1"/>
<line x1="240.5" y1="707.0" x2="240.5" y2="699.0" stroke="#ede7ab" stroke-width="1"/>
<line x1="315.5" y1="632.5" x2="315.5" y2="637.5" stroke="#ede7ab" stroke-width="1"/>
<line x1="315.5" y1="707.0" x2="315.5" y2="702.0" stroke="#ede7ab" stroke-width="1"/>
<line x1="390.5" y1="632.5" x2="390.5" y2="640.5" stroke="#ede7ab" stroke-width="1"/>
<line x1="390.5" y1="707.0" x2="390.5" y2="699.0" stroke="#ede7ab" stroke-width="1"/>
<line x1="465.5" y1="632.5" x2="465.5" y2="637.5" stroke="#ede7ab" stroke-width="1"/>
<line x1="465.5" y1="707.0" x2="465.5" y2="702.0" stroke="#ede7ab" stroke-width="1"/>
<line x1="540.5" y1="632.5" x2="540.5" y2="640.5" stroke="#ede7ab" stroke-width="1"/>
<line x1="540.5" y1="707.0" x2="540.5" y2="699.0" stroke="#ede7ab" stroke-width="1"/>
<line x1="615.5" y1="632.5" x2="615.5" y2="637.5" stroke="#ede7ab" stroke-width="1"/>
<line x1="615.5" y1="707.0" x2="615.5" y2="702.0" stroke="#ede7ab" stroke-width="1"/>
<line x1="690.5" y1="632.5" x2="690.5" y2="640.5" stroke="#ede7ab" stroke-width="1"/>
<line x1="690.5" y1="707.0" x2="690.5" y2="699.0" stroke="#ede7ab" stroke-width="1"/>
<line x1="765.5" y1="632.5" x2="765.5" y2="637.5" stroke="#ede7ab" stroke-width="1"/>
<line x1="765.5" y1="707.0" x2="765.5" y2="702.0" stroke="#ede7ab" stroke-width="1"/>
<line x1="840.5" y1="632.5" x2="840.5" y2="640.5" stroke="#ede7ab" stroke-width="1"/>
<line x1="840.5" y1="707.0" x2="840.5" y2="699.0" stroke="#ede7ab" stroke-width="1"/>
<line x1="915.5" y1="632.5" x2="915.5" y2="637.5" stroke="#ede7ab" stroke-width="1"/>
<line x1="915.5" y1="707.0" x2="915.5" y2="702.0" stroke="#ede7ab" stroke-width="1"/>
<line x1="990.5" y1="632.5" x2="990.5" y2="640.5" stroke="#ede7ab" stroke-width="1"/>
<line x1="990.5" y1="707.0" x2="990.5" y2="699.0" stroke="#ede7ab" stroke-width="1"/>
<line x1="90.5" y1="664.5" x2="98.5" y2="664.5" stroke="#ede7ab" stroke-width="1"/>
<line x1="990.5" y1="664.5" x2="982.5" y2="664.5" stroke="#ede7ab" stroke-width="1"/>
<rect x="90.5" y="632.5" width="900.0" height="74.5" fill="none" stroke="#ede7ab" stroke-width="1"/>
<text x="41.19" y="668.20" fill="#ede7ab" font-size="16.5" textLength="36.31" lengthAdjust="spacingAndGlyphs">-100</text>
<text x="41.19" y="710.60" fill="#ede7ab" font-size="16.5" textLength="36.31" lengthAdjust="spacingAndGlyphs">-120</text>
<text x="53.37" y="729.50" fill="#ede7ab" font-size="16.5" textLength="71.86" lengthAdjust="spacingAndGlyphs">19:23:40</text>
<text x="203.37" y="729.50" fill="#ede7ab" font-size="16.5" textLength="71.86" lengthAdjust="spacingAndGlyphs">19:24:00</text>
<text x="353.37" y="729.50" fill="#ede7ab" font-size="16.5" textLength="71.86" lengthAdjust="spacingAndGlyphs">19:24:20</text>
<text x="503.37" y="729.50" fill="#ede7ab" font-size="16.5" textLength="71.86" lengthAdjust="spacingAndGlyphs">19:24:40</text>
<text x="653.37" y="729.50" fill="#ede7ab" font-size="16.5" textLength="71.86" lengthAdjust="spacingAndGlyphs">19:25:00</text>
<text x="803.37" y="729.50" fill="#ede7ab" font-size="16.5" textLength="71.86" lengthAdjust="spacingAndGlyphs">19:25:20</text>
<text x="953.37" y="729.50" fill="#ede7ab" font-size="16.5" textLength="71.86" lengthAdjust="spacingAndGlyphs">19:25:40</text>
<text x="495.26" y="757.20" fill="#ede7ab" font-size="16.5" textLength="89.88" lengthAdjust="spacingAndGlyphs">Time (UTC)</text>
<g transform="translate(14.20,671.50) rotate(-90.00)"><text x="-51.62" y="5.80" fill="#ede7ab" font-size="16.5" textLength="103.23" lengthAdjust="spacingAndGlyphs">Power (dBm)</text></g>
<polyline points="255.2,683.4 261.9,681.4 271.2,680.3 277.5,677.5 283.8,676.4 293.9,676.4 300.2,678.3 311.1,678.3 315.0,677.2 322.8,678.3 330.6,682.2 335.3,683.4 341.6,683.4 346.2,684.5 349.4,684.5 354.8,683.3 360.3,680.6 366.6,675.6 371.2,673.1 375.9,671.7 382.5,668.4 386.9,670.5 390.3,673.3 398.6,665.0 405.6,670.5 413.4,668.6 421.2,667.3 428.3,668.6 436.9,675.2 444.7,678.8 450.2,683.0 458.3,660.3 465.3,680.3 474.4,675.9 482.2,666.9 490.0,665.3 497.8,664.2 503.3,661.4 508.8,662.7 517.3,667.3 525.9,667.3 532.2,670.0 540.0,672.5 549.4,670.5 561.9,663.8 571.2,662.2 580.6,658.8 593.1,653.6 608.0,653.6 619.7,659.5 630.6,661.4 644.7,665.0 655.6,668.1 660.3,670.5 672.8,665.8 682.2,662.7 690.8,658.8 696.2,659.8 700.9,660.3 705.6,661.4 711.9,666.9 719.7,672.8 728.3,687.7" fill="none" stroke="#f0e800" stroke-width="1.1" stroke-linejoin="round"/>
<polyline points="743.1,683.8 757.2,676.7 764.2,673.3 774.4,673.3 779.0,674.4 788.4,679.4 795.5,682.5" fill="none" stroke="#f0e800" stroke-width="1.1" stroke-linejoin="round"/>
<line x1="593.5" y1="632.5" x2="593.5" y2="707.0" stroke="#ff0000" stroke-width="1.2"/>
</svg></body></html>
